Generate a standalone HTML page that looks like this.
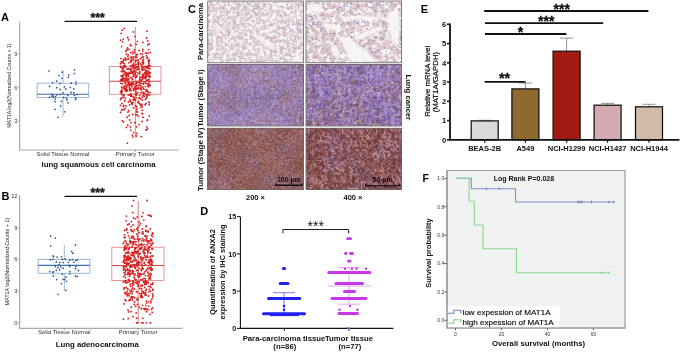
<!DOCTYPE html><html><head><meta charset="utf-8"><title>Figure</title><style>html,body{margin:0;padding:0;background:#fff;width:685px;height:352px;overflow:hidden}svg{display:block}text{font-family:"Liberation Sans",Arial,sans-serif}</style></head><body><svg width="685" height="352" viewBox="0 0 685 352" font-family="Liberation Sans, Arial, sans-serif"><defs><filter id="p1" x="0" y="0" width="100%" height="100%" color-interpolation-filters="sRGB"><feTurbulence type="fractalNoise" baseFrequency="0.3" numOctaves="3" seed="11"/><feComponentTransfer><feFuncR type="linear" slope="3.333333333333333" intercept="-1.1666666666666665"/><feFuncG type="linear" slope="4.999999999999998" intercept="-2.9999999999999987"/><feFuncB type="linear" slope="0" intercept="0"/><feFuncA type="linear" slope="0" intercept="1"/></feComponentTransfer><feColorMatrix type="matrix" values="-0.125 -0.031 0.000 0.000 0.992 -0.212 -0.055 0.000 0.000 1.000 -0.149 -0.047 0.000 0.000 0.973 0 0 0 0 1" result="fc"/><feTurbulence type="fractalNoise" baseFrequency="0.05" numOctaves="2" seed="21"/><feComponentTransfer><feFuncR type="linear" slope="2.5" intercept="-0.75"/><feFuncG type="linear" slope="0" intercept="0"/><feFuncB type="linear" slope="0" intercept="0"/><feFuncA type="linear" slope="0" intercept="1"/></feComponentTransfer><feColorMatrix type="matrix" values="-0.039 0.000 0.000 0.000 0.500 -0.039 0.000 0.000 0.000 0.500 -0.039 0.000 0.000 0.000 0.500 0 0 0 0 1" result="cc"/><feComposite in="fc" in2="cc" operator="arithmetic" k1="0" k2="1" k3="1" k4="-0.5" result="m1"/><feGaussianBlur stdDeviation="0.45"/><feComponentTransfer><feFuncA type="linear" slope="0" intercept="1"/></feComponentTransfer></filter><filter id="p2" x="0" y="0" width="100%" height="100%" color-interpolation-filters="sRGB"><feTurbulence type="fractalNoise" baseFrequency="0.22" numOctaves="3" seed="12"/><feComponentTransfer><feFuncR type="linear" slope="4.999999999999998" intercept="-1.7999999999999994"/><feFuncG type="linear" slope="5.5555555555555545" intercept="-3.4444444444444438"/><feFuncB type="linear" slope="0" intercept="0"/><feFuncA type="linear" slope="0" intercept="1"/></feComponentTransfer><feColorMatrix type="matrix" values="-0.110 -0.031 0.000 0.000 0.984 -0.196 -0.055 0.000 0.000 0.984 -0.157 -0.047 0.000 0.000 0.969 0 0 0 0 1" result="fc"/><feTurbulence type="fractalNoise" baseFrequency="0.045" numOctaves="2" seed="22"/><feComponentTransfer><feFuncR type="linear" slope="2.5" intercept="-0.75"/><feFuncG type="linear" slope="0" intercept="0"/><feFuncB type="linear" slope="0" intercept="0"/><feFuncA type="linear" slope="0" intercept="1"/></feComponentTransfer><feColorMatrix type="matrix" values="-0.039 0.000 0.000 0.000 0.500 -0.039 0.000 0.000 0.000 0.500 -0.039 0.000 0.000 0.000 0.500 0 0 0 0 1" result="cc"/><feComposite in="fc" in2="cc" operator="arithmetic" k1="0" k2="1" k3="1" k4="-0.5" result="m1"/><feGaussianBlur stdDeviation="0.45"/><feComponentTransfer><feFuncA type="linear" slope="0" intercept="1"/></feComponentTransfer></filter><filter id="s1" x="0" y="0" width="100%" height="100%" color-interpolation-filters="sRGB"><feTurbulence type="fractalNoise" baseFrequency="0.35" numOctaves="3" seed="13"/><feComponentTransfer><feFuncR type="linear" slope="2.5" intercept="-0.75"/><feFuncG type="linear" slope="3.333333333333333" intercept="-1.6666666666666665"/><feFuncB type="linear" slope="0" intercept="0"/><feFuncA type="linear" slope="0" intercept="1"/></feComponentTransfer><feColorMatrix type="matrix" values="-0.098 -0.059 0.000 0.000 0.710 -0.110 -0.098 0.000 0.000 0.627 -0.059 -0.216 0.000 0.000 0.820 0 0 0 0 1" result="fc"/><feTurbulence type="fractalNoise" baseFrequency="0.045" numOctaves="2" seed="23"/><feComponentTransfer><feFuncR type="linear" slope="2.5" intercept="-0.75"/><feFuncG type="linear" slope="4.0" intercept="-1.6"/><feFuncB type="linear" slope="0" intercept="0"/><feFuncA type="linear" slope="0" intercept="1"/></feComponentTransfer><feColorMatrix type="matrix" values="-0.059 0.000 0.000 0.000 0.500 -0.059 -0.020 0.000 0.000 0.500 -0.059 -0.098 0.000 0.000 0.500 0 0 0 0 1" result="cc"/><feComposite in="fc" in2="cc" operator="arithmetic" k1="0" k2="1" k3="1" k4="-0.5" result="m1"/><feGaussianBlur stdDeviation="0.45"/><feComponentTransfer><feFuncA type="linear" slope="0" intercept="1"/></feComponentTransfer></filter><filter id="s2" x="0" y="0" width="100%" height="100%" color-interpolation-filters="sRGB"><feTurbulence type="fractalNoise" baseFrequency="0.25" numOctaves="3" seed="14"/><feComponentTransfer><feFuncR type="linear" slope="2.5" intercept="-0.75"/><feFuncG type="linear" slope="3.333333333333333" intercept="-1.6666666666666665"/><feFuncB type="linear" slope="0" intercept="0"/><feFuncA type="linear" slope="0" intercept="1"/></feComponentTransfer><feColorMatrix type="matrix" values="-0.118 -0.059 0.000 0.000 0.702 -0.125 -0.110 0.000 0.000 0.604 -0.071 -0.235 0.000 0.000 0.820 0 0 0 0 1" result="fc"/><feTurbulence type="fractalNoise" baseFrequency="0.06" numOctaves="2" seed="24"/><feComponentTransfer><feFuncR type="linear" slope="2.5" intercept="-0.75"/><feFuncG type="linear" slope="4.0" intercept="-1.6"/><feFuncB type="linear" slope="0" intercept="0"/><feFuncA type="linear" slope="0" intercept="1"/></feComponentTransfer><feColorMatrix type="matrix" values="-0.059 0.000 0.000 0.000 0.500 -0.059 -0.020 0.000 0.000 0.500 -0.059 -0.098 0.000 0.000 0.500 0 0 0 0 1" result="cc"/><feComposite in="fc" in2="cc" operator="arithmetic" k1="0" k2="1" k3="1" k4="-0.5" result="m1"/><feGaussianBlur stdDeviation="0.45"/><feComponentTransfer><feFuncA type="linear" slope="0" intercept="1"/></feComponentTransfer></filter><filter id="t1" x="0" y="0" width="100%" height="100%" color-interpolation-filters="sRGB"><feTurbulence type="fractalNoise" baseFrequency="0.35" numOctaves="3" seed="15"/><feComponentTransfer><feFuncR type="linear" slope="2.0" intercept="-0.5"/><feFuncG type="linear" slope="4.0" intercept="-2.2"/><feFuncB type="linear" slope="0" intercept="0"/><feFuncA type="linear" slope="0" intercept="1"/></feComponentTransfer><feColorMatrix type="matrix" values="-0.098 0.000 0.000 0.000 0.651 -0.098 0.071 0.000 0.000 0.447 -0.086 0.176 0.000 0.000 0.412 0 0 0 0 1" result="fc"/><feTurbulence type="fractalNoise" baseFrequency="0.04" numOctaves="2" seed="25"/><feComponentTransfer><feFuncR type="linear" slope="2.5" intercept="-0.75"/><feFuncG type="linear" slope="5.0" intercept="-2.25"/><feFuncB type="linear" slope="0" intercept="0"/><feFuncA type="linear" slope="0" intercept="1"/></feComponentTransfer><feColorMatrix type="matrix" values="-0.047 0.000 0.000 0.000 0.500 -0.047 0.031 0.000 0.000 0.500 -0.047 0.086 0.000 0.000 0.500 0 0 0 0 1" result="cc"/><feComposite in="fc" in2="cc" operator="arithmetic" k1="0" k2="1" k3="1" k4="-0.5" result="m1"/><feGaussianBlur stdDeviation="0.45"/><feComponentTransfer><feFuncA type="linear" slope="0" intercept="1"/></feComponentTransfer></filter><filter id="t2" x="0" y="0" width="100%" height="100%" color-interpolation-filters="sRGB"><feTurbulence type="fractalNoise" baseFrequency="0.25" numOctaves="3" seed="16"/><feComponentTransfer><feFuncR type="linear" slope="2.5" intercept="-0.75"/><feFuncG type="linear" slope="4.545454545454544" intercept="-2.6363636363636354"/><feFuncB type="linear" slope="0" intercept="0"/><feFuncA type="linear" slope="0" intercept="1"/></feComponentTransfer><feColorMatrix type="matrix" values="-0.137 0.000 0.000 0.000 0.675 -0.125 0.071 0.000 0.000 0.439 -0.110 0.176 0.000 0.000 0.420 0 0 0 0 1" result="fc"/><feTurbulence type="fractalNoise" baseFrequency="0.04" numOctaves="2" seed="26"/><feComponentTransfer><feFuncR type="linear" slope="2.5" intercept="-0.75"/><feFuncG type="linear" slope="5.0" intercept="-2.25"/><feFuncB type="linear" slope="0" intercept="0"/><feFuncA type="linear" slope="0" intercept="1"/></feComponentTransfer><feColorMatrix type="matrix" values="-0.047 0.000 0.000 0.000 0.500 -0.047 0.039 0.000 0.000 0.500 -0.047 0.110 0.000 0.000 0.500 0 0 0 0 1" result="cc"/><feComposite in="fc" in2="cc" operator="arithmetic" k1="0" k2="1" k3="1" k4="-0.5" result="m1"/><feGaussianBlur stdDeviation="0.45"/><feComponentTransfer><feFuncA type="linear" slope="0" intercept="1"/></feComponentTransfer></filter><filter id="bl1" x="-10%" y="-10%" width="120%" height="120%"><feGaussianBlur stdDeviation="0.9"/></filter><clipPath id="cp2"><rect x="306" y="1" width="95.4" height="61.8"/></clipPath><clipPath id="cp1"><rect x="207.8" y="1" width="95.6" height="61.8"/></clipPath><filter id="bl2" x="0" y="0" width="100%" height="100%"><feGaussianBlur stdDeviation="0.3"/></filter><clipPath id="ci0"><rect x="207.8" y="1.0" width="95.6" height="61.8"/></clipPath><clipPath id="ci1"><rect x="306.0" y="1.0" width="95.4" height="61.8"/></clipPath><clipPath id="ci2"><rect x="207.8" y="64.6" width="95.6" height="61.4"/></clipPath><clipPath id="ci3"><rect x="306.0" y="64.6" width="95.4" height="61.4"/></clipPath><clipPath id="ci4"><rect x="207.8" y="128.2" width="95.6" height="61.2"/></clipPath><clipPath id="ci5"><rect x="306.0" y="128.2" width="95.4" height="61.2"/></clipPath></defs><rect width="685" height="352" fill="#fff"/><text x="0.9" y="20.6" font-size="11" font-weight="bold" text-anchor="start" fill="#000">A</text><path d="M19.6 22V150H178.8" fill="none" stroke="#a8a8a8" stroke-width="1.2"/><path d="M18.2 120.99H19.6" stroke="#888" stroke-width="0.8"/><text x="17.6" y="123.09" font-size="5.8" text-anchor="end" fill="#3a3a3a">3</text><path d="M18.2 87.48H19.6" stroke="#888" stroke-width="0.8"/><text x="17.6" y="89.58" font-size="5.8" text-anchor="end" fill="#3a3a3a">6</text><path d="M18.2 53.97H19.6" stroke="#888" stroke-width="0.8"/><text x="17.6" y="56.07" font-size="5.8" text-anchor="end" fill="#3a3a3a">9</text><path d="M63 150v1.8" stroke="#666" stroke-width="0.7"/><path d="M135.3 150v1.8" stroke="#666" stroke-width="0.7"/><text x="63" y="155.6" font-size="5.95" text-anchor="middle" fill="#333">Solid Tissue Normal</text><text x="135.3" y="155.6" font-size="5.95" text-anchor="middle" fill="#333">Primary Tumor</text><text x="98.5" y="166.8" font-size="7.8" font-weight="bold" text-anchor="middle" fill="#111">lung squamous cell carcinoma</text><text x="11.4" y="85.6" font-size="5.2" text-anchor="middle" fill="#222" transform="rotate(-90 11.4 85.6)">MAT1A log2(Normalized Counts + 1)</text><path d="M64.5 21.4H137.1" stroke="#111" stroke-width="1.3"/><text x="97.7" y="21.5" font-size="12.3" font-weight="bold" text-anchor="middle" fill="#111" stroke="#111" stroke-width="0.3">***</text><path d="M63 70.1V83.2M63 97.4V117" stroke="#8fb0d8" stroke-width="0.9"/><rect x="37.2" y="83.2" width="51.5" height="14.200000000000003" fill="none" stroke="#8fb0d8" stroke-width="0.9"/><path d="M37.2 94.3H88.7" stroke="#3d6db0" stroke-width="1.1"/><circle cx="49" cy="71" r="0.85" fill="#2b4f90"/><circle cx="62.3" cy="72.2" r="0.85" fill="#2b4f90"/><circle cx="74.5" cy="69.8" r="0.85" fill="#2b4f90"/><circle cx="74.5" cy="73.5" r="0.85" fill="#2b4f90"/><circle cx="58.9" cy="75.6" r="0.85" fill="#2b4f90"/><circle cx="68.7" cy="75.2" r="0.85" fill="#2b4f90"/><circle cx="68.2" cy="77.3" r="0.85" fill="#2b4f90"/><circle cx="61.9" cy="78.3" r="0.85" fill="#2b4f90"/><circle cx="56.8" cy="81.2" r="0.85" fill="#2b4f90"/><circle cx="52.5" cy="82.5" r="0.85" fill="#2b4f90"/><circle cx="60.2" cy="83.4" r="0.85" fill="#2b4f90"/><circle cx="71.1" cy="83.2" r="0.85" fill="#2b4f90"/><circle cx="75.9" cy="82" r="0.85" fill="#2b4f90"/><circle cx="75.9" cy="84" r="0.85" fill="#2b4f90"/><circle cx="49.5" cy="86.3" r="0.85" fill="#2b4f90"/><circle cx="56.8" cy="87.7" r="0.85" fill="#2b4f90"/><circle cx="60.2" cy="89.4" r="0.85" fill="#2b4f90"/><circle cx="64.3" cy="86.8" r="0.85" fill="#2b4f90"/><circle cx="65.7" cy="88.9" r="0.85" fill="#2b4f90"/><circle cx="70.3" cy="87.5" r="0.85" fill="#2b4f90"/><circle cx="73.8" cy="88.9" r="0.85" fill="#2b4f90"/><circle cx="63.1" cy="92.8" r="0.85" fill="#2b4f90"/><circle cx="71.1" cy="92.3" r="0.85" fill="#2b4f90"/><circle cx="73.8" cy="92.6" r="0.85" fill="#2b4f90"/><circle cx="51.7" cy="94.3" r="0.85" fill="#2b4f90"/><circle cx="52.9" cy="95.7" r="0.85" fill="#2b4f90"/><circle cx="56.8" cy="94.8" r="0.85" fill="#2b4f90"/><circle cx="60.5" cy="94.5" r="0.85" fill="#2b4f90"/><circle cx="67.9" cy="95.3" r="0.85" fill="#2b4f90"/><circle cx="74.5" cy="95.3" r="0.85" fill="#2b4f90"/><circle cx="77.2" cy="94.5" r="0.85" fill="#2b4f90"/><circle cx="49.5" cy="97.4" r="0.85" fill="#2b4f90"/><circle cx="55.4" cy="96.5" r="0.85" fill="#2b4f90"/><circle cx="63.6" cy="97.4" r="0.85" fill="#2b4f90"/><circle cx="66.5" cy="98.2" r="0.85" fill="#2b4f90"/><circle cx="75.9" cy="98.2" r="0.85" fill="#2b4f90"/><circle cx="55.1" cy="99.1" r="0.85" fill="#2b4f90"/><circle cx="67" cy="99.9" r="0.85" fill="#2b4f90"/><circle cx="75.5" cy="99.4" r="0.85" fill="#2b4f90"/><circle cx="55.1" cy="101.6" r="0.85" fill="#2b4f90"/><circle cx="61.4" cy="101.3" r="0.85" fill="#2b4f90"/><circle cx="68.2" cy="102.8" r="0.85" fill="#2b4f90"/><circle cx="60.6" cy="105.9" r="0.85" fill="#2b4f90"/><circle cx="55.1" cy="109.3" r="0.85" fill="#2b4f90"/><circle cx="64.8" cy="111.8" r="0.85" fill="#2b4f90"/><circle cx="58" cy="117.3" r="0.85" fill="#2b4f90"/><circle cx="52" cy="96.5" r="0.85" fill="#2b4f90"/><circle cx="53.4" cy="97" r="0.85" fill="#2b4f90"/><path d="M135.3 27V137.5" stroke="#e07070" stroke-width="0.9"/><rect x="109.3" y="66.5" width="51.60000000000001" height="27.75" fill="none" stroke="#e58a8a" stroke-width="0.9"/><path d="M138.4 116.4h0M122.3 83.6h0M127.3 74.8h0M134.4 89.6h0M124.8 101.0h0M146.3 76.5h0M122.2 80.9h0M138.0 102.1h0M134.5 50.0h0M146.7 73.8h0M144.3 66.4h0M148.4 86.9h0M126.8 73.0h0M133.4 75.0h0M131.9 85.3h0M137.9 62.6h0M148.2 60.8h0M150.0 92.6h0M149.2 64.1h0M137.4 54.1h0M137.5 72.8h0M122.2 30.2h0M144.3 73.2h0M124.8 80.1h0M121.6 80.0h0M121.6 110.1h0M149.7 94.8h0M150.3 52.5h0M121.2 61.6h0M132.5 67.8h0M146.3 77.2h0M149.1 76.0h0M135.9 91.7h0M138.2 68.0h0M135.5 105.8h0M141.9 104.2h0M135.9 114.7h0M120.6 40.2h0M138.8 82.3h0M122.1 81.1h0M130.9 101.9h0M142.4 74.9h0M149.2 43.9h0M134.0 70.0h0M129.7 85.8h0M138.2 66.7h0M121.1 98.3h0M142.4 61.6h0M127.5 75.0h0M133.4 31.9h0M130.3 69.0h0M133.5 71.7h0M139.8 73.0h0M133.8 67.7h0M126.0 59.6h0M145.5 66.9h0M139.6 97.6h0M130.7 52.7h0M128.4 102.0h0M132.8 53.8h0M125.0 108.3h0M148.6 49.6h0M148.8 63.6h0M127.0 81.0h0M135.9 68.1h0M130.5 126.9h0M128.9 49.5h0M121.7 71.3h0M147.2 91.5h0M137.6 111.8h0M129.3 88.0h0M136.0 88.9h0M130.5 60.4h0M146.1 103.6h0M126.2 76.8h0M144.8 93.4h0M144.5 69.2h0M120.5 112.5h0M128.4 76.5h0M136.1 95.1h0M120.4 105.4h0M124.1 78.3h0M122.9 62.6h0M130.8 84.9h0M137.9 67.7h0M124.0 74.8h0M141.8 67.1h0M131.5 71.4h0M143.8 75.1h0M133.2 73.0h0M135.2 99.6h0M134.1 100.0h0M136.4 64.4h0M133.1 65.4h0M148.4 72.8h0M128.2 58.3h0M124.0 95.6h0M144.1 96.2h0M142.3 106.5h0M120.4 63.7h0M143.5 62.3h0M146.7 75.5h0M121.0 79.7h0M140.5 58.6h0M148.9 59.6h0M143.3 78.4h0M141.8 83.6h0M122.1 88.0h0M137.2 114.9h0M127.8 79.2h0M142.9 70.2h0M130.8 89.9h0M122.8 68.4h0M142.7 64.3h0M141.0 92.9h0M134.8 88.0h0M147.2 95.8h0M147.8 44.7h0M133.6 65.5h0M126.3 75.0h0M129.7 68.7h0M129.2 115.5h0M132.7 114.5h0M126.8 89.9h0M134.7 100.0h0M130.0 73.0h0M124.6 67.1h0M134.3 99.9h0M144.9 77.1h0M146.0 103.6h0M142.3 76.8h0M127.3 90.3h0M140.6 77.4h0M126.0 72.8h0M125.9 106.0h0M128.0 59.3h0M129.7 104.8h0M123.1 80.5h0M129.1 86.0h0M120.5 99.5h0M133.4 90.6h0M149.0 74.7h0M136.6 60.3h0M123.7 94.7h0M147.6 57.6h0M143.5 59.2h0M129.2 84.9h0M128.3 95.1h0M149.1 102.2h0M135.1 86.9h0M141.8 81.3h0M139.7 88.4h0M125.7 83.5h0M148.3 84.0h0M130.2 100.8h0M139.7 95.4h0M129.7 90.7h0M142.9 42.4h0M142.5 69.7h0M146.5 81.1h0M135.4 56.9h0M130.3 84.0h0M136.5 93.7h0M123.7 97.3h0M123.3 39.1h0M125.8 78.3h0M132.8 137.1h0M138.1 69.6h0M132.3 135.1h0M126.4 127.4h0M143.7 94.5h0M148.8 65.9h0M136.9 109.7h0M140.9 107.3h0M142.1 100.0h0M143.4 83.2h0M134.1 98.0h0M136.2 85.5h0M133.6 132.6h0M149.1 79.7h0M139.0 62.1h0M131.1 45.7h0M148.2 53.1h0M146.4 70.8h0M138.3 59.9h0M141.8 57.4h0M148.3 94.8h0M133.4 56.9h0M121.6 86.9h0M126.3 86.1h0M136.4 136.0h0M139.8 79.2h0M132.3 104.4h0M147.3 75.8h0M136.2 89.4h0M127.0 68.9h0M124.6 73.5h0M126.2 54.2h0M125.3 72.3h0M123.6 59.5h0M121.0 98.4h0M132.5 79.3h0M132.2 65.1h0M149.3 77.4h0M125.2 58.0h0M130.7 70.1h0M128.6 39.7h0M134.3 71.9h0M128.3 83.2h0M139.2 68.8h0M149.4 60.7h0M120.4 67.0h0M121.4 71.4h0M139.9 77.2h0M134.6 67.2h0M147.8 40.9h0M138.5 67.1h0M122.9 76.9h0M132.0 78.4h0M140.7 85.7h0M142.3 68.4h0M136.9 57.6h0M127.2 89.8h0M134.7 67.8h0M138.5 63.3h0M131.9 58.6h0M121.0 66.2h0M143.1 60.1h0M145.6 70.6h0M146.7 73.3h0M142.3 110.2h0M131.4 69.7h0M137.4 41.3h0M127.5 47.9h0M124.9 65.5h0M127.2 81.6h0M126.9 80.8h0M138.4 102.7h0M136.4 66.9h0M145.1 81.9h0M121.0 76.1h0M122.9 69.7h0M127.0 49.4h0M143.1 95.8h0M130.7 94.0h0M145.4 86.6h0M144.7 77.2h0M142.1 121.4h0M130.7 96.0h0M142.4 62.4h0M139.8 71.4h0M150.2 76.5h0M133.2 66.0h0M148.2 83.7h0M146.5 70.8h0M136.4 106.3h0M148.7 102.3h0M143.5 63.2h0M150.2 85.1h0M125.8 88.8h0M139.5 84.7h0M142.7 51.1h0M142.6 113.7h0M128.9 73.9h0M122.6 97.3h0M143.2 56.8h0M146.6 38.0h0M125.1 85.9h0M136.6 97.6h0M145.9 75.4h0M129.2 72.4h0M124.2 85.9h0M136.4 81.7h0M143.4 67.4h0M149.7 76.5h0M125.9 75.7h0M133.3 88.6h0M123.1 61.7h0M127.7 73.7h0M121.6 89.9h0M139.1 73.9h0M127.7 56.3h0M143.0 117.2h0M136.9 108.1h0M125.4 90.8h0M147.5 129.0h0M140.3 104.8h0M132.7 71.6h0M125.4 98.5h0M136.7 126.8h0M130.9 122.6h0M149.1 74.3h0M129.7 119.9h0M145.1 104.7h0M138.7 64.2h0M134.9 122.7h0M141.6 105.3h0M131.4 61.7h0M147.2 66.2h0M147.9 85.8h0M131.8 103.6h0M148.8 84.5h0M129.8 68.7h0M127.8 81.3h0M122.7 71.8h0M136.1 83.5h0M145.4 73.8h0M128.8 79.0h0M122.4 81.1h0M136.7 112.0h0M127.4 84.8h0M125.6 59.5h0M140.5 53.9h0M143.1 76.5h0M126.0 79.3h0M149.1 76.3h0M131.8 83.0h0M124.2 28.4h0M147.7 67.1h0M126.1 66.6h0M127.7 37.5h0M148.8 80.5h0M120.9 83.4h0M142.7 92.2h0M136.4 95.0h0M136.3 86.7h0M148.3 73.5h0M125.7 60.4h0M128.3 74.8h0M121.9 103.5h0M123.7 105.4h0M146.4 53.2h0M136.1 56.8h0M123.1 80.9h0M138.3 87.6h0M135.5 76.6h0M138.3 85.6h0M148.4 66.7h0M149.6 73.3h0M124.0 109.6h0M139.7 81.2h0M149.3 115.9h0M146.5 98.0h0M136.2 77.1h0M133.1 83.9h0M143.6 83.5h0M149.7 68.7h0M126.7 91.4h0M146.3 67.7h0M131.1 90.3h0M131.5 94.9h0M146.6 80.2h0M131.4 73.2h0M124.5 71.2h0M121.2 98.4h0M147.9 68.6h0M145.4 81.9h0M133.5 107.9h0M131.6 57.1h0M147.0 58.3h0M138.3 66.0h0M121.1 33.3h0M125.8 51.2h0M132.0 84.7h0M140.1 99.0h0M123.2 70.9h0M133.6 81.9h0M150.1 85.5h0M133.0 51.8h0M145.1 78.6h0M146.8 97.1h0M132.1 67.3h0M148.4 92.1h0M137.5 82.4h0M146.0 83.6h0M128.8 62.8h0M126.4 89.4h0M147.3 120.0h0M130.9 130.1h0M147.6 83.8h0M122.1 80.4h0M129.7 89.8h0M145.0 72.4h0M123.9 87.3h0M125.9 88.0h0M135.3 74.5h0M122.0 62.7h0M132.0 102.6h0M141.1 87.6h0M123.6 67.9h0M127.7 125.2h0M126.8 72.7h0M142.8 86.9h0M136.5 85.6h0M122.0 91.0h0M146.1 91.4h0M147.3 90.1h0M127.0 85.3h0M150.2 65.8h0M125.7 80.9h0M137.8 92.6h0M136.1 44.4h0M146.2 98.3h0M135.1 77.1h0M123.1 75.1h0M136.9 88.7h0M136.5 55.2h0M145.4 99.3h0M140.7 80.2h0M130.8 77.5h0M141.2 90.1h0M131.9 84.3h0M142.0 113.4h0M132.1 96.6h0M123.5 121.9h0M134.8 65.1h0M123.3 106.4h0M148.0 80.0h0M122.3 94.8h0M129.7 90.5h0M134.6 52.5h0M128.2 55.0h0M135.6 72.0h0M127.0 50.0h0M147.4 73.4h0M141.4 136.7h0M149.5 77.1h0M143.2 63.2h0M135.6 99.8h0M146.4 90.0h0M133.1 102.6h0M128.0 80.3h0M121.7 92.5h0M139.5 103.4h0M148.9 85.6h0M142.1 97.5h0M142.7 61.1h0M126.4 74.5h0M134.8 36.6h0M124.8 82.7h0M125.1 89.7h0M139.0 124.6h0M122.8 78.5h0M132.0 78.3h0M128.2 58.9h0M120.4 80.4h0M121.3 93.6h0M130.1 88.4h0M132.0 57.9h0M133.7 63.5h0M133.9 84.6h0M130.7 70.1h0M129.8 99.6h0M136.7 76.2h0M121.1 80.5h0M126.2 76.4h0M138.3 82.1h0M142.4 54.2h0M122.2 91.3h0M135.3 73.9h0M139.0 50.5h0M124.1 88.5h0M150.3 72.6h0M135.3 61.5h0M132.7 79.2h0M146.4 56.0h0M121.7 79.0h0M129.3 85.4h0M124.3 63.6h0M121.6 46.6h0M126.0 59.1h0M143.4 88.7h0M139.2 98.2h0M149.2 104.7h0M122.3 120.8h0M141.6 65.5h0M132.0 86.7h0M129.5 82.6h0M128.0 81.8h0M139.8 80.3h0M149.0 65.5h0M122.1 75.7h0M137.8 60.4h0M123.2 79.2h0M135.3 67.7h0M130.5 57.4h0M121.5 92.6h0M142.1 79.6h0M126.9 117.2h0M139.6 73.4h0M123.4 60.2h0M135.4 94.2h0M126.3 77.7h0M147.8 94.2h0M147.0 126.9h0M124.4 89.4h0M147.3 120.6h0M146.0 130.0h0M126.8 87.4h0M133.0 76.3h0M127.9 112.1h0M148.8 62.3h0M128.8 110.6h0M146.9 31.2h0M127.2 74.4h0M130.3 44.7h0M137.1 75.6h0M135.5 61.2h0M142.9 49.3h0M122.4 109.6h0M149.4 82.3h0M147.7 71.3h0M122.0 67.8h0M128.3 69.0h0M148.0 67.8h0M140.2 83.0h0M130.7 62.2h0M138.1 88.7h0M121.0 58.4h0M130.6 65.8h0M129.8 94.7h0M132.5 73.1h0M143.7 84.1h0M143.3 62.8h0M145.7 73.0h0M131.8 73.3h0M131.1 71.3h0M120.6 91.7h0M133.8 97.2h0M141.8 77.4h0M146.3 72.1h0M144.2 89.3h0M145.5 53.1h0M146.6 70.8h0M123.5 65.8h0M133.8 74.8h0M140.6 63.8h0M136.8 133.4h0M122.9 76.9h0M128.7 83.8h0M141.8 69.5h0M135.6 83.6h0M142.6 74.4h0M143.3 56.7h0M136.4 69.9h0M126.8 78.8h0M133.7 59.4h0M140.4 58.6h0M146.1 94.9h0M127.3 143.1h0M132.0 60.4h0M141.3 89.2h0M143.6 92.9h0M122.5 41.8h0M132.4 82.2h0M133.2 99.7h0M138.3 64.0h0M148.7 71.4h0M138.4 101.1h0M135.2 73.9h0" stroke="#d62222" stroke-width="1.85" stroke-linecap="round"/><path d="M109.3 81.25H160.9" stroke="#d84040" stroke-width="1.1"/><text x="1.4" y="199.8" font-size="11" font-weight="bold" text-anchor="start" fill="#000">B</text><path d="M19.6 196V328.3H182.5" fill="none" stroke="#a8a8a8" stroke-width="1.2"/><path d="M18.2 322.75H19.6" stroke="#888" stroke-width="0.8"/><text x="17.6" y="324.85" font-size="5.8" text-anchor="end" fill="#3a3a3a">0</text><path d="M18.2 291.04H19.6" stroke="#888" stroke-width="0.8"/><text x="17.6" y="293.14000000000004" font-size="5.8" text-anchor="end" fill="#3a3a3a">3</text><path d="M18.2 259.33H19.6" stroke="#888" stroke-width="0.8"/><text x="17.6" y="261.43" font-size="5.8" text-anchor="end" fill="#3a3a3a">6</text><path d="M18.2 227.62H19.6" stroke="#888" stroke-width="0.8"/><text x="17.6" y="229.72" font-size="5.8" text-anchor="end" fill="#3a3a3a">9</text><path d="M18.2 195.91H19.6" stroke="#888" stroke-width="0.8"/><text x="17.6" y="198.01" font-size="5.8" text-anchor="end" fill="#3a3a3a">12</text><path d="M64.3 328.3v1.8" stroke="#666" stroke-width="0.7"/><path d="M138.2 328.3v1.8" stroke="#666" stroke-width="0.7"/><text x="64.3" y="334.4" font-size="5.95" text-anchor="middle" fill="#333">Solid Tissue Normal</text><text x="138.2" y="334.4" font-size="5.95" text-anchor="middle" fill="#333">Primary Tumor</text><text x="97.3" y="347" font-size="7.8" font-weight="bold" text-anchor="middle" fill="#111">Lung adenocarcinoma</text><text x="8.8" y="261.6" font-size="5.42" text-anchor="middle" fill="#222" transform="rotate(-90 8.8 261.6)">MAT1A log2(Normalized Counts + 1)</text><path d="M64.5 196.4H137.1" stroke="#111" stroke-width="1.3"/><text x="97.7" y="196.5" font-size="12.3" font-weight="bold" text-anchor="middle" fill="#111" stroke="#111" stroke-width="0.3">***</text><path d="M64.3 244.9V259.4M64.3 273.3V290.4" stroke="#8fb0d8" stroke-width="0.9"/><rect x="38.1" y="259.4" width="51.800000000000004" height="13.900000000000034" fill="none" stroke="#8fb0d8" stroke-width="0.9"/><path d="M38.1 265.4H89.9" stroke="#3d6db0" stroke-width="1.1"/><circle cx="50.7" cy="235.9" r="0.85" fill="#2b4f90"/><circle cx="55.4" cy="238.1" r="0.85" fill="#2b4f90"/><circle cx="50.7" cy="246.1" r="0.85" fill="#2b4f90"/><circle cx="75.5" cy="244.9" r="0.85" fill="#2b4f90"/><circle cx="71.6" cy="251.5" r="0.85" fill="#2b4f90"/><circle cx="72.8" cy="253.2" r="0.85" fill="#2b4f90"/><circle cx="52.9" cy="255.8" r="0.85" fill="#2b4f90"/><circle cx="53.7" cy="256.6" r="0.85" fill="#2b4f90"/><circle cx="57.1" cy="257.1" r="0.85" fill="#2b4f90"/><circle cx="61.4" cy="256.5" r="0.85" fill="#2b4f90"/><circle cx="50.3" cy="259.7" r="0.85" fill="#2b4f90"/><circle cx="52.9" cy="259.4" r="0.85" fill="#2b4f90"/><circle cx="62.3" cy="259.2" r="0.85" fill="#2b4f90"/><circle cx="65.3" cy="259.2" r="0.85" fill="#2b4f90"/><circle cx="69.9" cy="260.2" r="0.85" fill="#2b4f90"/><circle cx="72.5" cy="259.7" r="0.85" fill="#2b4f90"/><circle cx="75.9" cy="260.6" r="0.85" fill="#2b4f90"/><circle cx="77.2" cy="260.2" r="0.85" fill="#2b4f90"/><circle cx="56.3" cy="261.9" r="0.85" fill="#2b4f90"/><circle cx="59.7" cy="262.6" r="0.85" fill="#2b4f90"/><circle cx="63.1" cy="262.6" r="0.85" fill="#2b4f90"/><circle cx="68.2" cy="262.3" r="0.85" fill="#2b4f90"/><circle cx="73.8" cy="262.3" r="0.85" fill="#2b4f90"/><circle cx="58.9" cy="264.8" r="0.85" fill="#2b4f90"/><circle cx="69.1" cy="265.3" r="0.85" fill="#2b4f90"/><circle cx="55.4" cy="266.5" r="0.85" fill="#2b4f90"/><circle cx="60.6" cy="267" r="0.85" fill="#2b4f90"/><circle cx="69.9" cy="266.5" r="0.85" fill="#2b4f90"/><circle cx="75.9" cy="266.5" r="0.85" fill="#2b4f90"/><circle cx="58" cy="267.7" r="0.85" fill="#2b4f90"/><circle cx="63.1" cy="268.2" r="0.85" fill="#2b4f90"/><circle cx="59.7" cy="269.9" r="0.85" fill="#2b4f90"/><circle cx="56.3" cy="270.4" r="0.85" fill="#2b4f90"/><circle cx="75.5" cy="268.7" r="0.85" fill="#2b4f90"/><circle cx="78.4" cy="270.4" r="0.85" fill="#2b4f90"/><circle cx="50" cy="271.6" r="0.85" fill="#2b4f90"/><circle cx="52.9" cy="272.5" r="0.85" fill="#2b4f90"/><circle cx="53.4" cy="271.6" r="0.85" fill="#2b4f90"/><circle cx="69.9" cy="271.6" r="0.85" fill="#2b4f90"/><circle cx="62.3" cy="274.2" r="0.85" fill="#2b4f90"/><circle cx="69.9" cy="273.8" r="0.85" fill="#2b4f90"/><circle cx="53.4" cy="275.9" r="0.85" fill="#2b4f90"/><circle cx="75.5" cy="275.9" r="0.85" fill="#2b4f90"/><circle cx="77.2" cy="276.7" r="0.85" fill="#2b4f90"/><circle cx="66" cy="277.2" r="0.85" fill="#2b4f90"/><circle cx="63.1" cy="279.3" r="0.85" fill="#2b4f90"/><circle cx="64.8" cy="279.6" r="0.85" fill="#2b4f90"/><circle cx="56.8" cy="279.6" r="0.85" fill="#2b4f90"/><circle cx="66.5" cy="281.3" r="0.85" fill="#2b4f90"/><circle cx="61.4" cy="283.6" r="0.85" fill="#2b4f90"/><circle cx="65.7" cy="290.4" r="0.85" fill="#2b4f90"/><circle cx="58" cy="294.3" r="0.85" fill="#2b4f90"/><path d="M138.2 201V322.8" stroke="#e07070" stroke-width="0.9"/><rect x="111.8" y="247.25" width="52.2" height="33.25" fill="none" stroke="#e58a8a" stroke-width="0.9"/><path d="M151.5 265.5h0M150.9 301.2h0M150.2 252.7h0M139.5 293.3h0M123.6 260.5h0M146.2 282.9h0M147.1 200.5h0M123.3 282.1h0M129.5 271.0h0M131.9 205.9h0M139.4 268.3h0M143.9 249.5h0M150.0 215.3h0M127.6 282.2h0M132.2 255.3h0M133.3 231.7h0M147.8 268.9h0M144.3 273.3h0M152.5 236.6h0M123.7 270.0h0M134.2 304.4h0M128.6 257.0h0M129.1 263.2h0M133.5 218.0h0M138.9 285.1h0M147.1 236.2h0M124.3 241.5h0M141.5 247.3h0M133.4 253.1h0M132.7 281.1h0M125.5 277.6h0M128.0 309.9h0M130.3 284.7h0M148.0 268.1h0M150.7 269.9h0M138.0 264.8h0M151.7 240.2h0M146.8 238.5h0M148.5 286.4h0M136.8 262.7h0M136.8 229.0h0M145.1 309.8h0M127.6 269.0h0M152.9 242.8h0M133.4 280.9h0M131.4 296.6h0M146.8 250.1h0M144.0 278.4h0M144.3 262.3h0M137.8 300.0h0M151.6 270.0h0M140.6 280.0h0M143.3 292.9h0M147.7 268.2h0M142.5 257.8h0M148.0 282.2h0M143.9 240.0h0M151.9 299.2h0M148.3 276.1h0M137.5 265.9h0M128.4 270.0h0M140.6 297.2h0M146.4 289.5h0M144.8 249.4h0M142.7 251.6h0M143.8 241.0h0M130.0 240.5h0M127.2 260.6h0M124.3 261.2h0M134.6 251.0h0M150.3 276.7h0M135.4 282.4h0M148.1 283.1h0M124.3 258.0h0M133.4 241.6h0M151.9 248.7h0M142.5 297.4h0M127.5 244.7h0M152.2 312.4h0M133.7 284.3h0M140.2 253.5h0M127.4 263.5h0M136.2 247.6h0M131.9 289.3h0M150.6 302.8h0M131.0 226.6h0M132.8 285.5h0M138.0 263.0h0M141.9 285.9h0M132.0 262.0h0M139.2 262.0h0M151.3 274.5h0M127.8 263.1h0M132.0 246.9h0M141.3 293.6h0M126.7 258.7h0M133.3 271.7h0M139.1 232.7h0M140.9 286.0h0M130.8 229.7h0M139.6 225.3h0M146.6 303.1h0M142.2 293.1h0M150.6 278.7h0M129.1 295.7h0M148.1 231.0h0M136.2 244.7h0M146.6 311.7h0M139.7 248.5h0M133.1 244.7h0M130.1 299.7h0M124.0 255.5h0M152.6 293.7h0M148.5 265.6h0M142.6 279.5h0M132.0 266.2h0M127.7 274.6h0M141.9 274.3h0M126.4 260.2h0M140.5 257.0h0M149.6 260.4h0M141.2 295.0h0M151.4 255.9h0M127.7 232.9h0M138.4 252.3h0M131.1 291.3h0M130.8 273.5h0M130.2 274.8h0M145.3 264.8h0M125.8 280.5h0M125.9 293.6h0M149.5 289.3h0M132.9 272.2h0M124.8 230.2h0M151.8 260.5h0M152.4 261.8h0M147.8 253.2h0M130.3 290.9h0M141.6 290.8h0M148.1 282.8h0M147.3 256.0h0M141.0 248.4h0M145.4 284.1h0M129.3 259.1h0M149.9 265.2h0M137.3 263.5h0M141.8 264.2h0M127.8 273.0h0M134.4 266.8h0M130.8 254.7h0M128.0 282.3h0M124.2 266.5h0M134.3 239.4h0M137.4 275.6h0M126.7 292.8h0M145.1 271.6h0M129.2 224.0h0M135.2 268.3h0M134.1 255.1h0M145.2 295.3h0M128.1 260.1h0M142.6 305.3h0M152.5 307.9h0M135.5 218.8h0M139.7 249.3h0M126.0 283.0h0M150.2 273.4h0M130.5 257.1h0M135.1 274.0h0M132.4 271.0h0M124.3 237.5h0M135.3 252.7h0M125.7 240.8h0M150.8 239.1h0M148.9 247.0h0M137.8 230.6h0M134.5 260.7h0M132.4 270.7h0M148.0 309.7h0M125.8 249.4h0M147.8 251.4h0M130.5 260.9h0M136.1 260.3h0M144.2 263.3h0M129.2 258.6h0M135.8 280.0h0M145.8 259.6h0M146.0 239.1h0M136.5 282.3h0M145.0 293.0h0M131.2 307.2h0M125.2 271.8h0M131.1 258.6h0M146.1 265.3h0M124.0 256.1h0M149.0 249.5h0M141.6 249.1h0M133.1 297.0h0M140.7 256.9h0M139.1 264.9h0M144.5 283.9h0M126.7 228.7h0M150.6 291.2h0M146.2 284.4h0M139.2 254.4h0M147.6 271.7h0M124.8 269.2h0M137.7 236.4h0M135.0 257.9h0M140.1 273.5h0M145.7 249.6h0M152.7 284.2h0M148.7 250.7h0M148.2 273.1h0M124.3 256.7h0M150.2 228.9h0M147.1 240.6h0M141.9 295.8h0M134.5 302.0h0M128.7 311.9h0M132.7 265.6h0M137.5 281.7h0M135.2 244.3h0M144.0 244.4h0M139.3 307.5h0M143.6 282.0h0M131.7 242.0h0M140.6 244.5h0M144.6 253.2h0M144.7 247.0h0M145.8 280.8h0M143.8 220.1h0M145.4 275.6h0M150.1 257.0h0M152.4 232.9h0M134.9 264.8h0M142.8 268.4h0M134.8 238.9h0M143.9 293.3h0M149.8 268.0h0M132.4 299.9h0M128.2 318.6h0M146.2 294.9h0M148.1 232.1h0M145.0 253.1h0M150.3 286.7h0M131.6 252.3h0M124.1 250.2h0M140.1 274.2h0M141.0 258.0h0M143.9 251.0h0M148.2 241.0h0M132.8 254.4h0M130.1 293.1h0M148.4 301.8h0M127.9 252.4h0M127.8 257.6h0M145.3 235.4h0M147.3 241.7h0M142.0 216.5h0M126.3 287.9h0M134.4 250.1h0M143.6 257.9h0M139.5 245.0h0M126.7 252.8h0M138.1 286.2h0M151.6 240.8h0M132.1 266.8h0M150.8 284.6h0M131.9 236.1h0M140.5 275.8h0M124.7 247.7h0M130.3 284.4h0M126.1 248.5h0M152.7 256.1h0M126.0 300.8h0M147.5 231.3h0M123.7 266.9h0M136.9 299.8h0M129.8 270.5h0M136.5 264.3h0M151.8 248.9h0M138.4 254.8h0M136.2 312.9h0M150.3 240.6h0M123.9 267.3h0M135.6 267.9h0M134.6 242.1h0M145.9 305.3h0M135.9 241.6h0M153.0 234.0h0M137.3 292.1h0M143.2 258.0h0M125.4 252.9h0M150.1 243.1h0M148.0 262.2h0M141.2 259.7h0M151.3 263.9h0M145.8 292.4h0M146.5 256.4h0M125.9 270.2h0M134.3 289.0h0M140.7 279.6h0M131.1 262.0h0M145.1 236.2h0M123.4 319.2h0M135.8 259.7h0M124.9 292.4h0M124.3 287.6h0M132.1 266.0h0M142.8 259.9h0M144.6 281.4h0M151.7 244.7h0M151.2 267.6h0M136.7 251.8h0M150.9 284.2h0M139.8 275.6h0M138.0 250.8h0M129.4 248.6h0M133.5 255.1h0M152.2 264.9h0M145.4 278.8h0M148.1 215.1h0M130.6 286.3h0M149.5 241.1h0M127.3 253.0h0M145.4 281.8h0M147.9 257.3h0M149.3 263.2h0M144.8 283.3h0M141.6 269.2h0M125.1 255.3h0M126.0 266.8h0M150.0 314.4h0M125.3 256.0h0M145.8 257.6h0M132.2 283.3h0M150.3 267.9h0M127.9 289.0h0M129.4 276.3h0M141.8 244.0h0M128.4 252.9h0M136.6 318.2h0M150.6 261.8h0M139.3 274.0h0M139.9 239.0h0M148.3 296.0h0M126.4 243.0h0M131.1 311.6h0M142.4 228.9h0M133.3 236.6h0M142.2 233.6h0M152.4 269.4h0M142.3 266.9h0M133.1 265.0h0M125.1 237.5h0M125.1 299.7h0M128.6 235.8h0M138.4 252.2h0M140.1 262.8h0M126.4 262.6h0M137.2 216.9h0M146.3 301.1h0M152.8 282.8h0M136.3 265.6h0M129.5 281.4h0M142.2 245.5h0M133.0 273.7h0M124.8 275.0h0M137.2 265.7h0M138.2 239.6h0M145.5 290.4h0M127.2 257.0h0M126.3 287.3h0M127.2 295.7h0M141.8 240.8h0M128.1 251.3h0M130.8 241.6h0M124.8 246.5h0M133.3 237.7h0M142.4 238.6h0M131.7 230.3h0M135.6 248.7h0M127.0 247.2h0M123.2 262.1h0M132.6 297.7h0M148.3 275.2h0M133.4 282.3h0M141.6 296.9h0M128.0 264.6h0M146.3 226.2h0M124.5 263.3h0M129.3 274.1h0M148.8 262.1h0M134.7 248.0h0M130.1 290.5h0M140.6 223.6h0M138.3 261.6h0M134.4 275.5h0M145.9 231.2h0M131.0 266.5h0M127.6 270.5h0M126.4 216.1h0M136.4 260.3h0M123.9 289.0h0M146.2 259.8h0M144.7 248.7h0M141.7 288.7h0M134.3 277.7h0M129.8 257.6h0M145.1 294.0h0M128.2 255.8h0M129.7 238.1h0M136.7 283.4h0M146.2 240.6h0M149.0 259.7h0M150.7 260.1h0M135.7 306.2h0M144.6 287.4h0M128.9 300.3h0M146.3 270.0h0M139.2 221.9h0M141.4 269.8h0M127.5 256.5h0M136.0 251.9h0M123.4 269.1h0M133.0 224.9h0M125.6 274.1h0M141.3 258.9h0M137.5 263.2h0M141.4 308.7h0M128.3 249.3h0M130.1 300.2h0M147.7 248.3h0M143.2 291.6h0M126.0 267.0h0M148.9 279.1h0M132.5 253.3h0M125.7 245.3h0M150.7 245.6h0M137.3 239.0h0M127.7 257.1h0M143.4 281.5h0M131.9 266.1h0M132.0 293.7h0M133.6 200.5h0M129.5 247.1h0M137.0 253.4h0M143.8 251.6h0M149.4 277.9h0M131.1 266.3h0M138.3 246.4h0M136.7 265.3h0M136.0 279.7h0M136.4 291.3h0M141.3 270.5h0M128.5 244.6h0M126.5 264.2h0M150.4 269.7h0M131.7 231.1h0M124.2 249.0h0M144.0 253.5h0M148.8 247.4h0M128.5 293.6h0M132.8 291.5h0M134.3 229.9h0M151.5 235.2h0M153.1 295.7h0M145.6 230.1h0M128.4 280.0h0M151.2 259.1h0M136.3 264.5h0M136.8 234.2h0M143.0 212.8h0M138.2 256.9h0M146.6 309.0h0M133.4 271.4h0M124.6 237.7h0M131.4 221.5h0M152.9 249.1h0M129.8 259.3h0M129.0 253.0h0M132.6 261.4h0M153.1 255.9h0M150.8 259.5h0M128.3 260.3h0M125.2 293.7h0M123.5 276.8h0M148.7 306.1h0M150.6 268.0h0M134.7 297.6h0M131.0 264.7h0M126.8 257.9h0M151.9 269.4h0M148.3 243.3h0M135.0 279.1h0M142.2 285.2h0M127.7 259.1h0M140.7 295.6h0M130.1 243.0h0M143.1 269.0h0M129.4 270.3h0M126.8 230.0h0M137.8 273.2h0M142.1 296.5h0M137.2 251.6h0M126.1 257.1h0M138.9 277.2h0M132.3 243.8h0M132.6 287.9h0M137.3 298.4h0M136.6 270.5h0M129.0 272.5h0M138.2 264.0h0M124.1 272.7h0M150.5 253.0h0M133.8 242.7h0M130.1 266.6h0M150.0 274.5h0M137.8 264.7h0M143.2 233.7h0M146.3 289.5h0M141.6 259.8h0M133.1 316.6h0M134.2 264.6h0M151.0 287.3h0M144.5 284.3h0M141.8 260.0h0M145.8 226.5h0M144.9 308.5h0M137.2 262.3h0M152.9 289.2h0M144.6 255.5h0M142.8 232.0h0M146.9 245.0h0M141.7 248.8h0M152.0 244.1h0M136.0 259.9h0M151.6 270.4h0M139.2 281.7h0M142.3 232.2h0M138.0 276.1h0M142.9 318.3h0M132.8 212.6h0M124.5 247.3h0M132.2 246.9h0M130.4 270.9h0M137.5 304.5h0M131.0 298.0h0M127.7 252.9h0M146.3 269.9h0M132.0 273.3h0M137.6 250.8h0M127.5 294.7h0M126.4 266.0h0M149.4 260.9h0M151.6 309.4h0M123.3 243.5h0M152.9 290.3h0M123.4 266.6h0M127.7 224.7h0M139.8 288.5h0M138.8 240.9h0M132.5 252.5h0M146.5 281.5h0M135.9 265.7h0M141.8 261.8h0M134.2 275.6h0M124.1 303.9h0M143.4 273.7h0M130.2 267.4h0M148.8 291.6h0M125.3 262.9h0M131.9 237.7h0M124.6 281.2h0M124.7 234.8h0M148.3 275.7h0M125.1 259.6h0M128.6 248.6h0M138.0 227.5h0M127.2 291.3h0M149.8 247.4h0M152.6 297.1h0M151.2 216.2h0M125.4 282.0h0M143.6 308.6h0M130.0 280.8h0M134.4 252.8h0M145.8 236.6h0M126.1 220.8h0M145.4 257.3h0M144.9 281.6h0M129.0 279.4h0M151.8 263.3h0M133.7 259.8h0M138.0 270.2h0M149.7 215.5h0M129.8 241.1h0M134.0 256.8h0M138.3 283.9h0M137.9 322.8h0M143.3 322.8h0M137.5 322.8h0M150.7 322.8h0M136.5 322.8h0M146.4 322.8h0M150.3 322.8h0M141.6 322.8h0" stroke="#d62222" stroke-width="1.85" stroke-linecap="round"/><path d="M111.8 265.5H164" stroke="#d84040" stroke-width="1.1"/><rect x="207.8" y="1.0" width="95.6" height="61.8" filter="url(#p1)"/><g clip-path="url(#ci0)"><g filter="url(#bl2)"><path d="M287.6 37.9h0M235.4 3.7h0M300.9 37.9h0M283.3 57.3h0M273.6 12.7h0M301.6 18.6h0M268.0 36.9h0M265.2 34.1h0M303.0 32.0h0M281.5 31.5h0M303.2 61.5h0M245.4 20.9h0M290.2 50.4h0M273.9 26.2h0M245.1 9.1h0M267.6 6.1h0M234.0 41.5h0M209.2 52.6h0M214.7 33.4h0M260.1 15.0h0M299.2 22.1h0M256.1 54.6h0M270.6 24.8h0M217.0 60.1h0M264.2 37.0h0M264.9 10.2h0M261.3 35.8h0M263.3 12.4h0M275.6 5.3h0M238.9 7.6h0M279.3 32.0h0M252.4 5.6h0M250.1 14.8h0M236.8 25.4h0M275.4 49.6h0M241.9 42.4h0M256.6 42.5h0M239.4 56.5h0M271.2 12.9h0M262.8 47.3h0M282.4 28.1h0M234.4 39.1h0M277.6 32.3h0M225.4 39.0h0M280.5 57.5h0M302.9 23.8h0M284.8 43.6h0M300.8 32.4h0M290.1 32.2h0M235.4 60.4h0M235.0 20.2h0M213.5 1.0h0M240.5 17.7h0M277.3 1.9h0M293.0 51.5h0M294.8 48.4h0M270.7 48.2h0M291.9 53.8h0M233.7 59.9h0M302.7 43.9h0M266.4 38.9h0M273.4 57.0h0M237.4 25.8h0M238.0 45.6h0M211.1 25.9h0M246.5 25.3h0M262.2 16.2h0M293.1 24.4h0M299.4 58.5h0M241.0 23.8h0M267.0 25.5h0M218.1 18.4h0M225.6 27.0h0M292.9 29.9h0M212.2 48.4h0M290.1 55.6h0M247.8 19.3h0M300.7 24.5h0M261.2 61.6h0M289.2 56.1h0M295.7 44.9h0M239.0 12.7h0M279.1 36.4h0M215.8 54.5h0M216.6 53.2h0M284.2 61.5h0M234.2 2.6h0M257.2 58.7h0M298.3 22.9h0M245.2 60.4h0M286.1 59.0h0M285.1 32.5h0M221.0 33.3h0M216.4 49.4h0M275.5 36.9h0M241.9 45.9h0M249.5 28.5h0M266.4 38.7h0M228.6 46.5h0M225.3 50.2h0M235.2 31.7h0M274.0 28.7h0M254.6 6.4h0M281.8 28.5h0M260.6 13.5h0M271.1 4.8h0M224.9 43.5h0M274.8 32.5h0M229.3 60.5h0M215.7 16.1h0M283.3 48.9h0M264.2 33.3h0M241.0 10.9h0M269.5 25.7h0M281.8 10.9h0M246.7 39.6h0M249.7 2.8h0M259.4 6.5h0M209.4 14.5h0M225.3 46.2h0M274.7 49.9h0M283.8 59.8h0M250.8 54.7h0M269.3 41.0h0M224.0 55.1h0M277.6 38.8h0M235.4 16.9h0M273.6 51.2h0M284.0 2.1h0M293.3 33.0h0M228.6 45.9h0M281.5 58.3h0M251.6 38.8h0M300.6 27.4h0M219.6 46.3h0M286.3 35.7h0M252.2 15.3h0M298.9 56.1h0M212.2 9.7h0M250.8 37.1h0M266.4 21.0h0M225.1 5.2h0M291.0 39.1h0M242.1 50.1h0M284.1 31.1h0M282.4 52.5h0M247.4 2.3h0M275.5 17.7h0M227.7 13.1h0M263.1 1.7h0M284.2 28.4h0M236.7 45.9h0M301.8 22.9h0M268.7 21.0h0M256.7 28.5h0M280.1 16.4h0M259.1 1.6h0M284.7 23.2h0M249.6 17.7h0M224.2 15.0h0M250.1 55.7h0M271.0 24.7h0M222.0 44.1h0M281.7 52.0h0M220.1 7.8h0M264.7 55.6h0M276.0 61.3h0M299.7 49.3h0M220.6 25.5h0M273.9 47.6h0M274.7 55.0h0M290.7 47.0h0M245.8 11.5h0M248.6 13.2h0M254.7 16.9h0M222.1 57.7h0M257.7 49.4h0M289.0 37.4h0M257.9 48.5h0M222.7 22.4h0M288.1 50.8h0M216.1 57.4h0M233.0 36.1h0M228.5 5.7h0M291.1 45.3h0M213.7 48.3h0M277.1 57.3h0M299.2 58.1h0M240.6 35.4h0M290.5 16.8h0M281.5 30.2h0M237.7 3.8h0M263.8 62.0h0M219.0 41.3h0M277.6 40.1h0M287.1 34.5h0M243.2 15.5h0M273.7 23.9h0M287.5 36.9h0M229.6 31.8h0M213.2 5.8h0M253.4 37.4h0M301.3 2.3h0M237.8 15.5h0M243.1 9.7h0M219.2 15.3h0M222.8 38.3h0M250.8 57.6h0M292.2 47.5h0M279.1 29.1h0M261.3 38.2h0M297.0 17.0h0M265.1 60.2h0M272.8 38.5h0M234.7 27.2h0M256.4 8.2h0M238.1 30.7h0M270.4 60.0h0M209.7 28.8h0M214.5 41.4h0M223.2 19.2h0M260.0 48.8h0M246.6 15.9h0M235.5 28.0h0M277.2 55.5h0M301.7 57.6h0M299.5 30.2h0M245.0 30.6h0M245.0 35.5h0M264.4 5.6h0M303.1 47.5h0M231.2 44.9h0M301.2 30.6h0M227.4 35.6h0M244.6 42.7h0M220.8 48.9h0M226.8 45.5h0M212.8 53.1h0M220.4 44.5h0M252.4 18.0h0M263.4 58.8h0M256.3 56.6h0M289.2 22.6h0M283.1 46.2h0M252.9 50.2h0M278.7 6.0h0M289.1 27.3h0M292.8 56.2h0M247.9 13.0h0M232.9 50.2h0M243.0 55.5h0M241.6 10.9h0M286.5 30.1h0M276.8 47.7h0M221.7 45.5h0M212.3 38.1h0M294.3 14.0h0M270.4 56.5h0M288.8 8.7h0M261.4 9.0h0M240.0 33.7h0M287.8 58.8h0M251.1 20.9h0M230.8 10.4h0M269.1 10.6h0M262.0 23.3h0M213.4 16.9h0M243.5 9.1h0M234.1 33.9h0M262.8 6.1h0M221.0 30.6h0M218.9 29.1h0M284.0 35.8h0M236.2 36.7h0M213.8 29.1h0M278.0 14.6h0M293.3 41.4h0M211.1 50.5h0M237.6 43.4h0M296.0 38.9h0M229.3 33.1h0M301.3 29.5h0M213.6 54.0h0M296.0 10.6h0M219.1 36.4h0M270.4 50.6h0M264.2 4.2h0M255.6 49.8h0M289.8 51.7h0M239.9 39.2h0M287.0 55.8h0M240.0 3.9h0M267.6 21.6h0M227.6 18.4h0M251.3 5.9h0M226.8 8.3h0M266.6 1.7h0M232.3 9.4h0M215.3 51.8h0M217.3 54.5h0M233.7 28.4h0M242.9 54.8h0M290.1 28.0h0M225.3 38.8h0M275.6 24.3h0M230.5 59.5h0M259.8 18.9h0M238.0 46.0h0M269.3 47.7h0M233.8 23.1h0M232.6 27.7h0M271.6 40.6h0M235.5 37.1h0M286.4 50.5h0M228.7 2.7h0M221.3 37.7h0M212.1 5.0h0M287.9 24.6h0M250.8 3.4h0M225.1 4.1h0M286.5 15.1h0M287.8 33.4h0M285.7 16.4h0M243.1 37.8h0M233.9 17.6h0M295.2 2.9h0M254.3 46.7h0M239.1 58.0h0M249.5 53.8h0M296.2 44.4h0M299.7 32.2h0M285.5 22.4h0M230.3 14.0h0M240.6 26.0h0M297.8 32.0h0M289.6 48.6h0M229.3 31.7h0M273.0 13.2h0M254.7 11.6h0M285.9 29.7h0M232.2 3.3h0M264.0 57.4h0M285.4 53.7h0M254.8 17.2h0M285.3 57.0h0M222.7 48.0h0M291.2 34.2h0M262.0 25.3h0M300.1 39.6h0M266.1 35.2h0M253.1 1.9h0M225.2 21.5h0M247.7 39.7h0M264.9 54.2h0M222.3 31.9h0M262.5 44.9h0M229.9 32.7h0M222.7 38.1h0M267.7 58.6h0M270.0 8.7h0M256.7 43.9h0M274.3 59.8h0M250.9 32.6h0M278.5 14.1h0M258.7 34.5h0M299.9 23.4h0M216.4 13.3h0M277.9 12.1h0M233.6 62.7h0M255.7 16.1h0M240.2 4.1h0M288.7 14.4h0M221.9 43.1h0M262.9 13.1h0M248.3 54.2h0M259.3 22.2h0M257.9 20.9h0M212.7 8.5h0M279.8 25.6h0M269.8 54.9h0M260.4 6.0h0M283.4 37.9h0M275.8 2.3h0M301.5 49.3h0M228.5 35.3h0M235.1 22.6h0M292.2 23.7h0M293.8 32.9h0M260.5 11.4h0M302.3 52.1h0M288.4 40.8h0M241.0 13.1h0M234.1 58.9h0M284.5 29.0h0M280.3 14.9h0M285.1 36.9h0M292.0 36.5h0M286.3 29.5h0M299.7 40.0h0M256.1 4.9h0M298.4 6.5h0M247.4 40.2h0M241.8 11.1h0M272.6 38.1h0M277.1 51.4h0M234.0 39.7h0M297.0 28.8h0M283.1 28.4h0M265.4 25.0h0M271.4 45.7h0M248.9 57.8h0M255.2 12.9h0M256.4 21.2h0M298.5 45.7h0M233.5 15.5h0M238.0 36.5h0M274.6 52.3h0M302.7 8.0h0M213.9 46.9h0M216.0 14.5h0M294.8 35.9h0M210.7 2.7h0M284.8 32.8h0M285.2 12.3h0M295.8 12.1h0M297.6 46.0h0M279.1 46.2h0M262.8 21.3h0M245.4 52.3h0M257.3 31.1h0M233.3 18.7h0M299.1 47.0h0M242.2 53.8h0M302.0 62.2h0M288.4 49.3h0M252.3 46.4h0M286.9 18.6h0M237.3 48.4h0M293.3 44.7h0M242.7 55.2h0M244.1 6.8h0M302.7 45.2h0M229.6 29.4h0M242.8 32.2h0M298.5 2.5h0M221.3 57.4h0M301.7 53.9h0M236.3 13.0h0M222.7 50.0h0M275.7 31.9h0" stroke="#a08cc4" stroke-width="1.2" stroke-linecap="round" stroke-opacity="0.5"/><path d="M220.8 24.9h0M259.1 23.3h0M222.1 45.2h0M231.5 56.1h0M303.2 61.7h0M221.0 8.6h0M228.6 22.4h0M211.0 21.5h0M225.3 42.0h0M269.7 1.8h0M208.5 7.7h0M289.9 38.0h0M216.4 45.7h0M283.9 44.3h0M222.2 17.0h0M260.7 50.4h0M260.8 13.6h0M235.4 52.8h0M231.7 39.0h0M282.0 11.6h0M255.6 30.3h0M266.1 5.1h0M252.4 25.8h0M223.4 42.3h0M235.3 4.4h0M287.1 21.3h0M248.5 27.1h0M275.3 62.1h0M241.1 51.4h0M242.8 18.5h0M260.1 48.7h0M238.2 3.6h0M239.8 57.9h0M298.4 25.5h0M225.7 48.4h0M236.6 15.8h0M281.4 41.0h0M252.6 48.5h0M247.9 53.2h0M259.1 41.1h0M238.4 35.5h0M240.6 59.6h0M260.2 38.9h0M210.8 49.2h0M300.9 47.7h0M257.1 41.1h0M220.6 15.5h0M260.6 1.8h0M237.5 52.3h0M210.6 10.9h0M258.8 62.2h0M248.3 18.2h0M262.0 51.6h0M261.4 53.1h0M271.7 40.0h0M256.7 18.4h0M254.6 37.9h0M230.4 26.1h0M241.2 21.6h0M247.3 4.8h0M268.4 32.7h0M256.7 57.9h0M277.4 37.5h0M254.8 54.3h0M283.0 6.6h0M243.4 39.9h0M278.0 28.6h0M222.2 50.2h0M231.8 43.4h0M211.9 56.9h0M235.5 47.1h0M274.6 21.9h0M299.4 29.1h0M260.2 2.0h0M209.6 44.7h0M233.7 56.5h0M299.9 12.2h0M290.5 39.9h0M282.8 23.7h0M211.7 59.1h0M284.2 42.7h0M224.1 12.3h0M287.0 43.8h0M218.1 30.8h0M246.3 34.2h0M224.9 17.6h0M245.3 11.4h0M245.3 20.9h0M302.5 9.9h0M295.5 36.2h0M265.4 38.3h0M223.1 54.5h0M241.1 29.8h0M222.2 3.5h0M216.6 9.6h0M293.3 62.6h0M274.2 61.2h0M292.3 59.1h0M257.4 57.1h0M211.9 11.5h0M282.2 8.8h0M290.8 32.3h0M234.6 41.3h0M296.5 22.0h0M220.4 5.8h0M228.1 4.9h0M275.1 36.7h0M268.6 45.2h0M289.6 18.8h0M291.8 12.5h0M246.7 47.6h0M222.1 2.4h0M221.9 53.6h0M254.2 9.2h0M301.1 28.6h0M272.2 60.1h0M251.4 39.1h0M229.1 42.3h0M294.5 41.8h0M260.0 55.0h0M260.3 20.2h0M297.4 35.6h0M285.3 17.9h0M254.5 5.6h0M302.8 44.2h0M282.6 58.5h0M258.6 53.5h0M238.5 56.5h0M235.1 56.4h0M221.3 25.2h0M294.9 49.6h0M286.8 4.5h0M298.4 33.9h0M296.9 11.0h0M212.5 22.6h0M270.1 41.4h0M275.6 45.6h0M268.8 30.9h0M274.9 53.4h0M239.7 36.1h0M249.0 18.2h0M239.3 33.3h0M285.4 51.9h0M285.7 4.4h0M278.7 38.1h0M282.5 1.1h0M271.5 38.1h0M221.5 47.4h0M259.6 13.9h0M290.4 43.0h0M246.5 20.0h0M269.9 1.0h0M219.0 36.1h0M299.2 46.0h0M230.2 10.2h0M279.3 21.8h0M215.7 30.7h0M274.6 38.0h0M285.0 59.4h0M254.0 28.5h0M263.5 4.3h0M240.0 40.3h0M265.7 40.9h0M254.8 24.6h0M209.3 10.5h0M241.5 10.4h0M274.7 23.4h0M215.7 24.7h0M256.0 6.5h0M208.3 61.9h0M239.8 5.5h0M245.4 20.7h0M277.1 7.5h0M243.8 4.0h0M208.9 22.5h0M219.1 57.4h0M208.4 15.1h0M298.1 44.0h0M236.9 24.4h0M229.9 25.5h0M293.3 20.8h0M276.5 21.4h0M282.3 56.1h0M235.2 47.7h0M239.4 32.3h0M224.9 13.0h0M281.6 18.0h0M241.7 13.5h0M221.0 44.7h0M302.2 30.7h0M239.3 44.1h0M294.8 7.0h0M256.7 22.9h0M231.2 2.3h0M222.3 30.8h0M302.1 21.5h0M235.8 34.8h0M283.9 48.7h0M271.0 7.4h0M257.7 54.7h0" stroke="#c0a4c8" stroke-width="1.5" stroke-linecap="round" stroke-opacity="0.45"/><path d="M209.2 55.6h0M215.0 14.7h0M282.4 33.1h0M265.7 40.6h0M209.3 43.0h0M258.0 9.6h0M209.7 49.7h0M229.2 22.6h0M208.5 22.5h0M291.7 34.2h0M276.8 20.5h0M212.7 7.2h0M280.9 49.8h0M228.8 33.4h0M260.3 20.4h0M242.0 45.6h0M281.6 5.8h0M241.7 1.1h0M232.0 26.8h0M228.1 12.4h0M208.1 7.1h0M210.0 8.4h0M246.9 10.4h0M223.2 8.1h0M241.9 17.8h0M268.9 58.2h0M299.5 30.0h0M241.0 5.4h0M257.4 14.2h0M260.0 43.9h0" stroke="#b48a60" stroke-width="1.5" stroke-linecap="round" stroke-opacity="0.5"/></g></g><g clip-path="url(#cp1)" filter="url(#bl1)" fill="#faf7f7" opacity="0.85"><polygon points="255,34.5 259,35 266,40 270,41 275,48 273,50 265,45 257,38"/><polygon points="263,33 268,29 273,26.5 275,28 270,31 266,35"/><polygon points="262,40 268,40 270,45 264,44"/><polygon points="292,60 297,56 302,55 302,62 292,62"/><polygon points="214,30 222,28 224,30 216,32"/></g><rect x="207.8" y="1.0" width="95.6" height="61.8" fill="none" stroke="#666" stroke-width="0.8"/><rect x="306.0" y="1.0" width="95.4" height="61.8" filter="url(#p2)"/><g clip-path="url(#ci1)"><g filter="url(#bl2)"><path d="M396.0 23.2h0M380.9 37.5h0M334.1 58.0h0M388.9 23.5h0M398.8 14.9h0M382.8 43.1h0M350.9 2.9h0M391.4 36.5h0M343.2 22.9h0M368.2 22.4h0M354.4 23.9h0M311.3 16.5h0M386.2 51.6h0M369.7 30.1h0M398.5 52.9h0M329.4 36.1h0M397.2 49.6h0M341.2 30.0h0M355.4 56.7h0M374.1 25.6h0M350.1 6.7h0M352.9 15.2h0M314.9 6.6h0M326.6 44.2h0M323.1 36.1h0M363.5 60.7h0M349.7 48.9h0M309.3 40.8h0M399.5 3.9h0M392.6 10.6h0M370.4 2.6h0M311.9 9.3h0M392.0 49.4h0M369.1 41.1h0M334.0 33.6h0M352.0 59.8h0M349.3 47.2h0M340.2 58.2h0M387.3 62.3h0M327.7 54.8h0M351.5 32.5h0M357.7 6.7h0M390.1 38.4h0M316.0 46.7h0M316.8 24.6h0M369.9 29.8h0M312.2 39.5h0M341.0 24.6h0M321.5 12.4h0M400.7 38.4h0M362.0 49.3h0M342.6 10.5h0M363.9 26.0h0M344.5 6.4h0M346.2 4.2h0M392.0 24.2h0M374.2 37.4h0M348.0 21.9h0M309.0 41.5h0M315.5 15.5h0M397.5 24.2h0M340.6 43.6h0M331.7 23.8h0M335.3 44.0h0M313.4 24.5h0M401.1 40.6h0M351.3 18.9h0M308.2 57.2h0M393.8 61.5h0M351.7 37.7h0M333.6 52.2h0M361.6 19.3h0M334.1 23.0h0M370.0 48.6h0M315.9 58.4h0M377.8 50.7h0M324.8 9.8h0M376.0 59.0h0M339.1 7.2h0M337.2 52.8h0M384.6 15.5h0M320.8 31.6h0M336.6 53.6h0M350.4 15.0h0M347.1 14.8h0M373.2 61.1h0M364.0 15.7h0M383.5 23.5h0M314.4 10.5h0M341.4 52.6h0M327.6 49.4h0M313.9 52.9h0M374.2 6.5h0M310.0 16.5h0M323.1 41.0h0M350.9 36.4h0M333.2 61.5h0M315.7 42.0h0M356.7 62.2h0M397.1 30.6h0M348.7 23.0h0M322.4 43.1h0M390.6 30.4h0M393.5 16.2h0M331.5 60.0h0M393.7 32.7h0M358.5 22.8h0M308.7 24.2h0M400.0 32.4h0M383.0 10.9h0M376.0 37.5h0M400.1 20.3h0M350.5 17.8h0M376.3 5.2h0M375.8 52.6h0M329.7 23.2h0M339.0 55.2h0M320.9 57.5h0M314.8 3.3h0M383.4 5.0h0M360.2 33.0h0M390.5 42.7h0M399.7 43.1h0M337.9 58.9h0M313.5 43.2h0M316.3 12.1h0M342.9 31.9h0M311.1 26.1h0M357.2 18.2h0M344.7 49.2h0M324.2 20.1h0M332.3 16.4h0M309.6 60.1h0M354.5 21.2h0M390.0 2.4h0M316.1 2.2h0M308.9 1.2h0M364.1 45.3h0M339.8 58.4h0M378.1 62.1h0M379.3 33.3h0M311.4 8.4h0M337.2 9.4h0M366.8 5.3h0M357.7 23.4h0M342.6 5.9h0M374.6 48.2h0M336.4 24.3h0M372.1 9.2h0M364.6 22.1h0M372.8 40.3h0M335.7 18.3h0M343.4 19.3h0M378.4 49.9h0M353.3 15.6h0M353.0 47.7h0M358.0 2.0h0M314.4 24.8h0M386.4 27.4h0M365.5 35.9h0M313.7 30.5h0M347.2 29.3h0M392.9 19.5h0M399.2 30.2h0M351.6 45.0h0M351.5 4.7h0M359.6 6.4h0M394.7 20.2h0M395.1 33.0h0M380.5 32.3h0M326.1 62.6h0M366.5 28.8h0M395.7 35.4h0M344.8 13.3h0M337.8 51.2h0M321.4 29.6h0M367.3 28.4h0M344.1 3.3h0M383.8 5.6h0M347.3 6.2h0M336.0 49.3h0M394.2 3.5h0M334.7 43.6h0M341.5 62.0h0M319.6 9.5h0M375.5 43.9h0M395.4 5.6h0M307.6 8.9h0M394.0 27.8h0M346.9 17.7h0M324.6 8.2h0M377.9 3.7h0M376.7 31.9h0M323.2 15.2h0M310.2 53.0h0M363.0 46.4h0M357.4 4.7h0M373.8 55.9h0M331.2 25.1h0M400.6 39.1h0M318.4 11.7h0M330.6 58.3h0M383.1 2.0h0M359.6 13.4h0M329.8 33.6h0M324.4 43.4h0M309.6 3.0h0M333.6 6.7h0M387.5 48.5h0M359.4 46.4h0M306.9 15.8h0M355.5 50.7h0M362.4 21.5h0M329.9 54.1h0M359.1 53.8h0M315.9 50.6h0M312.6 22.7h0M344.3 5.0h0M394.7 26.7h0M312.2 43.7h0M337.9 38.0h0M369.6 61.0h0M360.9 40.7h0M397.6 21.0h0M337.7 45.0h0M367.5 21.3h0M395.1 61.4h0M400.9 44.1h0M385.3 56.7h0M363.2 56.9h0M358.6 21.1h0M355.6 11.0h0M398.7 11.0h0M337.8 8.7h0M385.1 47.0h0M386.7 58.0h0M380.7 38.1h0M372.5 53.5h0M321.2 15.2h0M361.3 30.3h0M395.1 21.4h0M312.6 18.6h0M323.0 27.3h0M316.1 39.4h0M343.0 15.1h0M390.7 62.1h0M371.4 7.6h0M356.2 44.2h0M350.6 11.4h0M339.1 56.3h0M309.9 4.2h0M372.6 52.2h0M364.9 56.7h0M355.0 41.2h0M347.2 49.9h0M309.4 25.2h0M340.5 7.7h0M351.6 47.0h0M320.2 62.5h0M325.1 56.7h0M307.8 32.5h0M311.9 19.2h0M382.9 38.7h0M391.0 31.2h0M316.4 5.7h0M356.5 57.8h0M400.0 47.4h0M312.7 11.8h0M366.4 37.4h0M392.9 30.8h0M332.4 8.4h0M377.7 57.0h0M375.5 11.0h0M364.9 56.6h0M351.6 3.4h0M331.9 41.7h0M318.0 22.6h0M399.5 9.1h0M347.6 41.1h0M326.2 51.0h0M322.4 38.0h0M309.6 62.8h0M356.3 15.8h0M318.9 3.5h0M331.5 53.1h0M329.7 59.1h0M400.7 36.5h0M317.1 22.0h0M373.2 24.1h0M368.0 43.7h0M322.2 19.2h0M368.6 32.6h0M354.3 8.5h0M392.2 2.8h0M377.7 19.0h0M379.5 20.4h0M382.7 39.3h0M397.8 45.2h0M391.6 22.8h0M373.0 43.5h0" stroke="#8270bc" stroke-width="1.5" stroke-linecap="round" stroke-opacity="0.7"/><path d="M325.7 48.3h0M357.9 57.7h0M354.7 54.7h0M335.6 22.8h0M359.1 5.4h0M347.7 56.1h0M368.8 58.8h0M393.9 7.4h0M330.5 46.6h0M348.5 49.9h0M351.8 13.0h0M333.2 35.5h0M390.8 2.4h0M354.7 35.5h0M393.1 4.3h0M344.2 44.9h0M325.4 42.0h0M330.4 33.7h0M358.5 7.6h0M358.0 31.5h0M326.4 1.9h0M381.0 29.2h0M353.1 23.9h0M340.7 36.1h0M358.8 23.0h0M361.5 23.2h0M348.2 23.3h0M308.4 5.1h0M392.9 30.3h0M319.3 40.2h0M386.2 22.8h0M345.9 57.7h0M394.5 52.1h0M349.7 22.7h0M311.8 45.2h0M324.9 48.0h0M388.1 31.7h0M363.9 39.9h0M331.1 19.8h0M335.7 40.7h0M387.4 47.1h0M364.8 6.5h0M341.7 28.8h0M371.7 51.6h0M351.0 51.0h0M349.7 16.3h0M315.4 19.4h0M350.0 46.8h0M389.1 26.7h0M335.5 33.4h0M341.7 16.1h0M377.4 16.8h0M375.4 41.2h0M336.3 50.5h0M336.4 52.7h0M368.8 6.8h0M349.9 13.0h0M351.8 4.4h0M314.0 34.1h0M374.0 11.2h0M358.9 44.9h0M386.0 28.1h0M400.6 61.5h0M384.1 22.6h0M322.2 13.4h0M393.4 4.3h0M346.1 52.8h0M326.6 8.7h0M329.4 44.7h0M365.6 6.6h0M320.5 37.4h0M357.8 45.6h0M327.9 34.1h0M384.7 60.4h0M378.3 55.1h0M325.4 31.0h0M399.0 39.0h0M320.4 24.8h0M323.9 52.1h0M320.7 28.1h0M352.5 32.1h0M385.8 3.8h0M323.6 13.4h0M348.8 57.6h0M375.6 28.4h0M338.2 50.9h0M367.6 44.5h0M391.2 4.2h0M383.3 62.0h0M353.6 5.6h0" stroke="#a494cc" stroke-width="1.4" stroke-linecap="round" stroke-opacity="0.55"/><path d="M315.2 57.2h0M323.1 48.7h0M378.1 26.0h0M327.7 8.3h0M333.4 40.3h0M385.2 30.8h0M317.3 51.8h0M354.0 28.5h0M376.6 3.3h0M323.3 3.1h0M330.3 29.8h0M323.6 3.2h0M313.6 22.9h0M348.2 11.9h0M352.7 40.3h0M339.0 33.2h0M324.0 23.6h0M342.3 42.7h0M380.2 20.7h0M370.1 16.5h0" stroke="#a88050" stroke-width="1.8" stroke-linecap="round" stroke-opacity="0.55"/></g></g><g clip-path="url(#cp2)" filter="url(#bl1)" fill="#fbf9f9" opacity="0.9"><polygon points="338,36 350,38 362,48 379,62 351,62 344,48"/><polygon points="356,37 366,31 380,26.5 384,28.5 369,36 359,40"/><polygon points="387,13 396,9 400,17 399,40 393,45 389,30"/><polygon points="307,4 316,3 324,10 318,14 308,12"/><polygon points="341,17 360,15 382,17.5 380,20.5 358,19.5 343,21"/><polygon points="322,22 334,24 346,30 336,31 324,27"/><polygon points="330,44 338,47 340,58 334,56"/></g><rect x="306.0" y="1.0" width="95.4" height="61.8" fill="none" stroke="#666" stroke-width="0.8"/><rect x="207.8" y="64.6" width="95.6" height="61.4" filter="url(#s1)"/><g clip-path="url(#ci2)"><g filter="url(#bl2)"><path d="M223.1 100.6h0M286.6 82.9h0M273.3 93.1h0M293.0 99.3h0M302.7 79.5h0M218.2 85.8h0M282.3 97.7h0M296.2 125.7h0M296.0 74.6h0M264.2 109.2h0M295.7 73.6h0M266.4 67.9h0M278.8 99.8h0M219.9 71.6h0M257.9 94.9h0M259.3 124.6h0M301.4 82.8h0M215.0 82.5h0M285.6 80.8h0M221.4 101.7h0M273.8 75.3h0M213.4 74.7h0M230.4 86.8h0M261.6 120.7h0M241.2 103.5h0M271.2 82.0h0M260.8 124.9h0M303.1 90.7h0M286.6 85.1h0M284.6 87.8h0M282.3 69.4h0M226.9 103.2h0M228.6 82.9h0M272.4 82.7h0M238.3 115.0h0M219.1 67.0h0M287.2 119.9h0M272.5 103.1h0M293.0 97.2h0M218.8 87.7h0M249.9 116.8h0M266.2 68.6h0M270.8 116.3h0M215.7 121.0h0M213.9 107.1h0M242.9 95.5h0M224.6 75.2h0M234.9 113.6h0M287.7 113.2h0M240.0 85.5h0M250.5 74.2h0M244.8 98.2h0M235.9 74.8h0M216.2 92.5h0M258.4 83.4h0M208.6 93.6h0M299.0 100.2h0M253.6 92.5h0M239.4 101.0h0M226.1 119.4h0M251.2 105.5h0M213.9 87.1h0M222.2 76.0h0M269.0 105.0h0M268.3 84.7h0M289.5 112.4h0M264.9 87.6h0M278.4 80.9h0M230.2 66.4h0M278.8 74.5h0M239.6 94.1h0M253.4 113.7h0M220.5 102.9h0M257.7 78.4h0M237.5 88.7h0M219.3 67.7h0M222.6 89.3h0M289.6 82.8h0M286.2 118.6h0M229.3 115.1h0M252.5 96.5h0M282.2 94.6h0M269.0 73.6h0M213.8 116.4h0M258.4 67.7h0M280.4 111.2h0M232.1 107.8h0M299.6 100.5h0M291.5 71.3h0M216.4 87.1h0M220.4 125.6h0M223.9 95.0h0M215.0 67.2h0M280.0 105.5h0M245.1 115.5h0M277.4 96.7h0M281.4 102.7h0M215.8 80.0h0M259.0 83.3h0M261.3 105.4h0M237.0 101.0h0M235.1 106.2h0M208.9 124.1h0M258.8 87.7h0M249.7 74.8h0M295.7 94.3h0M255.2 72.1h0M255.6 81.3h0M250.7 107.7h0M276.4 79.9h0M254.8 118.8h0M264.3 80.9h0M223.2 75.1h0M241.2 74.5h0M282.9 123.0h0M302.7 107.7h0M256.1 113.8h0M249.8 66.8h0M300.5 70.7h0M212.7 111.2h0M259.7 103.5h0M268.9 91.8h0M214.6 97.5h0M301.9 97.2h0M291.0 118.8h0M274.2 77.1h0M297.4 114.4h0M283.6 69.1h0M291.3 103.4h0M265.8 70.5h0M282.8 110.8h0M233.2 73.1h0M273.2 76.6h0M247.9 109.8h0M255.1 112.0h0M224.1 117.0h0M261.2 97.6h0M218.4 98.9h0M245.8 120.5h0M221.6 98.1h0M251.9 122.8h0M290.4 94.6h0M290.4 99.2h0M219.1 70.6h0M246.4 121.3h0M280.1 119.9h0M298.8 110.4h0M245.7 80.8h0M282.3 113.7h0M299.1 103.6h0M291.2 81.2h0M234.6 92.6h0M222.3 116.9h0M285.4 120.3h0M224.5 104.9h0M210.4 70.9h0M259.0 108.3h0M270.2 71.5h0M239.1 95.2h0M208.7 100.5h0M255.5 98.7h0M303.0 92.4h0M300.2 100.5h0M251.3 76.8h0M286.1 84.0h0M234.5 87.8h0M256.4 87.0h0M282.7 77.8h0M229.8 102.7h0M209.9 86.5h0M287.2 122.1h0M271.9 76.4h0M242.0 90.7h0M289.3 79.9h0M279.1 91.3h0M276.2 105.7h0M293.1 106.2h0M231.8 91.1h0M247.5 75.4h0M294.4 76.9h0M236.8 124.4h0M270.3 116.1h0M208.8 104.8h0M246.2 123.5h0M291.4 102.9h0M297.7 110.4h0M217.7 101.1h0M298.6 73.2h0M265.9 69.0h0M248.3 110.1h0M249.4 122.8h0M238.7 114.4h0M210.7 87.8h0M293.0 108.5h0M281.0 90.2h0M264.6 106.0h0M250.6 102.1h0M260.2 88.6h0M257.7 98.6h0M266.4 109.4h0M274.3 119.9h0M300.1 65.2h0M275.1 116.9h0M262.5 73.5h0M300.3 111.6h0M237.6 83.2h0M215.3 84.1h0M251.9 81.2h0M215.9 77.4h0M212.5 88.9h0M266.0 116.5h0M288.5 85.6h0M263.8 103.9h0M222.1 103.7h0M251.0 99.1h0M293.0 81.0h0M216.4 94.0h0M213.3 123.5h0M287.7 76.6h0M252.1 121.6h0M209.8 110.7h0M247.7 72.7h0M292.0 105.6h0M246.4 77.3h0M292.7 73.9h0M267.0 103.4h0M239.1 124.0h0M300.7 114.6h0M227.3 125.7h0M294.8 123.4h0M292.1 98.5h0M217.7 89.0h0M249.6 99.0h0M281.5 111.5h0M241.1 112.0h0M226.9 92.1h0M286.5 105.0h0M211.0 121.0h0M284.3 94.6h0M249.7 108.8h0M212.8 88.3h0M244.4 119.6h0M231.2 72.0h0M263.4 86.1h0M219.0 99.8h0M257.9 101.5h0M275.1 106.8h0M288.9 81.2h0M222.6 93.2h0M228.6 79.7h0M270.9 77.3h0M290.1 98.9h0M276.7 95.7h0M300.5 100.8h0M285.8 114.4h0M239.9 75.7h0M257.5 93.2h0M282.8 87.0h0M257.3 71.6h0M242.4 81.8h0M241.6 122.9h0M285.8 93.4h0M245.8 80.5h0M247.8 124.1h0M227.2 115.8h0M265.4 121.3h0M278.4 77.0h0M299.8 122.6h0M219.0 86.3h0M217.1 95.4h0M293.9 111.4h0M271.5 92.5h0M222.8 72.7h0M258.3 85.9h0M284.7 110.4h0M278.8 76.2h0M268.8 105.0h0M271.7 96.7h0M263.1 108.6h0M301.2 66.2h0M231.3 113.4h0M263.1 75.3h0M230.3 107.9h0M247.4 112.2h0M299.0 88.3h0M287.0 92.4h0M281.7 88.7h0M220.3 83.7h0M269.9 123.3h0M238.7 96.2h0M296.0 107.9h0M233.4 102.4h0M245.6 69.6h0M250.2 124.9h0M271.5 103.0h0M264.5 119.0h0M247.7 67.2h0M244.2 65.6h0M258.9 119.9h0M242.9 94.0h0M285.8 112.1h0M232.2 124.8h0M276.0 72.8h0M223.8 77.1h0M299.4 111.2h0M300.5 116.6h0M257.7 117.3h0M234.6 104.5h0M272.3 112.6h0M289.3 120.9h0M218.7 65.6h0M249.2 110.9h0M242.5 124.4h0M299.4 101.3h0M290.9 108.6h0M236.7 113.6h0M277.0 115.8h0M215.9 82.0h0M255.1 111.3h0M298.9 65.9h0M224.7 94.8h0M242.7 82.8h0M251.2 96.8h0M284.6 110.7h0M254.3 84.1h0M254.2 107.2h0M291.0 84.7h0M232.2 70.5h0M215.1 97.2h0M227.7 124.3h0M256.3 110.2h0M288.0 70.9h0M248.3 125.8h0M225.5 69.4h0M230.8 88.8h0M295.3 121.9h0M246.5 100.3h0M245.5 113.8h0M260.0 95.5h0M284.1 99.7h0M268.7 82.0h0M239.3 105.5h0M216.2 116.8h0M266.5 80.5h0M284.2 89.5h0M229.7 110.7h0M287.8 73.4h0M221.1 111.2h0M298.0 113.0h0M273.1 73.3h0M225.7 76.2h0M288.8 125.6h0M222.4 90.6h0M293.1 123.9h0M253.2 65.3h0M274.5 113.0h0M221.8 111.3h0M230.4 68.3h0M275.5 72.3h0M256.0 116.6h0M269.3 81.5h0M283.3 87.1h0M235.7 113.8h0M233.4 82.8h0M245.9 66.6h0M269.2 73.0h0M240.5 111.5h0M219.6 86.8h0M288.5 101.6h0M213.5 79.7h0M275.9 110.8h0M209.1 88.1h0M249.9 94.2h0M272.7 115.6h0M302.1 106.2h0M243.8 115.8h0M297.1 96.4h0M246.3 103.1h0M225.3 100.4h0M260.0 113.7h0M217.3 68.3h0M245.8 93.0h0M260.5 118.5h0M208.4 122.4h0M290.3 124.7h0M235.5 111.1h0M276.3 101.5h0M229.0 100.2h0M272.2 115.4h0M263.2 96.0h0M296.6 93.0h0M273.0 111.5h0M271.7 98.2h0M236.4 74.9h0M286.6 109.7h0M269.2 121.5h0M282.8 120.4h0M283.4 90.2h0M275.6 111.1h0M247.2 82.0h0M253.1 69.9h0M244.2 112.6h0M265.6 113.8h0M245.6 124.1h0M267.2 114.8h0M217.5 82.1h0M212.8 66.0h0M228.1 119.3h0M246.4 68.5h0M215.0 104.6h0M271.6 86.7h0M301.0 64.7h0M227.7 98.9h0M232.6 114.5h0M219.5 87.4h0M272.4 71.9h0M228.6 86.0h0M267.5 94.6h0M299.9 122.1h0M252.4 77.1h0M236.0 106.6h0M218.2 68.4h0M232.4 100.1h0M299.9 84.9h0M216.3 113.1h0M291.4 86.6h0M256.1 106.7h0M272.8 109.3h0M270.9 65.6h0M241.1 69.2h0M213.1 81.4h0M285.1 79.7h0M254.5 106.9h0M251.7 106.8h0M293.8 120.4h0M233.8 92.1h0M237.0 114.6h0M234.6 88.7h0M222.1 76.4h0M262.5 66.6h0M287.2 77.4h0M233.8 65.5h0M302.0 124.3h0M278.2 108.6h0M208.2 91.6h0M227.7 106.1h0M282.2 92.4h0M246.6 98.6h0M221.2 67.3h0M264.6 110.1h0M259.7 102.7h0M230.8 103.7h0M221.6 66.5h0M234.4 72.6h0M262.0 118.7h0M229.5 109.3h0M257.9 92.6h0M264.4 92.0h0M258.6 79.2h0M289.7 96.0h0M271.9 76.5h0M251.7 68.5h0M211.2 93.2h0M292.0 99.3h0M209.1 87.0h0M234.0 104.3h0M234.0 104.6h0M277.5 88.3h0M246.2 117.1h0M230.0 119.9h0M235.6 106.1h0M240.1 123.8h0M223.7 104.4h0M247.3 75.7h0M263.7 119.8h0M227.3 66.9h0M284.6 90.7h0M284.7 90.9h0M209.4 109.4h0M294.6 110.2h0M282.9 117.3h0M291.5 101.2h0M234.5 110.9h0M296.3 89.0h0M300.0 96.7h0M220.8 104.3h0M261.3 105.7h0M280.1 119.6h0M234.1 65.8h0M216.3 69.5h0M264.7 87.3h0M233.5 95.0h0M250.8 81.5h0M209.0 88.7h0M302.3 66.4h0M279.0 92.5h0M239.3 123.8h0M292.6 102.5h0M277.9 91.3h0M293.7 83.7h0M299.0 79.4h0M302.2 124.7h0M288.6 78.0h0M216.4 115.5h0M235.5 90.8h0M265.6 106.5h0M285.1 98.9h0M264.5 98.6h0M246.3 105.5h0M300.0 108.5h0M223.9 98.8h0M220.7 123.4h0M297.2 111.3h0M292.3 81.7h0M212.8 84.8h0M238.0 82.5h0M267.9 79.1h0M275.4 120.5h0M265.8 95.0h0M239.6 98.9h0M240.9 109.5h0M273.9 72.3h0M249.5 70.1h0M228.2 115.8h0M256.4 101.9h0M290.6 109.6h0M235.0 76.4h0M271.0 85.6h0M261.4 113.7h0M302.2 116.8h0M235.2 94.5h0M248.0 123.7h0M270.2 124.7h0M285.9 108.3h0M281.7 126.0h0M211.6 82.4h0M284.2 70.4h0M233.0 75.9h0M275.0 121.8h0M278.1 76.0h0M289.5 100.4h0M267.0 91.1h0M249.8 125.0h0M228.9 108.2h0M233.8 82.8h0M295.3 89.4h0M254.9 114.9h0M242.3 108.5h0M243.3 101.7h0M250.2 98.5h0M262.1 109.6h0M232.1 125.2h0M256.3 112.7h0M230.7 85.3h0M258.2 90.7h0M227.5 68.5h0M239.0 111.6h0M264.4 104.6h0M248.6 120.0h0M258.8 71.4h0M302.9 69.6h0M285.2 91.2h0M245.9 80.2h0M281.8 107.4h0M276.3 73.2h0M288.9 121.5h0M208.1 121.3h0M217.5 90.8h0M263.1 111.2h0M290.6 76.3h0M208.4 73.1h0M212.1 76.0h0M251.3 73.7h0M258.9 106.1h0M262.2 92.4h0M263.0 111.8h0M223.7 68.0h0M215.9 100.1h0M271.1 78.8h0M279.3 122.9h0M244.5 108.0h0M247.8 99.2h0M255.3 74.8h0M289.7 73.2h0M208.0 65.0h0M291.5 101.8h0M243.8 88.4h0M248.8 92.8h0M227.2 93.2h0M249.4 110.0h0M273.6 73.5h0M271.8 71.4h0M268.7 110.7h0M229.4 89.9h0M219.5 104.3h0M287.0 118.2h0M276.2 121.7h0M274.6 98.7h0M229.7 97.2h0M244.0 115.3h0M225.0 106.6h0M231.7 112.8h0M240.5 80.2h0M236.1 112.6h0M246.2 108.8h0M252.5 87.1h0M301.8 116.7h0M215.1 83.6h0M228.2 77.4h0M249.3 94.5h0M254.4 94.3h0M263.1 97.2h0M274.5 69.4h0M240.9 77.7h0M228.7 98.5h0M269.4 101.9h0M228.3 120.8h0M210.9 123.6h0M296.5 90.3h0M230.9 64.9h0M210.1 66.8h0M225.9 69.6h0M211.3 81.3h0M255.0 114.5h0M242.0 94.4h0M257.0 77.8h0M215.5 104.7h0M297.2 76.5h0M267.7 79.4h0M248.6 66.8h0M291.1 69.1h0M253.7 117.2h0M246.2 112.4h0M279.0 93.3h0M275.1 104.2h0M295.6 72.1h0M230.0 72.9h0M275.5 68.1h0M293.8 72.3h0M278.8 86.6h0M263.8 124.8h0M242.1 97.3h0M222.3 111.4h0M276.0 86.9h0M272.2 98.9h0M215.9 122.8h0M225.4 115.3h0M295.8 121.7h0M246.6 80.7h0M228.0 96.6h0M260.3 108.0h0M249.4 67.9h0M301.5 82.6h0M284.1 121.1h0M279.7 91.5h0M225.6 100.2h0M214.3 113.4h0M273.7 110.6h0M236.7 90.0h0M231.3 71.9h0M250.5 125.3h0M275.3 64.7h0M246.3 99.4h0M282.5 121.6h0M247.3 124.3h0M252.7 123.8h0M223.8 76.9h0M291.7 121.7h0M278.2 72.0h0M257.1 106.2h0M275.0 102.1h0M213.5 122.0h0M303.3 102.2h0M262.7 79.3h0M258.8 112.0h0M284.5 121.7h0M233.6 94.5h0M247.1 77.8h0M241.1 89.1h0M212.2 71.2h0M269.7 101.4h0M263.6 83.9h0M253.8 86.4h0M279.1 64.9h0M296.4 93.5h0M270.9 117.2h0M230.4 124.5h0M260.0 83.2h0M218.8 120.6h0M253.0 100.5h0M275.0 65.3h0M285.5 123.6h0M280.5 67.8h0M265.7 82.2h0M209.9 91.8h0M210.8 103.9h0M226.2 108.5h0M263.2 107.4h0M216.4 80.7h0M217.2 88.5h0M280.2 86.0h0M279.4 125.6h0M245.3 112.2h0M209.7 71.9h0M288.9 87.6h0M245.5 77.8h0M273.1 115.2h0M294.8 65.4h0M281.2 81.3h0M294.2 66.1h0M276.9 107.0h0M214.8 110.2h0M236.6 94.2h0M275.8 125.4h0M231.4 90.0h0M208.6 65.2h0M216.3 87.4h0M254.7 89.2h0M256.4 64.7h0M223.0 106.9h0M227.7 80.7h0M213.3 87.4h0M277.7 84.1h0M293.1 91.7h0M238.9 66.3h0M249.1 95.9h0M280.3 83.3h0M268.1 88.2h0M269.5 70.0h0M211.7 109.1h0M237.2 119.3h0M265.3 81.0h0M225.6 109.5h0M228.6 91.6h0M252.1 123.7h0M271.7 124.7h0M236.2 91.0h0M267.8 114.5h0M295.9 101.7h0M223.7 111.1h0M247.0 87.7h0M245.9 86.4h0M269.2 124.2h0M221.0 101.6h0M285.8 108.5h0M226.3 93.5h0M212.5 80.4h0M234.5 112.2h0M299.4 111.4h0M273.2 113.2h0M278.2 101.6h0M279.7 69.5h0M250.8 125.6h0M217.3 121.5h0M300.5 101.6h0M254.9 89.4h0M291.4 96.7h0M236.5 73.3h0M302.0 96.5h0M207.8 83.6h0M246.9 116.0h0M290.6 108.9h0M295.4 65.7h0M240.1 70.7h0M300.8 118.6h0M257.1 125.0h0M219.7 82.4h0M287.1 66.0h0M272.9 94.5h0M209.1 110.1h0M240.0 65.0h0M300.6 82.4h0M255.8 75.1h0M277.7 113.6h0M295.3 84.6h0M240.4 108.7h0M215.3 68.4h0M291.9 78.0h0M234.8 67.4h0M233.4 80.8h0M240.6 98.0h0M212.1 125.1h0M269.3 122.8h0M222.3 95.6h0M280.0 113.9h0M268.2 101.0h0M259.7 71.1h0M276.9 79.0h0M280.0 93.1h0M228.4 74.1h0M258.7 125.2h0M299.2 119.6h0M209.5 114.9h0M244.1 79.6h0M240.1 87.6h0M247.0 93.7h0M255.4 90.5h0M233.5 68.2h0M214.7 65.3h0M207.9 117.6h0M259.6 98.3h0M236.3 90.6h0M271.3 118.8h0M245.6 73.4h0M281.4 122.2h0M247.2 69.9h0M232.0 120.6h0M249.2 103.7h0M268.0 118.3h0M222.1 89.3h0M274.3 90.3h0M293.6 115.2h0M246.7 88.4h0M290.2 87.0h0M209.1 72.2h0M254.2 122.3h0M292.0 99.7h0M265.8 118.7h0M212.7 108.9h0M280.4 92.8h0M274.9 89.9h0M260.9 112.0h0M209.8 125.8h0M280.6 116.7h0M247.6 104.6h0M301.2 107.0h0M239.1 95.3h0M249.6 77.1h0M293.2 125.4h0M275.5 108.6h0M264.8 97.0h0M301.1 85.0h0M214.4 70.4h0M229.6 116.2h0M272.9 85.0h0M229.6 108.6h0M256.3 82.1h0M240.2 120.0h0M240.9 94.3h0M208.0 76.1h0M251.8 123.3h0M235.1 114.3h0M256.3 65.5h0M290.5 104.9h0M267.5 110.5h0M213.2 94.5h0M266.2 120.7h0M278.8 94.8h0M299.8 79.5h0M292.5 114.8h0M212.1 75.2h0M298.5 102.1h0M274.0 112.0h0M235.4 121.7h0M243.7 121.2h0M285.4 90.6h0M269.5 123.6h0M245.3 123.0h0M237.6 75.2h0M217.7 121.0h0M300.9 72.5h0M283.2 69.2h0M211.0 71.4h0M300.5 64.7h0M288.2 107.4h0M277.9 66.3h0M288.2 112.3h0M242.3 114.5h0M259.3 79.3h0M276.0 109.9h0M285.3 81.3h0M271.1 72.4h0M284.7 71.4h0M258.9 117.8h0M267.5 98.7h0M276.1 90.5h0M226.2 122.6h0M219.0 102.5h0M246.6 124.9h0M269.4 81.6h0M277.4 109.1h0M298.4 101.2h0M224.8 67.5h0M278.5 105.3h0M231.8 71.0h0M239.9 116.3h0M267.7 68.5h0M265.0 101.7h0M282.8 105.2h0M214.4 78.6h0M255.0 72.3h0M301.9 100.7h0M254.5 110.9h0M269.0 121.4h0M220.0 103.4h0M269.0 86.5h0M211.8 80.7h0M218.1 99.7h0M292.2 121.5h0M210.1 118.4h0" stroke="#6e5aa8" stroke-width="1.25" stroke-linecap="round" stroke-opacity="0.45"/><path d="M297.5 110.6h0M216.8 123.4h0M259.2 66.0h0M273.0 108.6h0M245.7 113.1h0M229.3 74.7h0M250.1 94.7h0M282.0 113.5h0M256.6 93.3h0M262.9 115.5h0M249.8 103.7h0M230.3 81.3h0M274.8 83.4h0M294.5 68.0h0M292.1 101.0h0M212.2 66.8h0M262.8 75.7h0M298.9 120.0h0M221.6 71.1h0M228.6 74.6h0M238.8 111.3h0M286.6 103.7h0M232.8 82.1h0M297.4 112.3h0M249.0 85.4h0M287.0 70.7h0M299.9 91.6h0M273.9 79.5h0M292.7 83.1h0M263.0 73.2h0M297.7 74.9h0M301.3 100.3h0M300.9 86.6h0M255.3 93.4h0M282.2 74.9h0M264.9 74.3h0M250.0 87.8h0M253.2 109.0h0M272.4 103.2h0M293.1 113.3h0M217.1 117.3h0M270.6 90.6h0M273.4 111.3h0M267.1 94.9h0M264.7 88.7h0M242.4 99.0h0M260.9 99.9h0M296.9 86.2h0M290.4 95.3h0M253.1 95.6h0M288.7 108.0h0M234.4 117.5h0M243.2 107.9h0M261.3 125.2h0M208.8 124.6h0M235.8 72.9h0M294.7 109.1h0M289.3 94.6h0M300.7 96.4h0M299.4 117.2h0M273.4 83.2h0M226.7 83.4h0M286.9 83.1h0M233.1 114.7h0M288.6 68.7h0M274.0 97.2h0M229.9 82.9h0M290.9 101.8h0M271.3 112.0h0M290.0 110.0h0M275.2 98.9h0M291.9 100.9h0M286.3 86.4h0M274.8 109.4h0M265.1 101.6h0M262.3 112.8h0M257.4 74.3h0M240.7 89.5h0M245.4 94.7h0M277.0 82.4h0M303.4 121.8h0M287.2 96.6h0M271.3 94.5h0M277.8 107.0h0M292.0 73.0h0M297.9 72.0h0M223.6 73.3h0M234.2 81.3h0M238.1 103.9h0M294.6 71.9h0M240.1 92.4h0M238.3 79.4h0M252.3 89.2h0M290.1 100.8h0M248.6 75.8h0M273.2 115.4h0M214.4 77.2h0M301.2 86.9h0M282.9 119.5h0M295.0 81.7h0M281.1 107.3h0M298.5 119.6h0M208.1 71.3h0M292.4 107.7h0M259.1 95.2h0M268.2 95.1h0M227.0 76.8h0M253.9 80.7h0M293.1 91.7h0M296.0 115.1h0M258.3 72.7h0M267.8 93.0h0M295.8 67.1h0M216.8 73.0h0M293.2 72.1h0M244.4 76.6h0M292.0 116.8h0M251.9 98.9h0M267.1 96.8h0M213.6 75.0h0M292.9 96.4h0M282.8 110.3h0M297.1 108.1h0M214.2 69.1h0M266.2 114.6h0M212.5 68.2h0M271.8 114.0h0M209.4 125.1h0M250.3 94.4h0M301.2 110.7h0M229.5 80.5h0M302.0 100.1h0M270.6 99.5h0M247.7 75.1h0M274.0 122.7h0M297.1 83.3h0M236.8 75.2h0M247.3 109.3h0M244.1 66.9h0M286.7 94.2h0M221.9 96.6h0M279.2 124.4h0M298.5 97.5h0M265.2 116.3h0M266.6 93.5h0M285.0 69.3h0M301.1 84.8h0M293.9 119.2h0M222.0 117.6h0M241.9 115.8h0M301.4 110.7h0M225.1 79.6h0M233.3 106.7h0M285.6 68.4h0M276.9 76.4h0M263.0 111.1h0M234.0 87.1h0M249.8 91.3h0M236.8 81.0h0M237.5 114.4h0M232.8 95.4h0M268.7 92.9h0M292.9 113.8h0M280.4 92.1h0M295.3 66.5h0M302.5 109.1h0M271.0 99.7h0M286.4 112.0h0M276.9 86.0h0M292.5 77.1h0M294.5 117.3h0M282.5 95.6h0M287.6 81.1h0M276.4 105.1h0M294.4 100.8h0M296.6 97.9h0M280.9 102.2h0M296.4 111.5h0M297.2 100.4h0M300.7 86.1h0M288.2 125.2h0M286.2 94.4h0M288.6 88.8h0M281.8 74.4h0M261.4 95.7h0M232.9 100.6h0M268.0 100.8h0M208.0 81.5h0M272.3 97.3h0M275.1 109.0h0M295.8 89.5h0M283.3 99.7h0M214.1 89.2h0M299.8 89.7h0M265.5 116.6h0M271.0 87.9h0M219.3 71.4h0M269.8 91.0h0M225.5 123.6h0M298.2 88.7h0M268.4 91.0h0M239.0 65.1h0M302.5 118.0h0M287.0 111.7h0M213.7 82.4h0M302.7 79.2h0M267.0 72.3h0M272.6 100.9h0M270.8 114.4h0M289.5 113.1h0M234.7 79.5h0M302.4 115.0h0M226.6 107.9h0M275.5 99.8h0M230.2 69.2h0M267.6 112.8h0M240.5 64.7h0M297.9 76.5h0M222.3 73.6h0M300.8 104.9h0M298.4 124.4h0M291.4 87.9h0M269.7 97.1h0M252.4 106.9h0M284.5 92.5h0M265.5 108.4h0M212.1 109.8h0M275.6 117.2h0M268.8 88.5h0M294.2 87.3h0M233.4 84.7h0M300.9 101.7h0M271.1 104.9h0M264.3 91.5h0M274.7 87.5h0M223.8 64.9h0M302.4 66.7h0M293.3 66.0h0M279.5 101.0h0M302.0 122.6h0M223.4 93.3h0M283.0 109.6h0M301.0 65.1h0M294.0 109.7h0M212.7 101.1h0M284.3 102.0h0M231.5 88.6h0M220.6 72.3h0M302.8 123.2h0M279.5 100.7h0M301.3 90.4h0M294.5 125.8h0M217.4 86.6h0M211.5 120.8h0M300.7 77.1h0M244.3 86.1h0M295.6 104.2h0M232.2 85.0h0M301.6 120.7h0M228.5 75.9h0M234.2 86.6h0M280.5 108.9h0M288.0 99.0h0M271.4 82.1h0M235.8 103.5h0M299.6 107.3h0M254.6 92.5h0M280.7 105.6h0M255.1 106.7h0M268.4 81.4h0M296.1 118.0h0M296.6 78.0h0M301.3 86.1h0M213.7 65.7h0M295.0 67.0h0M271.8 90.0h0M225.6 87.8h0M248.1 89.6h0M257.6 89.4h0M276.7 107.5h0M277.8 98.1h0M223.6 77.8h0M278.4 97.6h0M261.4 97.3h0M282.8 102.3h0M300.8 83.2h0M232.5 111.1h0M263.6 95.8h0M302.8 93.7h0M295.2 83.8h0M277.4 116.1h0M216.9 119.7h0M255.5 106.2h0M300.6 94.3h0M291.0 113.3h0M231.3 84.2h0M210.5 124.7h0M229.0 72.9h0M274.6 90.5h0M297.2 86.8h0M213.7 111.2h0M281.4 96.5h0M212.1 75.3h0M270.8 96.0h0M282.6 84.5h0M298.7 90.5h0M300.2 67.8h0M212.7 111.7h0M213.7 65.0h0M298.8 80.5h0M289.7 81.7h0M285.1 76.8h0M234.6 80.5h0M287.9 73.7h0M219.5 74.5h0M288.3 90.7h0M284.0 80.0h0M275.3 111.3h0M270.9 105.1h0M254.9 72.6h0M266.6 100.6h0M227.0 82.5h0M298.9 84.6h0M261.2 87.3h0M215.9 67.9h0M296.6 81.8h0M257.8 84.5h0M299.8 93.5h0M275.5 125.5h0M296.6 103.6h0M224.7 117.2h0M283.9 86.1h0M272.0 90.9h0M223.0 68.0h0M303.2 80.2h0M222.5 73.4h0M300.4 82.3h0M214.8 74.4h0M298.0 75.9h0M273.4 97.6h0M252.1 105.2h0M220.8 98.5h0M292.2 87.4h0M286.9 104.7h0M278.7 86.2h0M298.8 77.1h0M237.4 79.2h0M246.6 71.3h0M277.0 105.7h0M283.9 113.3h0M283.3 86.5h0M259.2 77.0h0M299.0 89.9h0M302.2 79.3h0M268.6 121.5h0M245.9 82.9h0M296.4 75.1h0M297.5 82.3h0M243.4 90.2h0M297.6 98.0h0M293.2 69.1h0M288.1 66.5h0M246.6 73.0h0M275.6 99.2h0M298.8 68.0h0M277.0 98.5h0M290.5 100.7h0M299.3 82.0h0M229.5 101.2h0M300.2 84.0h0M263.8 90.4h0M279.0 83.9h0M270.2 90.1h0M298.8 104.6h0M274.6 106.3h0M215.7 91.6h0M207.8 79.0h0M292.9 108.4h0M254.0 101.7h0M217.6 66.0h0M238.7 114.9h0M289.4 115.3h0M272.7 109.5h0M294.2 109.7h0M263.0 100.4h0M233.5 105.5h0M285.1 101.1h0M239.3 104.8h0M299.0 80.7h0M294.9 113.0h0M235.5 85.8h0M295.7 122.2h0M218.9 70.5h0M303.2 125.7h0M273.3 108.2h0M267.1 90.0h0M213.6 83.0h0M244.9 78.8h0M273.6 83.9h0M229.2 82.3h0M218.6 77.0h0M296.6 113.8h0M280.1 85.8h0M296.3 94.5h0M299.9 76.0h0M292.7 98.8h0M224.7 91.9h0M244.0 71.7h0M238.4 65.5h0M232.5 94.3h0M275.8 118.1h0M296.7 116.1h0M280.0 107.5h0M233.6 102.6h0M286.6 120.6h0M302.3 117.5h0M224.3 68.4h0M297.1 94.8h0M295.5 113.5h0M234.4 68.2h0M299.4 107.9h0M231.7 73.1h0M277.3 104.9h0M271.5 91.1h0M228.4 82.6h0M299.6 116.7h0M233.3 110.8h0M297.5 113.9h0M268.8 115.2h0M280.4 96.1h0M298.2 93.0h0M262.2 103.4h0M255.5 96.0h0M249.7 71.3h0M260.8 118.0h0M301.3 70.7h0M286.5 89.1h0M271.8 110.4h0M300.2 99.8h0M246.2 92.6h0M265.6 98.7h0M280.1 79.8h0M212.1 118.6h0M280.2 112.7h0M247.7 103.4h0M283.7 98.0h0M253.8 102.0h0M263.2 97.0h0M296.6 85.9h0M231.4 114.5h0M271.8 116.9h0M256.7 109.6h0M299.3 70.6h0M290.8 74.7h0M259.3 86.0h0M263.6 98.4h0M293.7 85.0h0M296.1 111.8h0M293.4 108.2h0M285.5 117.3h0M273.2 121.4h0M255.4 124.1h0M214.8 85.8h0M289.1 92.5h0M253.6 92.2h0M233.5 85.4h0M282.9 89.0h0M245.5 95.3h0M300.2 81.4h0M254.3 67.0h0M303.4 84.7h0M296.3 123.9h0M295.2 96.5h0M267.4 93.0h0M293.5 87.1h0M246.3 83.9h0M297.0 113.3h0M271.3 86.9h0M298.3 108.3h0M231.8 116.5h0M289.3 117.5h0M260.7 97.6h0M246.5 80.3h0M272.1 86.9h0M289.9 84.2h0M232.3 123.7h0M300.7 111.7h0M224.6 73.1h0M270.2 105.7h0M297.6 106.2h0M266.9 83.4h0M298.1 85.6h0M232.8 65.9h0M284.8 112.1h0M288.5 91.1h0M288.4 67.9h0M302.6 108.5h0M288.2 86.1h0M300.4 95.6h0M229.1 75.7h0M301.2 74.7h0M234.5 77.1h0M256.6 87.2h0M213.3 68.3h0M298.8 71.4h0M284.1 104.6h0M262.1 103.6h0M301.0 66.2h0M292.2 98.4h0M226.8 71.3h0M248.4 103.6h0M227.3 88.2h0M286.3 112.2h0M266.2 87.9h0M301.4 119.6h0M283.9 95.5h0M229.4 68.3h0M292.8 84.7h0M217.0 92.7h0M253.8 76.8h0M223.8 87.7h0M289.4 112.9h0M285.7 77.7h0M289.7 90.5h0M300.7 107.8h0M301.2 98.1h0M280.8 85.4h0M295.5 67.7h0M283.7 117.6h0M270.4 103.8h0M244.3 117.1h0M270.7 90.4h0M286.4 82.1h0M226.5 114.4h0M291.9 106.7h0M289.8 97.9h0M258.1 106.2h0M218.0 122.3h0M255.9 112.4h0M211.2 70.5h0M212.6 88.6h0M290.0 76.8h0M292.7 119.3h0M290.9 76.2h0M279.5 117.2h0M266.1 73.1h0M209.8 79.4h0M278.2 95.8h0M278.0 107.7h0M270.0 89.0h0M238.3 89.5h0M238.3 69.2h0M289.3 114.8h0M295.0 113.1h0M293.7 105.8h0M245.0 77.4h0M243.6 88.4h0M209.5 67.9h0M303.2 69.8h0M272.7 92.7h0M272.9 118.1h0M281.3 108.8h0M246.7 100.7h0M292.2 95.5h0M217.4 106.7h0M256.4 103.8h0M246.9 89.5h0M302.6 108.5h0M235.6 88.6h0M294.9 111.9h0M241.1 72.6h0M299.9 90.9h0M228.8 75.0h0M278.5 112.9h0M297.3 123.0h0M228.4 70.2h0M265.5 94.6h0M291.2 90.5h0M225.1 95.1h0M285.1 101.5h0M291.6 80.8h0M296.9 86.3h0M300.2 67.0h0M298.4 79.9h0M288.8 115.2h0M211.7 65.7h0M226.3 96.8h0M225.1 66.4h0M285.7 70.8h0M279.9 92.6h0M275.3 85.4h0M288.9 98.3h0M231.3 106.4h0M238.0 83.0h0M231.9 71.1h0M291.3 77.0h0M249.5 90.9h0M239.5 78.5h0M267.1 117.8h0M293.7 107.6h0" stroke="#7a5a48" stroke-width="1.35" stroke-linecap="round" stroke-opacity="0.45"/><path d="M226.6 85.2h0M301.8 74.5h0M275.6 96.9h0M283.4 65.0h0M274.2 122.7h0M297.6 119.0h0M254.7 120.5h0M251.7 70.0h0M214.0 64.8h0M209.7 68.4h0M287.6 82.1h0M289.7 76.4h0M220.1 96.1h0M231.2 96.6h0M271.8 100.5h0M253.3 67.2h0M239.4 78.3h0M273.8 103.4h0M244.1 86.9h0M212.1 74.3h0M209.4 80.9h0M257.3 65.4h0M278.9 81.7h0M228.7 85.0h0M216.8 111.6h0M227.2 122.7h0M273.5 82.8h0M246.1 116.0h0M250.0 75.4h0M297.8 121.3h0M299.3 84.6h0M219.3 73.5h0M259.4 111.1h0M298.4 108.8h0M260.8 88.5h0M218.5 93.2h0M227.3 77.0h0M242.3 105.2h0M218.1 98.4h0M282.0 119.2h0M233.5 110.4h0M233.0 124.5h0M268.3 90.1h0M265.0 106.3h0M300.7 88.4h0M258.6 109.1h0M211.2 83.3h0M271.3 89.0h0M276.8 75.8h0M238.0 99.1h0M267.7 112.5h0M247.8 112.0h0M293.2 78.2h0M252.6 85.7h0M237.7 125.9h0M251.3 78.1h0M290.9 94.2h0M256.4 78.3h0M296.3 119.1h0M263.4 68.6h0M215.5 82.8h0M292.5 114.2h0M270.5 70.5h0M240.0 85.2h0M242.5 93.4h0M252.1 120.3h0M216.5 119.3h0M240.7 108.1h0M265.6 108.5h0M208.7 115.8h0M284.0 65.3h0M251.0 113.2h0M244.3 69.2h0M252.6 111.2h0M219.2 91.7h0M286.1 109.2h0M248.7 109.5h0M273.7 73.4h0M233.8 80.8h0M297.6 98.6h0M293.3 99.5h0M300.7 88.3h0M216.5 94.4h0M213.0 81.4h0M277.4 87.3h0M237.7 117.8h0M302.6 99.9h0M213.6 70.2h0M218.4 91.2h0M214.3 105.8h0M277.4 91.0h0M222.0 73.4h0M263.9 91.2h0M296.7 65.5h0M231.3 98.3h0M212.1 64.9h0M269.5 117.3h0M261.3 122.3h0M292.4 97.4h0M267.9 102.2h0M253.2 113.9h0M296.2 67.2h0M270.4 93.1h0M253.4 67.7h0M242.6 124.3h0M210.4 89.9h0M244.7 76.5h0M288.7 125.2h0M215.1 94.5h0M262.0 89.3h0M285.3 71.2h0M296.3 94.1h0M297.0 80.2h0M222.4 87.5h0M258.2 122.5h0M283.8 117.3h0M296.9 70.6h0M235.8 120.0h0M284.9 96.9h0M291.7 93.1h0" stroke="#e6dcec" stroke-width="1.1" stroke-linecap="round" stroke-opacity="0.55"/></g></g><rect x="207.8" y="64.6" width="95.6" height="61.4" fill="none" stroke="#666" stroke-width="0.8"/><rect x="306.0" y="64.6" width="95.4" height="61.4" filter="url(#s2)"/><g clip-path="url(#ci3)"><g filter="url(#bl2)"><path d="M402.4 75.7L401.2 81.1M403.6 82.4L401.2 81.1M398.7 115.3L405.5 117.7M398.7 115.3L400.7 102.7M395.3 115.1L398.7 115.3M395.3 115.1L390.0 105.7M400.7 102.7L390.0 105.7M400.8 102.5L399.5 94.2M398.5 93.9L399.5 94.2M388.8 104.5L390.0 105.7M388.8 104.5L389.8 97.8M405.5 117.7L401.4 126.5M384.7 56.9L391.1 66.7M394.6 62.2L392.2 66.5M397.5 70.1L392.2 66.5M309.4 101.6L305.7 105.0M307.8 111.8L305.7 105.0M295.6 112.6L305.4 119.7M322.7 66.4L321.8 66.7M315.5 61.3L321.8 66.7M331.5 67.8L332.7 69.3M328.3 67.6L325.2 73.4M332.9 72.8L332.7 69.3M363.5 124.4L363.4 124.4M371.2 124.6L367.7 116.7M366.8 116.2L367.7 116.7M360.0 107.6L358.4 114.1M363.4 124.4L361.9 124.2M361.9 124.2L357.8 121.0M357.8 121.0L358.0 120.2M359.9 116.6L358.0 120.2M351.7 123.8L344.6 124.5M351.7 123.8L349.9 138.1M358.4 114.1L353.6 114.8M395.3 115.1L390.0 119.3M401.4 126.5L393.6 125.7M390.0 119.3L393.6 125.7M387.7 104.8L385.4 105.9M377.6 116.2L373.6 125.0M372.7 125.5L373.6 125.0M363.4 129.4L363.5 124.4M372.7 125.5L372.2 127.9M386.7 122.0L377.2 125.8M373.6 125.0L377.2 125.8M395.6 80.7L393.5 83.2M393.5 83.2L393.1 87.3M397.8 81.9L397.6 91.1M397.9 71.5L393.6 77.8M393.6 77.8L395.6 80.7M385.5 86.5L393.5 83.2M385.5 86.5L393.1 87.3M398.5 93.9L397.6 91.1M383.7 86.7L390.3 96.8M383.5 86.3L390.5 77.4M376.2 69.9L370.9 72.8M367.8 62.0L370.1 72.8M334.1 76.6L337.9 78.5M337.9 78.5L339.1 70.9M334.1 69.3L339.1 70.9M370.1 72.8L368.0 73.1M368.0 73.1L362.6 57.7M368.0 73.1L364.6 75.1M364.6 75.1L361.8 75.2M357.8 84.2L349.6 91.8M348.7 85.2L349.6 91.8M360.7 87.0L359.8 86.8M360.7 87.0L368.7 84.1M359.8 86.8L357.8 84.2M368.7 84.1L364.6 75.1M357.1 80.6L361.8 75.2M357.1 80.6L357.0 82.5M357.0 94.6L349.0 95.6M349.0 95.6L349.6 91.8M309.4 101.6L310.1 101.6M310.1 101.6L313.9 105.2M305.4 119.7L311.3 117.7M310.4 112.4L311.1 114.2M303.4 97.8L305.5 93.2M305.5 93.2L307.4 92.3M307.4 92.3L310.0 95.9M314.9 122.2L313.9 122.3M313.9 122.3L312.5 125.8M323.9 130.4L313.2 127.1M324.9 127.3L324.0 129.5M324.9 127.3L320.6 120.4M304.1 127.5L312.5 125.8M312.0 118.3L313.9 122.3M337.3 125.6L337.3 125.0M324.9 127.3L327.9 124.4M337.3 125.0L334.6 124.2M334.1 76.6L329.9 79.4M326.0 75.0L326.1 77.5M329.9 79.4L326.1 77.5M321.8 66.7L320.4 69.0M325.2 73.4L321.0 72.9M358.0 127.8L360.2 125.6M360.2 125.6L353.5 123.3M358.8 141.4L358.0 127.8M351.9 123.5L351.7 123.8M351.9 123.5L353.3 123.4M357.8 121.0L353.5 123.3M351.8 123.1L353.7 116.7M366.9 109.4L366.9 109.4M366.9 109.4L375.8 110.6M383.7 86.7L378.5 92.5M378.3 97.4L378.5 92.5M357.6 95.2L355.2 103.3M362.4 98.6L359.4 106.6M320.6 120.4L322.4 116.0M312.0 118.3L321.8 114.5M386.5 125.4L391.4 133.2M386.7 122.0L386.5 125.4M377.2 125.8L382.0 131.1M337.3 125.6L347.0 134.0M376.2 69.9L377.1 69.7M370.9 72.8L373.4 80.8M380.5 76.1L373.4 80.8M380.5 76.1L380.6 74.4M380.6 74.4L377.1 69.7M318.6 98.6L316.6 95.8M313.9 105.2L316.0 105.3M319.9 101.7L316.0 105.3M306.5 68.1L306.5 69.3M315.5 69.5L314.5 68.3M375.5 104.7L373.6 101.7M375.5 104.7L380.3 103.3M374.5 99.5L378.2 97.4M366.9 109.4L369.5 103.0M385.4 105.9L380.3 103.3M387.7 104.8L379.2 99.0M378.3 97.4L378.2 97.4M357.0 94.6L357.6 95.2M362.4 98.6L363.3 98.4M365.9 91.9L363.3 98.4M360.0 107.6L359.5 107.0M369.5 103.0L364.7 98.8M359.5 107.0L359.4 106.6M311.1 114.2L321.5 112.2M316.0 105.3L321.4 111.3M321.5 112.2L321.4 111.3M321.8 114.5L321.7 113.1M373.1 82.7L382.7 85.5M380.5 76.1L382.7 85.5M373.4 80.8L373.1 82.7M368.7 84.1L370.3 84.7M383.5 86.3L382.9 85.7M388.0 74.2L380.6 74.4M391.1 66.7L388.9 71.2M379.1 66.6L379.0 66.7M388.0 74.2L388.9 71.2M377.1 69.7L378.8 67.0M375.3 61.0L379.0 66.7M346.9 76.6L345.0 72.5M346.9 76.6L348.1 78.5M349.2 78.4L350.8 70.4M345.0 72.5L345.8 69.7M345.8 69.7L349.0 64.7M350.8 70.4L349.0 64.7M338.6 78.8L340.8 80.3M338.6 78.8L345.0 72.5M354.0 78.6L349.2 78.4M357.1 80.6L354.0 78.6M338.4 78.8L338.6 78.8M338.4 78.8L337.9 78.5M339.1 70.9L345.8 69.7M350.2 61.0L349.0 64.7M322.1 79.3L320.0 86.8M320.0 86.8L329.1 87.1M338.4 78.8L333.2 91.3M321.0 72.9L319.3 75.5M322.1 79.3L320.9 78.4M319.3 75.5L320.9 78.4M321.9 94.0L319.7 92.2M321.9 94.0L318.6 98.6M316.6 95.8L316.7 94.4M319.7 92.2L316.7 94.4M313.8 93.1L316.7 94.4M372.6 97.4L374.9 91.7M372.6 97.4L370.6 95.8M370.6 95.8L370.1 91.1M370.1 91.1L371.1 90.1M371.1 90.1L374.9 91.7M378.5 92.5L374.9 91.7M374.5 99.5L372.6 97.4M364.7 98.8L370.6 95.8M365.9 91.9L370.1 91.1M319.3 75.5L314.8 75.3M314.0 74.9L314.8 75.3M306.5 69.3L304.3 76.3M320.9 78.4L315.9 81.3M314.8 75.3L315.9 81.3M303.0 77.6L304.3 76.3M351.8 123.1L348.7 118.9M353.6 114.8L352.1 114.1M348.7 118.9L352.1 114.1M359.5 107.0L351.4 109.5M350.6 111.7L350.6 111.6M351.4 109.5L350.6 111.6M330.5 116.5L331.6 115.1M330.8 112.5L331.3 112.8M331.3 112.8L331.6 115.1M323.5 109.6L328.9 110.4M323.5 109.6L324.7 107.8M324.7 107.8L328.7 107.3M321.4 111.3L323.5 109.6M330.8 112.5L328.9 110.4M332.1 102.9L340.0 107.2M334.4 94.4L338.1 94.8M341.5 96.5L340.0 107.2M332.1 104.0L328.7 107.3M328.5 97.9L331.6 97.2M320.0 86.8L319.7 87.0M319.7 87.0L319.7 92.2M344.8 83.5L338.1 94.8M306.6 82.2L315.6 82.1M306.6 82.2L308.0 86.3M308.0 86.3L308.6 87.2M308.6 87.2L312.4 88.5M318.8 86.7L315.6 82.1M303.0 77.6L306.6 82.2M315.9 81.3L315.6 82.1M302.2 90.3L308.0 86.3M307.4 92.3L308.6 87.2M319.7 87.0L318.8 86.7M347.5 118.4L342.8 123.6M341.2 114.8L339.2 117.5M339.2 117.5L338.8 123.2M350.6 111.7L346.2 117.1M344.6 124.5L342.8 123.6M342.5 111.2L350.6 111.6M341.5 111.7L341.2 114.8M337.3 125.0L338.8 123.2M349.4 105.6L345.0 107.6M349.4 105.6L349.8 101.2M349.8 101.2L347.5 96.8M342.5 111.2L345.0 107.6M351.4 109.5L349.4 105.6M349.0 95.6L347.5 96.8M341.5 96.5L342.0 96.6M340.2 108.9L332.3 104.7M340.7 110.9L333.6 109.9M332.1 104.0L332.3 104.7M341.5 111.7L340.7 110.9" stroke="#ece6f2" stroke-width="0.6" stroke-opacity="0.55" fill="none"/><path d="M394.2 98.5h0M352.7 110.4h0M373.2 125.7h0M350.9 121.2h0M360.1 66.1h0M354.4 116.6h0M392.5 112.6h0M337.6 120.7h0M363.2 73.3h0M317.2 85.0h0M396.2 65.1h0M380.6 121.7h0M390.5 102.2h0M357.5 69.9h0M329.3 70.2h0M369.0 116.2h0M356.3 95.5h0M347.9 106.3h0M358.7 86.6h0M338.3 69.9h0M394.6 81.1h0M320.1 104.2h0M313.1 88.2h0M365.0 80.4h0M308.3 111.6h0M382.8 106.1h0M356.2 81.8h0M328.3 77.6h0M392.5 95.5h0M366.7 124.7h0M323.3 108.5h0M309.1 112.3h0M312.5 104.7h0M326.3 123.0h0M321.7 80.7h0M328.2 104.0h0M310.3 117.9h0M369.8 97.9h0M316.4 85.1h0M368.1 116.9h0M312.8 118.0h0M396.6 100.2h0M356.6 86.2h0M317.0 104.5h0M382.8 104.9h0M334.4 108.2h0M307.6 70.6h0M382.5 111.9h0M385.8 101.9h0M386.4 65.6h0M335.8 87.4h0M309.4 118.1h0M387.9 115.3h0M341.9 79.9h0M367.2 104.3h0M311.5 102.0h0M311.9 79.1h0M376.0 118.7h0M379.4 109.2h0M362.1 106.8h0M357.7 113.8h0M390.5 72.1h0M365.1 64.8h0M358.9 124.5h0M382.5 80.9h0M398.0 90.4h0M312.1 78.7h0M374.7 90.7h0M384.8 116.8h0M324.7 64.8h0M354.5 114.6h0M377.5 88.8h0M347.7 93.0h0M324.2 118.5h0M359.6 67.3h0M373.4 79.7h0M349.5 71.8h0M396.3 85.5h0M394.7 87.4h0M313.9 79.8h0M349.7 99.2h0M366.1 83.0h0M324.4 113.0h0M377.7 105.0h0M387.8 97.6h0M375.2 88.8h0M331.7 70.4h0M325.3 81.7h0M317.7 121.4h0M385.2 94.2h0M354.1 101.1h0M362.9 120.3h0M332.1 73.5h0M364.3 68.8h0M358.1 68.5h0M324.2 81.6h0M306.5 89.0h0M328.3 66.3h0M396.6 112.7h0M313.2 96.7h0M309.5 95.7h0M382.8 116.7h0M340.8 81.1h0M384.0 123.7h0M379.0 77.5h0M307.7 97.4h0M354.3 82.3h0M361.3 124.9h0M336.6 114.8h0M392.7 88.8h0M400.1 104.5h0M379.3 91.0h0M384.2 120.4h0M399.6 121.5h0M367.6 120.1h0M382.1 93.1h0M379.4 103.3h0M369.7 92.9h0M385.3 120.1h0M354.2 119.9h0M375.4 91.8h0M394.6 81.0h0M336.8 108.7h0M344.9 75.8h0M344.7 79.4h0M348.0 72.0h0M314.4 121.2h0M344.9 96.3h0M365.8 111.9h0M368.0 84.9h0M313.7 91.8h0M375.4 105.4h0M368.8 69.2h0M324.8 106.6h0M350.0 95.9h0M332.9 108.0h0M364.8 116.3h0M340.7 102.6h0M317.5 95.4h0M329.3 74.1h0M313.6 95.9h0M348.0 70.5h0M382.5 100.9h0M368.7 78.5h0M325.1 105.6h0M396.1 100.9h0M310.2 106.7h0M368.7 103.7h0M364.7 110.1h0M348.4 105.7h0M389.4 117.2h0M375.1 74.9h0M379.1 112.6h0M351.9 123.7h0M347.8 103.8h0M371.0 81.8h0M364.2 101.5h0M322.4 70.8h0M355.6 83.7h0M315.1 107.1h0M324.1 118.5h0M350.9 68.0h0M374.4 72.3h0M342.3 88.3h0M317.5 94.6h0M373.6 98.1h0M359.5 124.2h0M396.0 98.3h0M340.1 124.7h0M336.2 77.7h0M325.9 86.1h0M331.5 75.6h0M344.9 78.7h0M356.5 95.5h0M349.1 67.5h0M323.5 100.9h0M334.2 72.0h0M348.5 124.2h0M373.8 69.5h0M368.1 115.9h0M366.9 117.6h0M362.3 106.1h0M359.8 84.8h0M312.0 81.4h0M366.9 121.6h0M345.7 83.4h0M317.2 109.7h0M359.8 75.5h0M310.7 80.4h0M371.7 117.2h0M369.6 124.9h0M358.0 115.9h0M379.4 119.9h0M374.4 97.7h0M381.5 101.2h0M386.2 77.2h0M381.9 99.0h0M338.8 111.8h0M391.1 68.9h0M380.5 67.5h0M306.0 93.1h0M382.7 106.1h0M380.8 123.5h0M400.0 115.0h0M342.5 69.2h0M347.6 88.2h0M327.6 97.4h0M393.0 95.3h0M362.5 67.5h0M312.2 122.2h0M311.4 70.0h0M395.4 119.9h0M379.9 103.0h0M401.3 92.6h0M330.5 70.1h0M342.6 74.9h0M347.0 123.5h0M315.8 96.5h0M366.1 103.4h0M312.2 110.4h0M333.5 83.0h0M329.9 72.3h0M320.3 84.2h0M350.5 78.3h0M361.2 67.6h0M356.5 79.9h0M309.8 70.5h0M355.5 96.3h0M342.4 78.6h0M375.7 97.5h0M373.1 105.8h0M383.4 68.3h0M306.7 123.3h0M346.9 84.2h0M365.4 103.8h0M329.7 83.4h0M348.0 114.1h0M315.2 119.7h0M322.5 67.5h0M365.6 71.7h0M359.0 97.2h0M326.5 92.9h0M346.7 107.1h0M357.5 119.3h0M377.8 91.2h0M306.8 73.8h0M385.2 85.0h0M351.5 104.4h0M358.0 118.5h0M375.8 99.9h0M348.3 95.2h0M342.7 69.5h0M345.9 66.5h0M376.3 98.0h0M393.8 96.2h0M313.0 86.7h0M393.0 76.1h0M321.0 77.9h0M320.1 73.5h0M307.8 107.3h0M395.5 121.0h0M306.2 108.1h0M346.1 95.3h0M388.1 101.1h0M385.3 70.2h0M343.1 95.4h0M365.3 83.4h0M384.0 107.0h0M361.0 67.5h0M353.5 93.5h0M362.7 107.6h0M306.9 109.0h0M363.1 70.6h0M307.9 68.2h0M334.6 85.8h0M337.6 116.7h0M344.9 123.0h0M389.5 93.0h0M343.4 86.6h0M361.4 72.6h0M325.1 118.0h0M396.8 70.6h0M323.7 118.7h0M335.1 65.5h0M388.7 108.0h0M370.5 67.6h0M369.1 75.6h0M378.1 117.9h0M352.1 122.1h0M373.8 106.4h0M339.9 67.4h0M310.8 92.9h0M310.2 109.7h0M328.9 113.8h0M386.9 123.8h0M319.8 68.0h0M357.7 81.4h0M351.2 90.7h0M333.2 69.7h0M383.3 120.2h0M374.6 121.3h0M379.8 85.8h0M364.3 105.7h0M317.0 98.5h0M395.0 125.3h0M331.7 101.7h0M316.8 94.2h0M324.2 111.7h0M367.2 103.0h0M394.5 107.5h0M327.0 119.7h0M375.3 109.8h0M307.8 123.6h0M381.7 68.5h0M360.2 85.3h0M370.8 115.5h0M348.7 112.7h0M307.6 90.9h0M336.0 112.6h0M362.9 82.3h0M351.3 72.7h0M306.2 73.9h0M332.8 87.8h0M329.9 96.9h0M328.6 85.9h0M398.5 108.9h0M385.4 88.1h0M347.3 66.7h0M317.5 86.7h0M365.9 94.1h0M398.5 110.5h0M356.3 82.0h0M320.0 108.5h0M386.1 76.4h0M370.1 65.1h0M315.6 67.4h0M313.5 84.2h0M393.8 70.4h0M354.1 109.2h0M398.2 81.8h0M335.4 120.4h0M391.9 65.0h0M395.1 113.3h0M329.8 115.1h0M384.0 114.0h0M383.7 91.4h0M354.1 115.3h0M365.5 79.1h0M366.3 86.3h0M330.0 123.1h0M376.5 94.1h0M369.0 96.8h0M387.8 119.2h0M314.9 105.4h0M392.9 77.6h0M350.4 83.6h0M316.2 66.0h0M306.8 103.3h0M354.3 68.2h0M309.7 118.6h0M325.9 90.4h0M323.3 88.9h0M389.7 87.1h0M368.5 70.6h0M395.6 67.2h0M337.2 92.6h0M335.6 95.5h0M312.7 121.5h0M333.5 88.9h0M325.5 108.4h0M349.5 100.2h0M348.8 67.7h0M396.3 107.1h0M394.6 107.4h0M355.5 104.8h0M385.8 97.7h0M382.0 96.8h0M311.6 92.2h0M334.9 118.3h0M326.4 110.9h0M372.5 97.7h0M367.8 96.6h0M354.7 95.0h0M340.2 103.5h0M314.5 105.6h0M374.2 82.7h0M332.6 115.4h0M358.2 71.0h0M394.1 80.7h0M379.9 101.0h0M326.9 91.3h0M400.7 123.2h0M339.0 125.3h0M338.8 102.2h0M315.1 68.5h0M376.3 114.5h0M315.3 105.0h0M369.2 112.3h0M357.0 117.9h0M346.1 90.6h0M310.5 64.6h0M328.1 94.9h0M384.3 89.6h0M381.6 108.4h0M374.2 108.3h0M349.9 66.4h0M319.7 81.4h0M384.2 91.3h0M372.9 73.4h0M346.9 69.7h0M357.4 83.7h0M364.6 124.8h0M363.8 125.3h0M368.7 79.3h0M377.0 120.6h0M315.1 93.0h0M389.0 121.7h0M365.3 74.8h0M398.8 88.7h0M309.5 113.0h0M346.8 73.7h0M352.0 74.0h0M320.9 102.6h0M378.6 84.9h0M336.1 121.1h0M339.1 101.8h0M329.4 125.9h0M320.3 121.7h0M385.1 118.5h0M363.0 122.4h0M388.9 118.6h0M319.1 67.3h0M309.5 68.5h0M370.5 105.2h0M388.3 113.0h0M306.7 121.0h0M355.0 120.4h0M382.5 87.4h0M401.4 124.9h0M331.3 112.6h0M387.5 85.8h0M338.9 72.7h0M382.2 75.3h0M309.8 116.7h0M357.8 77.1h0M308.1 87.1h0M361.0 111.7h0M318.5 95.0h0M391.7 96.4h0M306.8 84.2h0" stroke="#5a469c" stroke-width="1.9" stroke-linecap="round" stroke-opacity="0.55"/><path d="M342.8 95.4h0M316.5 80.5h0M398.6 93.7h0M373.9 103.9h0M363.2 78.1h0M374.3 110.8h0M386.5 100.3h0M388.3 93.1h0M309.0 120.8h0M365.6 106.8h0M358.7 96.9h0M316.6 120.5h0M346.6 121.3h0M310.9 118.4h0M330.3 101.2h0M311.7 95.8h0M347.5 109.2h0M341.2 91.5h0M340.4 120.8h0M359.9 77.5h0M313.8 94.7h0M309.1 77.8h0M391.2 106.5h0M332.7 99.0h0M319.1 98.5h0M338.5 124.0h0M341.7 112.0h0M332.5 112.2h0M354.8 120.9h0M312.5 110.5h0M344.3 113.3h0M369.5 90.5h0M336.2 96.6h0M393.4 84.0h0M311.3 115.2h0M331.6 72.4h0M337.8 113.7h0M342.6 104.2h0M364.4 110.9h0M331.4 122.5h0M376.7 102.5h0M326.6 101.9h0M357.9 91.9h0M347.6 97.3h0M353.2 104.8h0M390.5 84.3h0M334.0 97.5h0M383.4 104.5h0M396.7 121.0h0M338.3 101.6h0M357.9 119.6h0M317.7 64.6h0M367.5 124.2h0M325.3 71.6h0M368.0 119.2h0M322.9 114.3h0M354.9 96.6h0M394.5 92.8h0M323.1 118.5h0M319.2 125.0h0M383.2 97.7h0M342.9 104.5h0M316.9 118.0h0M314.6 70.7h0M351.8 120.1h0M388.9 90.8h0M378.8 111.2h0M316.4 96.6h0M317.2 84.7h0M359.8 113.6h0M374.4 125.0h0M338.4 124.1h0M307.9 108.8h0M355.2 125.6h0M384.0 75.6h0M341.0 103.7h0M333.5 104.9h0M342.1 117.7h0M384.6 90.2h0M347.8 113.7h0M321.3 121.8h0M318.0 125.9h0M324.5 110.9h0M345.1 117.5h0M324.6 123.3h0M369.3 115.0h0M334.1 84.3h0M389.6 97.6h0M328.0 65.1h0M333.9 113.6h0M341.9 117.6h0M359.2 77.7h0M338.7 103.1h0M314.9 101.9h0M374.3 118.0h0M320.6 113.4h0M317.0 69.8h0M311.7 80.9h0M331.9 99.4h0M312.9 96.0h0M375.5 125.6h0M333.6 118.9h0M366.8 69.0h0M393.5 97.5h0M344.8 111.8h0M307.6 80.5h0M354.9 124.6h0M331.0 118.7h0M336.5 97.1h0M344.3 113.3h0M357.8 82.0h0M324.2 73.3h0M336.2 91.9h0M337.2 94.2h0M358.2 109.9h0M346.4 94.4h0M334.8 125.6h0M307.6 90.4h0M307.4 125.1h0M359.5 125.0h0M373.0 89.4h0M367.5 111.4h0M378.4 90.8h0M307.9 104.8h0M366.0 125.7h0M333.2 122.0h0M327.4 123.6h0M364.3 93.7h0M319.3 115.2h0M330.9 107.8h0M332.4 91.5h0M352.5 118.1h0M338.3 96.2h0M327.4 108.9h0M397.1 94.4h0M322.0 111.9h0M341.5 106.1h0M357.1 93.7h0M338.7 116.2h0M351.9 104.1h0M317.9 74.5h0M399.9 92.0h0M315.5 93.2h0M368.8 116.0h0M358.9 107.8h0M320.2 118.3h0M400.5 82.6h0M358.9 82.9h0M352.2 79.0h0M326.1 81.4h0M357.5 124.8h0M361.9 82.9h0M388.2 89.5h0M342.9 92.3h0M325.6 123.4h0M336.3 108.3h0M384.4 86.0h0M319.5 74.5h0M353.4 114.0h0M397.7 110.5h0" stroke="#7a5638" stroke-width="1.6" stroke-linecap="round" stroke-opacity="0.5"/><path d="M317.8 70.8h0M324.5 103.8h0M364.2 78.2h0M361.9 116.7h0M343.6 124.4h0M338.5 122.4h0M331.9 116.5h0M400.5 87.0h0M352.7 114.6h0M330.9 120.2h0M330.5 116.9h0M364.0 119.2h0M391.8 99.2h0M346.9 89.3h0M308.0 121.5h0M317.0 72.4h0M388.0 98.4h0M400.3 88.0h0M306.7 91.9h0M393.4 94.3h0M324.4 79.7h0M308.6 105.1h0M389.3 88.2h0M312.2 125.2h0M350.5 69.5h0M319.2 109.3h0M356.2 100.2h0M369.1 96.1h0M379.3 112.1h0M345.7 113.4h0M312.7 105.9h0M396.4 81.7h0M360.2 109.3h0M351.5 122.0h0M343.3 76.8h0M335.4 123.6h0M311.4 115.3h0M326.3 86.1h0M318.6 123.5h0M350.2 124.2h0M309.0 123.6h0M333.2 87.8h0M361.1 66.0h0M341.7 110.8h0M353.0 83.8h0M354.4 120.5h0M324.0 119.2h0M356.2 81.1h0M330.9 81.8h0M400.6 117.4h0M345.2 117.1h0M359.3 111.3h0M308.2 89.2h0M353.6 110.8h0M369.0 96.3h0M306.4 100.9h0M306.6 98.7h0M334.8 104.3h0M366.3 111.0h0M340.3 110.9h0M399.7 117.5h0M354.7 82.5h0M399.8 102.6h0M353.8 111.3h0M314.0 68.4h0M338.1 120.8h0M346.4 105.6h0M350.6 81.9h0M357.6 83.4h0M372.0 122.3h0M380.5 88.3h0M328.0 104.5h0M316.1 120.7h0M318.4 66.4h0M337.6 108.2h0M325.7 100.6h0M360.1 73.7h0M369.7 87.4h0M339.1 117.8h0M311.3 122.2h0" stroke="#7a5638" stroke-width="2.4" stroke-linecap="round" stroke-opacity="0.45"/><path d="M352.3 82.8h0M323.1 120.1h0M346.5 100.8h0M357.7 122.0h0M361.9 72.5h0M389.8 117.1h0M341.9 107.2h0M358.2 113.6h0M333.2 96.1h0M399.2 84.5h0M329.4 111.6h0M334.4 117.9h0M359.4 123.7h0M374.7 90.0h0M340.3 112.4h0M351.0 107.0h0M363.6 122.0h0M335.6 71.8h0M346.6 115.1h0M356.1 93.6h0M310.5 121.8h0M359.9 72.0h0M351.5 87.8h0M396.5 69.9h0M329.3 120.1h0" stroke="#7a5638" stroke-width="3.2" stroke-linecap="round" stroke-opacity="0.4"/><path d="M356.1 116.2h0M374.2 110.5h0M401.1 67.6h0M330.6 115.5h0M320.2 66.5h0M363.2 94.6h0M328.9 74.5h0M345.3 118.1h0M355.6 101.0h0M344.4 77.8h0M322.4 73.1h0M354.4 102.9h0M343.8 112.0h0M311.4 108.7h0M334.4 65.2h0M396.4 67.0h0M400.9 97.8h0M393.3 110.2h0M313.4 122.0h0M396.4 84.1h0M372.9 72.5h0M374.1 125.4h0M334.1 102.0h0M306.6 80.6h0M323.7 66.6h0M383.8 104.7h0M339.1 93.4h0M340.2 81.5h0M362.4 79.7h0M379.8 92.9h0M366.4 87.2h0M330.7 75.1h0M392.5 82.8h0M392.9 71.2h0M341.0 78.6h0M372.1 87.8h0M356.6 121.8h0M379.3 116.6h0M397.4 119.0h0M370.3 75.9h0" stroke="#f0ecf4" stroke-width="1.6" stroke-linecap="round" stroke-opacity="0.6"/></g></g><rect x="306.0" y="64.6" width="95.4" height="61.4" fill="none" stroke="#666" stroke-width="0.8"/><rect x="207.8" y="128.2" width="95.6" height="61.2" filter="url(#t1)"/><g clip-path="url(#ci4)"><g filter="url(#bl2)"><path d="M288.0 170.6h0M228.5 135.9h0M243.7 174.3h0M278.1 153.5h0M269.5 178.6h0M214.1 161.1h0M280.1 178.7h0M228.7 157.8h0M242.8 144.4h0M284.1 162.5h0M261.5 144.5h0M274.5 131.9h0M300.7 158.8h0M226.0 156.5h0M276.1 178.7h0M290.9 175.0h0M244.0 146.4h0M274.5 156.3h0M259.2 181.0h0M218.4 131.0h0M231.9 152.6h0M236.1 182.9h0M251.4 149.8h0M243.7 165.5h0M253.2 135.6h0M255.3 173.7h0M280.7 188.3h0M246.4 179.7h0M269.8 132.7h0M273.9 188.6h0M234.5 152.7h0M235.9 172.6h0M294.1 144.2h0M245.4 176.7h0M292.6 187.9h0M282.5 172.3h0M235.6 144.6h0M242.6 173.3h0M260.3 155.0h0M247.4 166.3h0M271.9 162.5h0M301.9 184.2h0M254.1 147.8h0M250.6 133.1h0M255.8 136.2h0M289.1 153.0h0M231.5 155.3h0M233.4 135.1h0M257.0 155.7h0M232.0 149.8h0M238.2 181.9h0M241.3 149.8h0M232.2 176.7h0M269.0 174.2h0M237.2 138.8h0M229.2 179.3h0M215.5 188.6h0M255.0 168.3h0M295.7 178.2h0M254.0 134.0h0M262.7 154.7h0M274.3 138.3h0M247.0 139.2h0M298.1 155.6h0M210.7 131.6h0M271.4 145.8h0M293.3 158.5h0M262.2 164.4h0M284.4 159.8h0M211.6 179.1h0M286.5 134.4h0M267.6 139.5h0M253.5 150.0h0M288.1 150.8h0M301.2 187.6h0M271.3 169.5h0M221.9 138.0h0M234.1 156.3h0M246.3 140.7h0M290.4 135.6h0M240.9 179.5h0M299.2 169.8h0M245.2 174.7h0M298.0 129.3h0M225.8 151.2h0M219.2 149.1h0M286.3 132.3h0M222.3 130.9h0M222.0 134.1h0M271.0 179.1h0M227.5 182.7h0M300.6 168.9h0M260.2 155.6h0M265.3 141.7h0M253.4 182.4h0M283.7 134.3h0M237.2 132.0h0M226.0 166.0h0M279.9 176.3h0M219.1 174.5h0M249.2 183.5h0M297.0 169.4h0M227.6 130.7h0M240.4 168.7h0M301.9 153.0h0M209.8 142.8h0M300.3 173.0h0M272.2 172.3h0M253.3 136.2h0M290.4 179.7h0M224.4 137.3h0M260.6 163.6h0M300.0 167.3h0M281.9 132.2h0M252.3 131.9h0M218.7 152.1h0M246.4 149.1h0M260.5 175.2h0M286.0 168.9h0M278.8 133.8h0M290.3 163.4h0M295.4 148.7h0M237.9 147.2h0M295.5 153.2h0M289.3 171.4h0M258.9 176.1h0M223.8 176.4h0M276.9 162.7h0M264.0 147.6h0M300.8 129.3h0M211.6 170.7h0M283.7 179.1h0M278.2 185.2h0M267.7 132.8h0M251.6 169.0h0M243.8 146.0h0M254.4 166.3h0M302.3 157.5h0M226.4 187.2h0M231.0 185.5h0M219.9 136.8h0M302.7 151.9h0M245.0 153.6h0M217.9 180.4h0M237.7 147.8h0M253.4 178.3h0M248.0 133.9h0M276.3 170.0h0M298.3 147.1h0M271.1 163.0h0M209.8 139.3h0M244.8 185.0h0M251.9 176.9h0M272.0 158.2h0M247.5 154.5h0M243.1 153.5h0M219.3 147.1h0M276.0 145.5h0M262.7 143.9h0M256.7 134.7h0M293.6 170.1h0M264.2 166.0h0M222.6 179.3h0M259.3 135.5h0M220.7 138.4h0M271.0 146.7h0M244.0 184.7h0M300.4 165.3h0M218.9 150.4h0M297.1 137.8h0M300.8 133.0h0M297.3 165.9h0M215.7 132.2h0M280.9 165.9h0M302.5 172.4h0M221.1 181.0h0M215.5 137.1h0M218.7 162.7h0M237.1 167.3h0M294.8 140.3h0M210.8 155.8h0M289.3 183.2h0M274.7 170.5h0M242.9 185.0h0M270.3 173.4h0M244.2 143.2h0M269.7 132.2h0M230.4 137.6h0M264.7 160.6h0M253.7 181.0h0M217.0 179.2h0M276.0 148.4h0M238.9 156.3h0M242.8 155.2h0M262.6 184.1h0M218.4 142.7h0M273.7 178.2h0M303.4 183.5h0M218.2 147.0h0M224.7 163.8h0M230.7 166.0h0M226.4 181.8h0M223.1 160.9h0M211.5 154.2h0M226.0 156.9h0M217.9 132.2h0M238.9 173.3h0M260.1 155.6h0M255.7 172.9h0M229.6 131.8h0M289.5 176.5h0M280.1 189.1h0M277.4 159.1h0M231.6 172.6h0M234.8 142.6h0M228.5 185.2h0M216.5 136.8h0M271.0 184.8h0M291.9 181.2h0M294.3 168.5h0M221.4 152.7h0M232.5 186.3h0M217.3 182.2h0M289.3 131.6h0M250.4 141.6h0M224.4 153.5h0M221.6 185.2h0M228.0 158.1h0M245.0 139.3h0M265.8 160.9h0M251.0 128.5h0M242.8 156.5h0M268.4 154.8h0M283.8 165.1h0M233.2 165.6h0M229.3 160.9h0M279.2 176.8h0M219.8 151.4h0M239.1 152.7h0M263.1 173.0h0M288.4 169.5h0M294.7 186.6h0M231.8 162.5h0M219.9 162.2h0M271.5 169.4h0M276.4 151.8h0M250.4 140.0h0M248.7 162.0h0M281.9 184.9h0M301.2 166.3h0M298.8 141.1h0M216.4 153.1h0M288.3 141.5h0M259.2 184.2h0M222.8 182.0h0M277.8 152.3h0M210.3 152.9h0M216.7 180.5h0M297.3 145.3h0M292.5 164.2h0M282.6 188.8h0M277.8 157.8h0M219.0 129.6h0M294.4 181.4h0M280.4 159.4h0M269.4 139.2h0M271.4 151.2h0M215.9 143.7h0M275.4 188.8h0M263.2 159.5h0M241.6 160.5h0M258.0 146.2h0M270.1 176.5h0M300.0 144.5h0M240.6 178.0h0M229.1 140.7h0M228.1 154.2h0M253.0 163.0h0M255.2 132.8h0M290.4 176.6h0M227.4 149.1h0M270.2 182.3h0M251.8 140.6h0M296.9 142.9h0M224.8 156.1h0M281.6 141.3h0M244.5 184.2h0M253.7 150.4h0M217.0 133.6h0M258.6 142.2h0M212.8 159.4h0M260.9 167.6h0M298.3 162.0h0M223.3 158.5h0M295.4 172.5h0M284.7 161.2h0M291.4 130.7h0M289.4 153.3h0M243.0 148.5h0M240.1 174.1h0M241.2 168.6h0M247.7 148.5h0M233.9 152.1h0M279.9 138.9h0M220.7 135.8h0M226.2 185.7h0M255.3 178.9h0M275.7 136.9h0M222.8 168.2h0M210.2 177.9h0M244.4 141.8h0M278.5 188.3h0M249.3 179.8h0M260.0 154.7h0M231.3 148.1h0M301.6 137.8h0M243.0 164.5h0M229.7 170.8h0M295.7 180.8h0M272.0 133.4h0M272.9 151.5h0M289.1 133.6h0M249.1 188.6h0M259.7 137.9h0M214.6 140.6h0M267.7 187.9h0M261.3 128.9h0M286.8 165.5h0M278.6 176.1h0M208.8 180.5h0M219.0 146.0h0M253.0 154.0h0M260.1 152.2h0M262.7 163.9h0M210.7 155.2h0M209.3 182.9h0M256.1 158.6h0M210.6 183.4h0M237.6 161.1h0M294.1 184.0h0M296.7 136.1h0M285.9 138.3h0M280.5 172.0h0M245.5 179.4h0M221.4 155.1h0M238.5 165.2h0M225.3 160.9h0M298.9 136.2h0M216.8 140.3h0M277.6 155.9h0M290.5 137.2h0M276.8 128.9h0M223.1 157.0h0M246.4 173.4h0M250.6 142.9h0M211.4 155.3h0M218.3 142.9h0M208.8 172.6h0M215.7 171.1h0M217.2 162.5h0M292.2 154.3h0M266.1 152.1h0M265.7 130.4h0M253.6 152.6h0M276.5 150.5h0M235.4 170.3h0M221.3 162.8h0M212.6 144.8h0M219.4 138.6h0M290.4 140.2h0M302.1 129.1h0M252.6 188.5h0M255.5 161.5h0M244.3 168.2h0M272.1 167.8h0M299.5 141.8h0M210.1 136.6h0M242.5 151.7h0M269.1 164.8h0M282.1 152.8h0M216.9 184.3h0M243.2 152.2h0M258.8 157.7h0M288.3 159.0h0M257.6 182.1h0M236.7 180.6h0M301.2 187.9h0M243.2 168.6h0M243.5 131.5h0M280.6 131.2h0M276.5 168.2h0M266.6 180.8h0M212.8 149.1h0M218.0 186.8h0M298.2 161.4h0M214.2 178.3h0M284.4 155.4h0M302.6 128.7h0M249.5 163.3h0M301.5 163.7h0M217.7 176.5h0M290.8 162.6h0M242.1 153.0h0M277.7 171.6h0M214.7 172.6h0M232.3 189.4h0M216.7 167.2h0M287.2 134.0h0M268.7 176.5h0M272.3 184.2h0M227.2 171.2h0M281.5 140.5h0M243.4 159.0h0M246.6 134.8h0M291.4 170.5h0M299.4 174.8h0M235.2 176.9h0M234.3 142.3h0M284.8 158.6h0M294.0 170.5h0M228.2 147.6h0M243.4 135.0h0M241.1 148.5h0M251.5 174.7h0M257.8 153.9h0M247.6 184.7h0M268.6 166.3h0M281.1 174.5h0M271.1 133.4h0M252.2 128.9h0M299.4 180.7h0M292.4 167.9h0M243.0 161.8h0M246.8 169.4h0M257.1 138.3h0M301.2 165.5h0M292.9 143.7h0M257.2 187.4h0M293.3 152.5h0M249.7 142.9h0M290.1 161.7h0M270.1 179.1h0M282.0 175.1h0M255.4 176.2h0M294.7 142.1h0M234.8 138.2h0M248.2 178.6h0M223.3 176.0h0M238.2 159.4h0M281.3 133.8h0M276.9 187.1h0M269.4 188.4h0M225.8 171.1h0M229.3 166.7h0M272.3 162.1h0M239.4 185.2h0M261.0 162.8h0M284.5 130.1h0M287.9 174.2h0M277.4 181.6h0M240.8 138.2h0M232.4 136.4h0M293.1 161.3h0M233.3 172.8h0M301.3 185.9h0M228.8 146.8h0M208.8 169.5h0M232.1 184.9h0M221.7 187.6h0M243.5 161.7h0M215.7 141.3h0M268.0 149.7h0M230.2 171.1h0M292.7 164.3h0M267.9 139.9h0M269.0 187.5h0M298.1 145.2h0M260.0 141.9h0M302.5 143.5h0M287.3 133.9h0M289.4 153.3h0M221.4 147.0h0M225.6 159.2h0M285.5 153.6h0M210.3 171.1h0M232.6 175.2h0M223.3 134.4h0M289.0 177.4h0M269.0 142.4h0M257.2 138.4h0M235.8 149.9h0M252.6 184.0h0M223.4 128.3h0M215.5 138.1h0M238.1 178.7h0M220.5 131.1h0M261.5 134.7h0M260.2 140.7h0M260.8 164.7h0M278.6 177.4h0M302.5 135.2h0M228.8 176.1h0M251.9 133.1h0M277.9 165.2h0M249.1 131.4h0M236.9 182.1h0M248.2 135.0h0M293.8 169.2h0M290.1 176.2h0M300.0 162.2h0M243.8 156.5h0M224.1 157.4h0M293.5 138.7h0M265.9 139.5h0M240.8 153.5h0M247.2 137.0h0M285.8 157.2h0M215.3 157.4h0M257.9 156.4h0M223.4 179.0h0M213.3 178.6h0M230.1 164.5h0M278.7 157.2h0M238.8 177.8h0M217.9 171.3h0M273.6 173.8h0M294.4 184.8h0M220.8 150.7h0M299.7 147.2h0M276.0 155.8h0M296.4 168.3h0M210.4 147.6h0M269.4 186.6h0M228.1 141.7h0M272.7 141.5h0M273.5 143.9h0M258.3 174.1h0M253.2 166.8h0M299.3 148.7h0M297.2 166.3h0M246.4 166.9h0M293.4 169.1h0M294.4 131.0h0M235.6 167.4h0M219.2 138.4h0M278.1 176.0h0M245.0 131.9h0M209.0 169.4h0M299.9 167.2h0M270.9 136.8h0M289.7 128.8h0M218.2 183.8h0M214.8 154.8h0M266.9 170.2h0M290.0 140.1h0M294.8 160.6h0M214.1 146.6h0M288.8 179.5h0M261.9 180.6h0M252.0 169.2h0M238.8 138.0h0M237.7 166.4h0M215.1 164.8h0M279.3 149.4h0M281.8 156.0h0M241.6 139.8h0M226.6 180.0h0M209.5 158.3h0M264.8 166.1h0M234.0 164.8h0M258.4 166.9h0M291.7 185.2h0M294.8 172.4h0M232.0 131.6h0M267.1 131.0h0M233.1 189.0h0M258.2 172.0h0M244.4 137.0h0M297.4 180.0h0M302.3 136.5h0M276.7 138.9h0M294.7 140.7h0M266.9 181.1h0M293.9 137.2h0M234.3 131.2h0M257.1 176.8h0M265.1 160.5h0M223.7 183.5h0M239.9 150.2h0M225.4 177.6h0M221.9 159.0h0M234.4 176.6h0M213.3 147.0h0M254.9 162.0h0M284.4 181.4h0M220.9 149.7h0M297.7 134.6h0M220.2 164.1h0M237.0 130.2h0M270.7 181.8h0M224.7 131.0h0M281.3 128.7h0M298.5 128.4h0M230.5 144.6h0M226.6 182.3h0M214.6 171.8h0M215.4 132.6h0M291.6 133.6h0M283.9 180.1h0M254.0 166.1h0M274.5 135.3h0M243.4 157.6h0M265.5 163.0h0M288.8 129.7h0M208.6 170.9h0M274.8 186.6h0M233.8 184.3h0M301.0 162.6h0M297.2 139.8h0M228.8 154.3h0M251.0 132.3h0M220.3 176.6h0M295.7 178.6h0M253.0 178.6h0M286.2 133.1h0M255.3 175.8h0M242.3 172.1h0M232.8 128.3h0M224.6 141.7h0M302.1 159.7h0M238.6 185.0h0M217.5 161.1h0M302.5 137.7h0M298.8 166.2h0M216.7 165.0h0M280.1 156.1h0M274.6 154.5h0M252.1 178.6h0M242.5 151.4h0M294.7 176.1h0M284.5 153.9h0M260.0 146.9h0M244.8 129.9h0M219.5 172.4h0M212.8 180.8h0M268.2 171.0h0M219.6 174.3h0M269.3 150.8h0M212.2 183.8h0M264.9 167.4h0M276.8 171.4h0M248.3 143.4h0M290.8 170.6h0M287.4 131.6h0M213.3 149.6h0M298.2 179.4h0M303.0 183.5h0M209.1 128.4h0M229.1 163.9h0M289.7 186.7h0M237.2 163.6h0M237.3 157.7h0M289.2 165.4h0M295.4 132.9h0M286.8 170.6h0M214.1 166.6h0M263.1 187.2h0M238.4 128.8h0M276.2 177.1h0M295.0 146.9h0M239.5 177.7h0M279.6 157.8h0M263.4 148.0h0M229.7 168.4h0M286.0 171.7h0M290.8 158.1h0M297.7 130.5h0M242.3 140.3h0M269.3 183.4h0M222.4 128.5h0M245.1 129.4h0M280.3 184.8h0M285.9 131.5h0M249.5 177.9h0M245.1 129.2h0M291.2 130.8h0M297.8 150.9h0M301.8 132.3h0M244.2 137.8h0M266.3 172.3h0M228.1 142.6h0M240.9 142.6h0M258.1 170.3h0M214.8 156.6h0M244.5 177.4h0M237.4 158.5h0M283.8 144.8h0M269.4 130.6h0M302.7 146.9h0M240.7 134.6h0M234.1 130.5h0M257.6 178.2h0M289.6 165.2h0M254.2 133.7h0M221.5 153.5h0M282.3 169.3h0M271.0 182.7h0M299.1 173.8h0M281.3 185.8h0M268.9 132.6h0M269.7 147.9h0M288.9 167.7h0M235.3 156.0h0M252.8 187.6h0M225.2 173.3h0M259.2 130.9h0M247.4 148.4h0M225.6 164.1h0M284.5 163.1h0M251.5 164.4h0M281.3 169.2h0M261.6 130.9h0M283.9 144.8h0M248.6 134.3h0M208.3 148.0h0M224.6 141.4h0M297.5 185.2h0M276.8 159.5h0M220.1 165.9h0M227.8 165.0h0M260.4 132.4h0M215.3 148.7h0M295.8 166.3h0M282.3 175.8h0M299.7 154.9h0M272.0 142.0h0M292.1 149.4h0M284.3 146.1h0M238.4 133.9h0M273.4 139.1h0M265.5 184.8h0M208.8 134.0h0M232.0 143.4h0M246.7 176.7h0M255.4 159.6h0M226.2 151.9h0M231.2 164.6h0M275.9 140.6h0M218.2 155.9h0M261.5 142.1h0M216.5 187.1h0M261.5 133.7h0M290.3 128.8h0M238.5 175.3h0M276.4 172.7h0M234.2 178.3h0M231.6 183.3h0M264.0 145.9h0M232.5 178.9h0M303.0 171.8h0M265.5 165.4h0M266.9 188.7h0M226.3 174.1h0M239.6 150.3h0M302.0 159.7h0M283.1 144.9h0M212.7 137.3h0M210.3 165.4h0M266.2 168.1h0M253.7 153.5h0M298.1 180.5h0M302.5 145.3h0M227.2 181.5h0M280.6 132.4h0M228.8 132.8h0M276.1 178.7h0M215.0 167.5h0M251.4 129.9h0M253.4 133.9h0M208.8 176.5h0M261.9 187.8h0M223.9 140.8h0M222.3 133.9h0M294.4 166.6h0M251.1 156.6h0M276.0 183.0h0M234.7 177.2h0M239.5 183.7h0M223.4 143.0h0M299.1 140.2h0M275.3 146.9h0M253.1 137.5h0M218.6 154.5h0M284.8 144.0h0M231.1 161.5h0M234.2 184.3h0M241.6 142.0h0M223.3 159.3h0M241.9 148.8h0M247.9 146.8h0M216.5 133.2h0M270.7 144.3h0M280.6 139.1h0M260.7 136.1h0M215.3 183.7h0M231.8 186.6h0M261.6 162.8h0M208.6 169.6h0M270.5 146.4h0M288.3 167.0h0M230.2 129.6h0M237.4 172.2h0M219.7 177.7h0M275.7 159.3h0M234.3 136.1h0M271.9 164.0h0M262.1 158.5h0M231.7 142.8h0M254.7 157.1h0M290.2 182.6h0M286.8 132.1h0M259.7 169.3h0M283.1 181.2h0M230.5 136.6h0M260.0 128.9h0M302.4 168.2h0M269.1 183.9h0M254.1 140.4h0M210.5 134.7h0M276.2 135.9h0M295.2 161.8h0M211.8 164.7h0M262.7 178.2h0M240.6 137.5h0M230.5 140.6h0M269.4 131.0h0M244.4 166.3h0M210.5 147.8h0M297.3 141.3h0M240.1 183.4h0M298.2 186.6h0M284.0 130.5h0M287.1 158.6h0M220.4 140.3h0M251.8 151.3h0M222.0 138.6h0M278.4 133.9h0M231.6 174.6h0M247.9 145.5h0M222.4 184.3h0M262.8 129.3h0M239.4 163.7h0M242.2 142.9h0M249.3 158.9h0M218.6 145.2h0M263.2 149.8h0M229.6 181.5h0M234.2 157.5h0M252.9 148.9h0M218.7 186.7h0M210.7 165.3h0M224.4 160.4h0M290.2 180.5h0M227.9 159.9h0M210.5 166.7h0M271.8 131.2h0M270.6 146.7h0M276.0 182.8h0M297.5 171.2h0M228.1 146.6h0M222.2 180.7h0M220.4 149.9h0M218.3 166.1h0M236.9 140.5h0M218.0 169.2h0M254.4 163.7h0M209.4 137.5h0M211.5 166.3h0M292.0 171.1h0M258.7 137.4h0M275.7 144.4h0M270.7 137.9h0M250.8 143.7h0M225.9 142.8h0M256.5 153.4h0M299.3 135.2h0M290.9 180.6h0M239.1 149.0h0M244.4 157.5h0M247.2 162.3h0M234.7 141.6h0M263.4 173.8h0M257.9 140.0h0M290.1 151.3h0M272.7 183.7h0M287.0 180.7h0M298.3 153.4h0M213.6 150.9h0M235.7 142.6h0M268.1 167.3h0M269.6 164.1h0M223.2 133.5h0M254.4 166.0h0M273.0 186.1h0M277.0 180.6h0M271.4 159.3h0M294.0 174.8h0M292.2 184.1h0M249.4 155.6h0M283.2 135.4h0M292.1 134.7h0M249.9 160.6h0M221.7 165.0h0M294.7 135.1h0M208.3 161.0h0M232.6 174.7h0M223.3 160.2h0M214.2 141.6h0M255.8 155.9h0M237.0 163.2h0M286.0 130.6h0M280.6 182.2h0M286.6 156.6h0M289.4 153.1h0M284.2 175.0h0M215.4 165.5h0M217.2 185.6h0M292.3 166.8h0M243.6 182.8h0M209.8 137.2h0M287.9 146.6h0M236.9 172.6h0M254.4 175.5h0M294.1 132.7h0M228.9 176.3h0M217.4 163.1h0M272.2 136.1h0M302.7 142.4h0M262.2 163.5h0M291.1 141.0h0M300.2 176.3h0M286.1 187.0h0M216.4 151.8h0M228.6 135.2h0M250.2 187.7h0M221.1 159.9h0M222.2 158.8h0M263.1 128.2h0M234.6 136.8h0M276.4 168.9h0M214.4 171.9h0M293.4 134.1h0M252.2 136.2h0M283.9 141.0h0M271.7 177.4h0M226.8 161.1h0M236.8 172.2h0M277.5 161.2h0M231.8 156.2h0M262.7 162.2h0M211.9 174.7h0M239.6 130.9h0M301.1 175.4h0M301.6 160.2h0M299.5 181.7h0M271.8 143.2h0M274.7 137.7h0M224.1 172.8h0M237.3 161.0h0M230.0 149.8h0M216.9 168.4h0M225.8 136.3h0M228.3 163.9h0M213.6 188.5h0M230.0 160.1h0M296.5 184.2h0M239.9 162.9h0M235.2 142.0h0M207.9 170.5h0M245.4 146.4h0M221.5 180.7h0M297.9 182.8h0M258.8 152.2h0M233.3 155.0h0M244.2 164.2h0M288.1 159.3h0M271.2 170.5h0M231.0 149.0h0M229.3 183.4h0M284.0 184.2h0M291.1 170.3h0M230.9 147.7h0M233.4 176.2h0M260.9 134.9h0M226.8 167.9h0M249.8 170.8h0M276.8 162.8h0M291.5 143.2h0M276.3 144.5h0M257.6 141.1h0M299.4 183.3h0M283.0 185.2h0M222.6 143.6h0M263.8 154.1h0M268.4 151.2h0M211.0 173.7h0M217.7 152.8h0M300.6 182.5h0M254.3 165.6h0M274.9 152.5h0M231.3 142.4h0M287.3 166.8h0M224.4 132.5h0M264.8 171.6h0M221.1 128.8h0M272.3 150.2h0M300.1 158.6h0M246.9 187.5h0M264.4 187.1h0M266.6 137.9h0M239.9 171.2h0M231.4 132.8h0M279.6 184.2h0M289.8 185.2h0M242.2 164.9h0M228.4 147.4h0M212.1 149.0h0M302.9 160.0h0M288.5 158.0h0M269.4 184.7h0M279.4 175.7h0M298.0 168.6h0M215.9 187.2h0M233.3 174.4h0M235.2 166.0h0M245.6 153.4h0M252.0 188.0h0M302.5 150.0h0M233.4 173.8h0M225.4 186.8h0M268.3 184.3h0M252.8 141.7h0M223.2 162.9h0M218.7 155.8h0M276.4 131.2h0M220.7 164.9h0M256.3 176.1h0M225.7 156.4h0M285.3 173.0h0M266.4 136.2h0M298.1 188.7h0M289.4 141.7h0M265.8 150.4h0M235.8 187.2h0M287.2 189.0h0M255.7 146.9h0M217.0 172.4h0M274.8 173.7h0M215.2 184.1h0M252.4 171.2h0M287.8 142.3h0M247.6 133.1h0M208.1 185.7h0M237.2 157.4h0M300.7 168.4h0M212.9 170.2h0M293.6 186.3h0M256.1 139.6h0M265.6 148.3h0M278.4 176.2h0M244.7 155.9h0M243.1 140.3h0M238.9 167.7h0M251.0 149.2h0M246.5 147.1h0M237.8 157.2h0M229.4 163.2h0M213.2 176.3h0M282.6 161.0h0M242.2 146.4h0M242.9 183.0h0M291.4 145.0h0M298.6 145.3h0M271.3 149.6h0M280.4 144.9h0M228.1 142.6h0M240.8 156.0h0M208.2 186.3h0M233.4 183.5h0M275.0 130.7h0M257.4 179.1h0M291.5 140.8h0M215.7 166.2h0M288.9 130.2h0M272.2 172.6h0M233.1 132.4h0M243.6 142.2h0M227.7 130.4h0M250.7 185.9h0M300.6 157.5h0M241.5 175.6h0M219.5 139.9h0M285.5 137.7h0M238.8 169.2h0M220.4 144.1h0M250.7 187.8h0M211.2 180.9h0M265.4 172.7h0M271.1 157.4h0M295.1 169.0h0M267.7 176.6h0M291.1 146.4h0M268.5 141.4h0M279.3 185.8h0M260.0 163.2h0M245.2 169.9h0M295.1 133.5h0M265.8 165.3h0M266.2 145.6h0M271.3 141.6h0M263.7 141.1h0M208.1 182.4h0M258.7 149.9h0M292.9 172.4h0M291.9 158.4h0M221.9 167.8h0M262.2 155.2h0M240.3 140.9h0M211.3 150.7h0M275.6 151.4h0M240.5 181.3h0M221.7 156.0h0M250.8 142.5h0M291.3 178.3h0M291.2 183.7h0M272.0 152.7h0M257.0 165.5h0M247.0 163.0h0M278.3 130.7h0M208.3 160.4h0M300.7 149.7h0M295.2 166.4h0M285.5 151.9h0M213.0 147.6h0M215.8 145.5h0M252.6 170.9h0M240.9 151.7h0M225.2 167.4h0M246.0 181.5h0M281.8 155.8h0M233.9 166.9h0M259.4 185.1h0M259.4 163.3h0M225.5 138.7h0M248.7 166.6h0M298.3 136.4h0M249.2 183.7h0M227.4 180.5h0M226.8 175.4h0M224.1 160.8h0M290.8 167.3h0M297.9 145.9h0M254.1 162.1h0M230.0 170.5h0M249.5 174.2h0M227.1 184.0h0M241.0 168.3h0M302.5 140.7h0M296.1 154.5h0M240.3 179.1h0M282.6 151.8h0M283.6 166.4h0M249.4 155.5h0M299.7 183.5h0M227.9 139.1h0M275.7 156.4h0M296.0 171.4h0M240.4 146.9h0M233.2 154.8h0M262.9 164.8h0M237.3 152.4h0M242.0 181.2h0M248.7 185.2h0M243.2 187.3h0M214.9 178.9h0M228.9 130.6h0M208.3 169.6h0M235.7 143.4h0M242.7 167.0h0M286.7 142.7h0M264.2 152.8h0M244.5 153.4h0M243.8 178.6h0M239.7 140.5h0M233.4 179.1h0M251.4 173.1h0M228.9 173.9h0M234.8 130.4h0M210.7 161.3h0M207.9 154.7h0M222.2 165.9h0M255.3 162.1h0M255.7 187.3h0M299.4 163.9h0M296.8 177.7h0M219.4 175.7h0M247.9 174.4h0M279.4 146.7h0M294.3 180.0h0M259.1 160.0h0M226.5 133.5h0M210.0 166.8h0M257.3 129.0h0M219.7 159.6h0M254.7 174.9h0M254.9 179.8h0M243.9 166.9h0M298.8 148.4h0M251.0 131.8h0M265.2 184.8h0M217.4 165.2h0M296.0 161.6h0M227.4 153.1h0M295.0 174.9h0M255.7 167.4h0M232.3 142.8h0M216.8 155.7h0M250.6 144.0h0M212.8 181.5h0M221.6 148.2h0M207.9 176.6h0M295.2 156.8h0M250.3 178.2h0M216.3 134.3h0M254.2 137.3h0M282.8 139.2h0M278.7 132.5h0M238.4 169.7h0M237.9 162.1h0M240.6 182.0h0M298.7 137.1h0M226.4 160.4h0M241.0 183.5h0M217.9 188.6h0M250.8 167.2h0M289.7 131.6h0M241.5 158.7h0M222.0 133.3h0M266.1 152.0h0M276.6 156.1h0M242.9 137.8h0M250.1 177.3h0M234.0 140.7h0M237.9 174.2h0M258.8 187.7h0M268.1 130.3h0M251.7 169.5h0M241.6 167.1h0M297.0 150.1h0M232.9 154.3h0M283.9 152.7h0M256.9 179.3h0M231.0 148.1h0M261.7 152.6h0M212.5 147.9h0M300.1 168.7h0M211.8 160.6h0M234.3 129.8h0M280.5 188.9h0M272.6 140.3h0M277.4 184.5h0M240.4 132.4h0M232.2 187.9h0M285.0 162.3h0M275.5 172.1h0M257.4 179.1h0M301.8 164.3h0M278.5 138.6h0M269.2 148.5h0M234.0 177.1h0M224.4 133.5h0M239.9 140.4h0M285.9 143.3h0M263.6 175.0h0M232.4 166.4h0M219.3 163.3h0M258.7 151.4h0M282.8 132.7h0M274.8 171.9h0M249.1 154.5h0M291.7 147.2h0M219.3 184.4h0M229.5 163.0h0M208.2 133.4h0M288.5 152.4h0M295.0 129.2h0M278.1 133.1h0M231.7 188.4h0M240.6 131.8h0M221.8 159.4h0M254.1 129.7h0M247.4 153.5h0M212.1 135.2h0M214.7 185.4h0M208.6 151.2h0M301.8 141.8h0M266.5 137.7h0M259.2 147.2h0M282.6 152.0h0M218.0 131.3h0M226.3 141.1h0M234.0 170.3h0M233.9 141.3h0M215.0 165.0h0M274.1 173.3h0M279.9 145.6h0M293.4 148.9h0M207.9 183.9h0M212.2 142.8h0M298.9 167.3h0M251.6 132.8h0M256.1 155.8h0M233.6 164.5h0M230.8 175.2h0M281.1 131.7h0M215.9 162.0h0M221.4 158.3h0M282.9 140.8h0M225.4 162.2h0M296.6 148.6h0M256.7 166.0h0M254.1 157.9h0M285.8 171.3h0M290.6 178.7h0M281.1 149.8h0M252.1 174.9h0M296.9 154.5h0M302.1 164.1h0M250.2 186.6h0M284.8 166.8h0M214.0 175.9h0M226.9 159.3h0M235.8 160.5h0M230.3 134.4h0M245.3 159.4h0M282.1 174.4h0M233.0 135.1h0M302.0 173.1h0M232.7 187.2h0M221.3 143.8h0M275.0 148.7h0M259.7 134.5h0M231.2 185.2h0M254.8 171.8h0M232.7 178.4h0M210.2 153.7h0M255.0 139.5h0M228.7 145.4h0M282.1 178.8h0M214.3 139.5h0M296.6 182.0h0M233.6 171.9h0M240.7 165.3h0M295.6 185.4h0M271.7 188.3h0M301.9 176.0h0M209.0 170.3h0M278.4 158.1h0M211.7 178.0h0M259.8 148.1h0M298.7 169.6h0M287.4 133.4h0M212.7 128.4h0M296.7 163.3h0M222.9 165.5h0M208.6 140.5h0M284.6 129.1h0M293.6 173.2h0M301.9 177.2h0M248.9 156.5h0M222.0 147.3h0M211.1 136.3h0M268.5 147.1h0M212.0 131.8h0M218.2 181.1h0M227.2 167.8h0M218.6 173.4h0M266.6 180.7h0M214.9 174.0h0M290.0 139.7h0M256.2 133.0h0M290.6 158.1h0M219.3 128.8h0M232.9 184.3h0M214.6 134.4h0M254.6 153.7h0M287.2 146.3h0M302.1 156.1h0M254.4 165.7h0M281.8 140.6h0" stroke="#66302e" stroke-width="1.2" stroke-linecap="round" stroke-opacity="0.55"/><path d="M216.4 144.4h0M212.0 163.3h0M212.7 155.9h0M232.3 185.1h0M270.8 156.3h0M293.6 164.5h0M301.7 156.7h0M260.9 176.2h0M238.2 143.2h0M261.7 162.8h0M210.1 169.2h0M269.3 180.9h0M218.5 178.8h0M220.8 186.7h0M301.0 130.7h0M272.6 136.8h0M230.7 132.7h0M287.2 177.2h0M272.0 139.8h0M215.0 177.6h0M281.8 157.0h0M226.3 185.1h0M301.0 182.7h0M210.6 136.5h0M300.3 148.5h0M258.9 141.5h0M216.0 183.0h0M298.7 184.1h0M245.4 130.0h0M260.9 141.5h0M241.1 157.1h0M264.4 155.6h0M285.7 152.0h0M244.7 135.6h0M262.7 166.9h0M254.5 143.5h0M240.4 136.6h0M225.1 175.9h0M288.1 167.8h0M261.0 151.8h0M240.7 162.0h0M271.5 176.3h0M292.3 149.0h0M283.3 129.5h0M245.9 135.1h0M227.9 159.8h0M274.1 156.2h0M266.9 177.1h0M238.3 132.3h0M217.9 149.1h0M300.3 187.7h0M240.8 171.4h0M237.1 175.1h0M216.9 133.8h0M301.7 131.4h0M292.8 136.1h0M209.1 139.3h0M208.0 134.0h0M255.5 159.4h0M269.6 144.7h0M254.6 184.6h0M284.6 146.1h0M263.0 163.2h0M229.6 182.1h0M252.8 161.8h0M219.9 177.8h0M255.4 182.7h0M236.1 155.7h0M255.5 129.1h0M209.8 136.6h0M234.9 161.7h0M251.8 160.9h0M215.6 181.4h0M283.5 132.3h0M232.3 170.1h0M237.6 184.2h0M210.8 150.6h0M236.2 187.1h0M232.9 156.3h0M281.0 170.3h0M217.1 144.3h0M287.5 164.8h0M250.8 130.5h0M265.1 171.9h0M228.8 166.2h0M282.8 175.5h0M252.1 140.2h0M286.8 143.9h0M208.9 134.4h0M289.0 141.8h0M264.8 140.1h0M238.9 164.9h0M292.2 169.6h0M226.5 188.4h0M286.2 137.4h0M277.7 147.8h0M229.1 147.5h0M270.0 183.5h0M243.4 165.2h0M209.1 174.3h0M289.1 160.6h0M252.0 183.9h0M231.4 137.3h0M286.9 173.9h0M227.7 173.1h0M239.4 142.8h0M229.6 159.2h0M287.7 188.6h0M262.2 145.1h0M252.2 159.3h0M299.2 153.2h0M296.4 177.6h0M240.4 178.6h0M267.8 134.3h0M227.7 130.4h0M274.0 183.7h0M296.0 179.6h0M294.7 142.0h0M256.2 129.6h0M225.6 158.5h0M280.7 156.4h0M238.2 177.3h0M282.1 156.9h0M259.3 148.1h0M276.4 188.7h0M220.6 160.8h0M246.8 159.6h0M231.9 157.5h0M271.6 148.5h0M246.3 143.5h0M209.3 178.1h0M225.3 185.2h0M293.4 186.7h0M233.0 166.5h0M238.7 164.7h0M299.4 134.0h0M255.3 140.5h0M236.4 131.2h0M228.1 187.5h0M268.2 143.5h0M276.2 137.3h0M237.1 130.1h0M249.6 178.3h0M226.0 165.5h0M227.3 173.1h0M212.2 142.2h0M282.0 170.5h0M262.8 137.3h0M273.9 183.2h0M279.1 135.9h0M289.0 146.4h0M298.0 179.4h0M207.8 143.7h0M253.1 182.7h0M265.7 179.0h0M292.9 152.5h0M250.5 136.3h0M288.4 171.7h0M218.0 131.6h0M238.9 167.2h0M274.6 166.7h0M208.1 156.4h0M213.8 180.3h0M293.1 175.3h0M246.8 175.9h0M243.3 134.5h0M258.8 138.8h0M243.5 139.9h0M301.3 132.2h0M211.9 146.2h0M290.4 172.2h0M230.6 174.1h0M239.6 188.7h0M260.3 150.7h0M292.1 159.7h0M247.7 144.1h0M278.0 150.5h0M270.0 135.0h0M274.9 175.2h0M266.1 187.6h0M214.0 168.8h0M252.5 138.1h0M279.4 149.3h0M289.7 186.4h0M226.9 152.3h0M241.0 168.6h0M256.7 142.0h0M231.8 176.3h0M284.9 177.9h0M256.2 175.1h0M261.9 163.1h0M249.5 184.7h0M273.6 131.6h0M253.5 175.6h0M282.1 163.0h0M251.8 175.8h0M223.6 172.4h0M266.6 173.0h0M264.2 177.2h0M249.6 161.2h0M299.3 166.5h0M268.6 128.6h0M245.0 163.5h0M271.9 148.4h0M295.2 151.6h0M274.6 131.8h0M208.8 173.8h0M218.6 183.4h0M267.0 142.0h0M216.8 184.7h0M250.6 131.0h0M278.9 142.2h0M225.2 151.4h0M294.2 168.2h0M217.1 150.5h0M284.6 167.5h0M268.5 150.5h0M226.7 177.1h0M291.4 156.2h0M216.5 146.8h0M235.9 161.6h0M277.1 141.0h0M292.8 168.7h0M268.1 169.1h0M231.5 179.4h0M291.0 143.1h0M263.2 151.1h0M255.0 144.7h0M231.3 175.6h0M239.4 132.2h0M213.5 159.1h0M249.4 130.1h0M220.9 184.6h0M290.2 139.0h0M262.1 161.0h0M223.2 144.6h0M226.0 137.4h0M289.0 172.3h0M281.2 177.4h0M231.9 174.0h0M275.6 189.4h0M259.2 188.9h0M302.4 132.2h0M259.3 170.7h0M239.5 175.5h0M230.4 146.4h0M265.4 143.6h0M277.5 128.6h0M215.4 169.1h0M277.6 168.1h0M243.1 175.6h0M247.5 178.5h0M249.0 145.6h0M231.7 164.2h0M266.4 180.4h0M269.7 188.2h0M295.5 156.6h0M293.8 129.6h0M287.2 164.7h0M272.3 177.0h0M280.1 149.6h0M215.7 136.4h0M284.4 169.7h0M255.4 160.2h0M255.5 144.7h0M241.8 165.1h0M253.6 163.3h0M278.3 181.7h0M217.9 183.1h0M263.3 182.7h0M239.6 165.5h0M256.9 128.8h0M293.6 159.8h0M270.8 184.9h0M229.7 189.0h0M261.2 170.5h0M240.9 179.6h0M258.2 155.8h0M219.0 188.8h0M226.9 183.5h0M257.0 133.1h0M285.8 144.1h0M249.7 139.0h0M289.3 134.5h0M266.8 157.7h0M272.8 135.3h0M223.7 151.2h0M253.7 142.0h0M279.1 183.2h0M239.2 184.3h0M233.5 163.8h0M232.2 161.6h0M214.3 173.4h0M267.1 173.1h0M227.1 181.6h0M213.3 180.3h0M254.5 137.2h0M238.4 143.7h0M272.1 183.5h0M266.7 132.5h0M228.7 188.4h0M240.0 184.5h0M220.8 137.9h0M232.1 132.6h0M268.2 153.7h0M238.0 161.9h0M228.0 160.2h0M291.8 138.5h0M282.3 135.6h0M302.9 134.7h0M270.3 172.4h0M294.9 177.7h0M221.1 180.7h0M276.9 129.1h0M224.5 132.7h0M262.1 149.8h0M212.1 180.9h0M233.5 141.0h0M242.1 152.2h0M215.8 139.4h0M271.0 144.3h0M288.3 177.5h0M211.9 182.3h0M254.8 145.1h0M294.6 177.0h0M284.1 155.2h0M248.6 187.6h0M252.1 141.6h0M223.5 153.6h0M284.9 183.4h0M284.2 170.9h0M259.7 130.5h0M220.8 167.8h0M290.5 154.5h0M295.0 130.9h0M263.7 151.1h0M224.5 184.7h0M230.8 186.4h0M297.5 133.2h0M242.7 128.5h0M287.5 146.7h0M303.1 139.8h0M214.8 170.0h0M216.5 166.0h0M238.8 141.8h0M294.2 142.8h0M284.1 140.3h0M231.3 136.1h0M260.3 150.8h0M209.3 129.3h0M294.3 153.7h0M293.5 166.8h0M230.0 132.8h0M232.0 174.9h0M286.5 175.4h0M279.0 149.4h0M269.2 133.7h0M227.9 156.2h0M279.7 155.6h0M257.1 136.4h0M280.9 163.2h0M284.5 131.3h0M279.9 137.1h0M220.1 183.4h0M279.5 164.5h0M211.1 156.8h0M252.9 176.6h0M242.8 170.5h0M286.4 142.8h0M289.0 152.5h0M283.9 156.5h0M218.1 155.9h0M214.3 187.1h0M277.3 167.1h0M257.5 187.7h0M209.5 157.5h0M300.7 156.8h0M232.7 142.2h0M302.3 152.9h0M252.5 153.5h0M248.5 183.6h0M296.6 136.3h0M283.1 188.1h0M255.7 155.9h0M247.5 168.3h0M233.0 140.1h0M264.4 180.6h0M224.8 183.5h0M248.4 148.0h0M223.2 172.6h0M270.4 143.6h0M259.2 185.9h0M285.9 155.7h0M207.9 131.9h0M292.5 176.6h0M298.7 169.4h0M283.1 128.8h0M294.8 152.1h0M297.3 175.2h0M290.6 135.1h0M234.1 136.2h0M288.7 159.4h0M281.0 129.3h0M288.7 145.5h0M256.0 131.0h0M209.8 181.6h0M268.4 140.0h0M273.2 186.9h0M261.3 141.8h0M298.5 146.3h0M298.4 174.8h0M257.8 176.3h0M222.1 130.1h0M290.3 152.6h0M212.7 160.6h0M272.6 150.3h0M266.1 130.2h0M253.4 160.6h0M214.6 156.3h0M214.7 165.5h0M232.5 170.9h0M252.0 188.4h0M219.6 168.6h0M255.5 154.8h0M267.5 170.0h0M279.5 165.7h0M248.3 141.5h0M216.9 131.3h0M228.2 185.7h0M301.6 175.2h0M245.1 181.3h0M218.8 147.6h0M271.6 157.5h0M250.5 148.2h0M221.5 186.2h0M239.8 137.0h0M277.6 176.7h0M208.7 135.2h0M295.8 179.0h0M259.5 133.2h0M223.0 161.7h0M256.4 129.8h0M219.1 157.4h0M235.5 167.7h0M264.0 173.5h0M298.5 141.0h0M267.3 176.0h0M225.6 158.9h0M255.4 128.8h0M273.1 136.3h0M284.4 162.9h0M265.2 151.6h0M253.1 144.1h0M237.7 166.0h0M283.5 180.6h0M214.1 135.2h0M239.0 186.4h0M263.8 184.2h0M278.8 135.3h0M257.3 165.1h0M275.6 157.8h0M281.4 186.7h0M245.6 174.6h0M259.1 179.7h0M261.3 143.6h0M285.0 172.8h0M264.6 177.7h0M256.1 182.4h0M277.9 183.7h0M261.9 141.7h0M291.8 147.5h0M257.9 132.8h0M272.6 186.9h0M275.0 172.4h0M230.9 153.8h0M216.9 135.0h0M229.8 185.8h0M236.2 158.3h0M253.7 151.7h0M248.9 148.8h0M259.8 155.6h0M300.1 178.2h0M299.7 144.6h0M217.3 132.1h0M273.2 171.2h0M255.7 141.4h0M239.5 142.5h0M234.6 183.4h0M238.9 165.1h0M266.4 161.2h0M243.1 188.4h0M269.3 157.8h0M265.4 158.5h0M260.5 172.5h0M292.3 142.5h0M260.3 158.9h0M258.3 151.8h0M260.6 158.9h0M272.2 168.7h0M220.1 155.9h0M236.5 156.0h0M271.9 182.2h0M296.0 140.7h0M282.6 161.7h0M252.3 175.0h0M235.6 132.3h0M263.8 132.3h0M247.2 144.6h0M239.2 178.2h0M286.0 149.8h0M298.4 175.9h0M213.6 136.9h0M209.3 170.0h0M277.0 140.4h0M215.4 173.2h0M238.2 147.4h0M210.8 174.8h0M281.9 135.6h0M209.5 143.7h0M214.4 161.9h0M244.0 173.3h0M262.5 186.2h0M265.8 154.1h0M232.0 176.2h0M261.5 187.9h0M281.7 184.3h0M287.7 149.9h0M294.2 147.2h0M265.4 137.4h0M234.4 142.6h0M254.6 142.9h0M298.8 145.7h0M215.4 131.6h0M225.5 171.0h0M271.4 140.4h0M283.2 180.8h0M284.6 156.3h0M299.6 172.6h0M219.5 171.4h0M295.3 175.5h0M208.7 148.0h0M287.4 189.3h0M223.9 153.8h0M281.2 137.3h0M291.0 178.2h0M297.4 134.5h0M293.8 166.1h0M302.7 173.8h0M250.7 184.4h0M287.1 188.3h0M278.5 172.3h0M235.2 180.0h0M236.8 159.2h0M288.5 160.0h0M281.9 138.2h0M270.0 183.5h0M235.9 136.2h0M221.7 140.5h0M217.4 130.6h0M301.9 161.0h0M265.9 166.5h0M270.8 183.8h0M278.2 178.8h0M275.6 149.8h0M243.8 148.0h0M301.3 170.1h0M279.1 164.5h0M241.0 131.5h0M263.2 174.8h0M301.7 154.8h0M234.1 148.3h0M298.1 131.5h0M230.2 161.1h0M226.1 183.2h0M273.3 149.3h0M223.8 154.3h0M246.4 173.9h0M278.8 169.9h0M276.1 157.9h0M254.4 137.9h0M237.3 184.9h0M268.2 167.2h0M271.1 177.0h0M236.1 148.3h0M222.0 130.8h0M224.2 174.4h0M271.5 177.5h0M232.4 147.0h0M252.7 159.1h0M225.2 151.9h0M223.8 133.2h0M210.5 142.1h0M261.8 186.2h0M274.4 138.8h0M289.3 133.7h0M273.7 171.1h0M229.0 142.4h0M253.6 152.7h0M226.1 174.6h0M254.1 171.2h0M302.5 137.7h0M228.1 171.7h0M221.4 149.1h0M298.9 185.8h0M301.8 184.3h0M247.9 147.2h0M290.4 159.6h0M223.0 158.4h0M255.5 133.2h0M244.6 153.1h0M226.5 158.4h0M260.1 158.7h0M215.9 153.9h0M241.3 145.8h0M267.2 180.4h0M256.1 162.5h0M227.8 171.5h0M224.8 188.4h0M272.4 178.0h0M254.1 164.7h0M216.2 160.8h0M225.3 157.6h0M209.0 176.0h0M249.7 176.7h0M258.5 181.0h0M261.6 165.9h0M232.4 174.6h0M295.1 141.0h0M232.6 175.4h0M242.5 167.6h0M274.8 173.1h0M216.7 148.0h0M303.4 162.3h0M267.2 159.0h0M285.5 149.6h0M263.1 130.7h0M284.0 151.2h0M225.1 184.7h0M261.3 131.9h0M219.0 179.8h0M222.3 130.4h0M280.4 146.6h0M238.0 172.2h0M210.7 149.1h0M224.9 169.5h0M295.1 139.9h0M286.3 160.5h0M250.7 174.9h0M298.2 175.7h0M244.2 137.1h0M222.5 171.9h0M243.9 152.5h0M256.2 174.2h0M216.0 162.9h0M256.7 162.5h0M217.4 152.7h0M259.5 177.0h0M292.5 133.3h0M282.8 128.4h0M255.5 171.3h0M267.2 144.5h0M273.9 152.2h0M251.8 161.3h0M231.4 138.6h0M262.2 142.0h0M276.6 171.1h0M265.6 167.8h0M269.4 131.3h0M281.0 172.0h0M279.5 135.8h0M269.2 143.2h0M263.0 165.0h0M262.8 135.0h0M264.3 174.0h0M208.6 129.6h0M262.6 182.2h0M299.5 160.5h0M214.6 171.6h0M216.0 181.7h0M243.7 132.0h0M221.3 171.1h0M228.8 183.8h0M286.5 170.9h0M273.0 143.8h0M211.2 141.1h0M239.3 150.7h0M285.5 159.0h0M251.8 161.8h0M290.3 185.9h0M251.0 172.5h0M210.3 131.8h0M233.4 158.5h0M212.2 159.1h0M214.7 134.9h0M214.9 177.1h0M280.3 151.7h0M241.5 154.7h0M246.9 178.9h0M296.5 154.2h0M256.0 169.6h0" stroke="#d4aeac" stroke-width="1.1" stroke-linecap="round" stroke-opacity="0.5"/><path d="M223.9 175.0h0M292.9 160.4h0M274.0 155.3h0M273.0 172.9h0M257.4 140.9h0M238.0 136.5h0M285.8 161.7h0M275.0 161.1h0M229.0 138.5h0M291.2 180.5h0M281.0 134.7h0M255.1 163.6h0M274.8 168.8h0M276.4 176.0h0M262.0 147.6h0M267.9 170.2h0M254.2 167.8h0M217.6 161.8h0M242.9 184.5h0M255.7 158.7h0M276.0 152.8h0M269.1 168.8h0M285.6 169.0h0M254.4 160.3h0M294.3 129.7h0M217.2 167.9h0M280.0 169.6h0M222.7 174.3h0M263.3 153.3h0M291.3 146.6h0M216.0 147.1h0M231.6 151.2h0M293.7 180.8h0M230.1 169.0h0M216.7 146.6h0M252.6 164.1h0M298.4 165.3h0M224.6 167.8h0M276.5 153.3h0M274.6 133.6h0M280.7 178.8h0M263.0 136.6h0M259.0 169.9h0M223.0 176.1h0M233.8 172.0h0M262.0 174.2h0M234.2 150.8h0M266.2 148.4h0M271.5 137.3h0M252.1 150.7h0M250.1 184.6h0M263.0 188.0h0M265.6 168.9h0M235.8 148.9h0M254.9 158.5h0M226.8 168.5h0M243.1 189.1h0M271.5 173.5h0M219.7 181.9h0M280.1 171.7h0M243.9 150.5h0M292.1 166.9h0M258.8 152.7h0M279.0 161.7h0M273.3 177.3h0M275.4 153.2h0M248.1 137.4h0M284.2 186.5h0M279.7 167.9h0M234.3 156.7h0M294.9 138.0h0M211.1 147.3h0M257.9 135.7h0M273.3 187.4h0M251.0 140.4h0M257.0 169.7h0M270.3 139.8h0M233.0 151.3h0M242.2 151.1h0M241.8 175.7h0M293.6 171.4h0M279.8 173.2h0M273.8 158.2h0M288.5 173.5h0M273.0 167.8h0M278.0 155.8h0M274.6 132.3h0M256.3 129.6h0M285.8 150.7h0M273.7 156.4h0M271.9 145.7h0M263.5 177.9h0M235.2 153.8h0M274.3 155.0h0M286.8 130.1h0M265.8 177.1h0M276.2 181.0h0M277.1 161.9h0M256.1 178.5h0M233.7 130.4h0M282.9 162.6h0M292.3 166.8h0M286.5 158.4h0M284.1 156.3h0M275.4 156.1h0M248.5 142.4h0M285.9 179.8h0M268.5 165.1h0M275.2 174.7h0M232.8 168.3h0M249.2 172.4h0M276.1 130.0h0M282.5 136.3h0M274.2 167.2h0M235.6 157.5h0M256.8 156.5h0M269.3 147.5h0M280.9 140.9h0M277.0 147.8h0M259.6 128.7h0M269.8 185.1h0M259.5 172.8h0M259.0 154.0h0M274.9 169.8h0M214.8 162.0h0M271.5 154.0h0M267.5 148.0h0M274.8 164.4h0M269.9 180.3h0M281.1 177.5h0M247.4 186.2h0M213.7 185.8h0M295.5 180.1h0M280.1 162.7h0M292.5 176.4h0M291.1 129.5h0M284.3 181.7h0M207.8 158.0h0M261.7 172.2h0M209.3 145.5h0M235.3 161.1h0M286.5 150.2h0M266.1 142.2h0M296.7 153.1h0M228.7 172.4h0M284.5 164.9h0M271.1 177.6h0M266.1 164.7h0M281.3 164.4h0M260.8 164.6h0M285.3 168.4h0M230.7 161.6h0M290.5 152.6h0M270.8 161.0h0M237.3 162.4h0M286.7 174.6h0M262.6 182.8h0M227.4 171.8h0M282.3 185.8h0M288.2 157.6h0" stroke="#8878a8" stroke-width="1.3" stroke-linecap="round" stroke-opacity="0.35"/></g></g><rect x="207.8" y="128.2" width="95.6" height="61.2" fill="none" stroke="#666" stroke-width="0.8"/><rect x="306.0" y="128.2" width="95.4" height="61.2" filter="url(#t2)"/><g clip-path="url(#ci5)"><g filter="url(#bl2)"><path d="M308.7 128.0L309.3 127.0M399.9 129.1L402.1 130.9M307.3 142.9L308.7 146.1M308.7 146.1L308.3 146.6M308.3 146.6L306.4 146.9M307.0 142.2L307.3 142.9M395.2 165.1L395.7 166.5M388.7 199.7L395.4 190.0M386.6 195.6L390.9 184.5M397.8 187.5L400.3 187.1M397.8 187.5L393.3 179.6M372.3 120.0L365.0 128.0M381.6 183.2L378.2 186.5M378.2 186.5L374.3 184.5M375.0 183.5L374.3 184.5M380.7 191.2L374.6 190.4M390.6 181.5L385.5 182.5M384.3 183.8L385.5 182.5M381.6 183.2L382.1 183.1M384.3 183.8L382.1 183.1M307.0 142.2L307.8 138.9M304.9 132.2L309.1 132.4M306.9 137.3L309.1 132.4M308.7 128.0L309.6 132.0M403.1 152.0L401.2 152.8M403.3 176.5L401.0 175.5M398.8 177.3L401.0 175.5M398.8 177.3L400.9 185.8M399.3 169.3L401.0 175.5M393.4 179.5L390.5 174.0M393.4 179.5L398.8 177.3M372.4 186.9L362.0 191.0M368.0 180.2L367.1 180.7M367.1 180.7L362.2 190.2M362.0 191.0L361.3 191.8M368.5 178.7L373.7 175.9M371.9 172.6L366.0 174.9M371.9 172.6L373.2 173.6M373.7 175.9L373.2 173.6M387.1 173.7L385.0 178.8M307.8 138.9L313.0 138.5M315.2 133.6L313.0 138.5M315.2 133.6L316.4 133.2M295.0 174.6L304.1 176.9M305.7 184.4L303.4 181.0M355.7 165.7L351.8 168.1M355.7 165.7L351.6 161.0M347.6 164.8L347.3 165.4M351.8 168.1L347.3 165.4M312.2 146.2L312.4 151.9M312.2 146.2L314.7 145.3M314.7 145.3L318.0 150.3M312.4 151.9L313.4 153.0M308.3 153.2L309.0 153.2M309.0 153.2L312.4 151.9M313.0 138.5L314.9 144.8M313.8 156.6L313.4 153.0M320.1 152.0L318.0 150.3M396.5 155.7L399.0 153.5M398.3 160.8L396.7 157.2M396.7 157.2L396.5 155.7M397.8 150.6L397.1 151.9M397.8 150.6L398.3 150.3M350.7 150.0L355.7 145.4M352.3 158.6L350.5 158.5M352.3 158.6L352.6 158.3M352.6 158.3L353.0 157.4M353.0 157.4L352.1 152.0M345.5 153.7L351.1 151.4M351.6 161.0L352.3 158.6M357.2 145.7L355.7 145.4M357.2 145.7L358.3 146.6M350.7 150.0L351.1 151.4M358.5 149.5L353.6 151.6M353.6 151.6L352.1 152.0M365.8 180.4L361.7 181.4M365.8 180.4L361.6 177.5M361.1 178.1L361.6 177.5M362.2 190.2L361.7 181.4M355.4 182.7L357.8 188.5M355.4 182.7L361.1 180.8M357.8 188.5L361.3 191.8M389.0 152.3L388.8 152.2M389.0 152.3L390.7 151.2M388.8 152.2L385.5 146.4M391.5 146.8L385.5 146.4M391.5 146.8L391.8 147.2M391.8 147.2L390.7 151.2M404.4 147.5L402.0 146.2M402.0 146.2L400.4 147.4M348.8 136.4L352.0 132.6M348.8 136.4L352.5 141.7M352.0 132.6L357.3 139.7M352.5 141.7L353.4 142.2M353.4 142.2L356.1 141.5M356.1 141.5L357.3 139.7M354.1 144.7L353.4 142.2M349.5 147.1L349.7 147.4M349.5 147.1L352.5 141.7M357.2 145.7L356.1 141.5M372.0 124.0L369.6 127.2M369.6 127.2L371.9 129.7M368.0 180.2L368.5 178.7M366.0 174.9L365.8 174.7M361.6 177.5L361.6 177.5M361.6 177.5L365.8 174.7M368.3 168.6L371.9 172.6M368.3 168.6L365.6 174.0M365.6 174.0L365.8 174.7M376.0 177.3L378.1 177.4M380.0 176.3L383.6 171.1M378.3 172.1L382.3 170.5M382.3 170.5L383.3 170.6M383.6 171.1L383.6 171.0M375.0 183.5L376.0 177.3M382.1 183.1L378.1 177.4M375.3 170.4L378.3 172.1M375.3 170.4L373.2 173.6M385.0 178.8L380.0 176.3M375.9 168.3L375.3 170.4M394.3 164.7L383.6 171.0M329.1 120.7L325.5 127.3M331.2 125.7L325.5 127.3M339.7 142.1L339.4 136.6M339.7 142.1L345.2 138.5M346.7 145.1L347.6 137.9M347.6 137.9L348.8 136.4M324.1 159.8L324.3 159.2M321.5 161.0L314.9 160.4M329.0 158.5L326.4 155.3M330.8 132.1L328.3 133.9M327.8 136.3L330.4 137.8M330.4 137.8L331.3 136.7M323.2 134.8L327.4 132.5M322.8 134.5L325.5 128.5M327.4 132.5L326.7 129.4M325.5 128.5L326.5 129.0M326.7 129.4L326.5 129.0M324.6 136.6L323.2 134.8M324.6 136.6L327.8 136.3M319.9 134.2L316.5 133.2M316.4 133.2L316.5 133.2M325.1 127.9L325.5 128.5M331.3 125.9L329.4 128.4M329.4 128.4L326.5 129.0M330.8 132.1L333.1 130.9M330.3 171.7L326.2 169.5M329.9 167.0L326.2 169.5M330.2 165.1L329.9 167.0M330.2 165.1L327.7 164.3M325.9 169.5L325.8 166.6M323.4 160.2L325.5 166.4M327.7 164.3L327.1 162.0M327.1 162.0L324.1 159.8M314.9 160.4L314.1 161.3M308.9 161.2L314.1 161.3M318.0 143.4L319.0 141.2M319.0 141.2L321.0 140.0M321.0 140.0L323.9 139.3M316.5 133.2L319.0 141.2M319.9 134.2L321.0 140.0M324.6 136.6L323.9 139.3M325.1 150.8L324.5 151.1M325.1 150.8L328.0 143.6M328.0 143.6L327.1 143.2M321.0 144.5L321.2 144.6M324.4 140.1L327.1 143.2M324.0 151.8L324.5 151.1M331.7 142.5L328.0 143.6M334.9 151.5L325.1 150.8M334.9 151.5L336.0 148.9M336.0 148.9L336.6 145.8M331.7 142.5L330.4 137.8M351.6 181.7L347.9 188.6M348.2 181.0L345.5 182.9M345.5 182.9L343.3 187.7M347.6 188.8L347.9 188.6M347.6 188.8L343.3 187.8M343.3 187.8L343.3 187.7M357.8 188.5L347.9 188.6M389.0 154.0L388.0 157.8M389.0 154.0L393.0 155.4M393.3 156.3L389.4 159.4M394.7 153.0L393.7 152.1M382.5 147.1L384.7 151.7M382.5 147.1L385.3 146.3M384.7 151.7L387.5 152.1M375.5 167.1L377.6 164.9M381.1 165.0L382.8 162.3M381.1 165.0L383.3 168.9M375.5 167.1L375.9 168.3M391.3 163.0L387.7 164.2M384.7 158.0L384.5 154.2M382.6 158.4L381.2 157.7M384.5 154.2L383.3 152.7M383.3 152.7L382.9 152.8M388.0 157.8L384.7 158.0M379.2 157.4L381.2 157.7M382.5 147.1L379.7 147.0M379.6 147.6L375.7 153.3M380.7 151.2L378.4 156.7M375.7 153.3L378.4 156.7M379.2 157.4L378.6 157.2M378.4 156.7L378.6 157.2M396.1 142.5L401.1 142.3M396.1 142.5L394.3 141.1M394.1 139.0L396.1 135.4M403.4 137.8L401.1 142.3M400.1 147.5L398.6 147.2M398.6 147.2L395.6 146.2M395.6 146.2L396.1 142.5M394.8 132.1L392.1 130.7M392.1 130.7L389.4 122.5M371.9 129.7L372.3 131.9M372.3 131.9L370.3 131.9M358.3 146.6L361.0 143.7M358.7 139.9L360.9 140.9M358.7 139.9L357.3 139.7M361.0 143.7L360.9 140.9M352.3 131.8L354.8 131.2M358.7 139.9L359.4 137.1M360.3 174.3L356.4 174.4M356.4 174.4L355.5 175.3M360.8 173.2L363.4 172.9M363.4 172.9L365.6 174.0M358.3 178.7L358.5 176.4M335.1 153.2L334.3 157.6M335.1 153.2L344.3 155.7M336.5 162.5L336.8 162.7M344.1 157.1L344.3 155.7M326.4 155.3L334.3 157.6M330.2 165.1L336.5 162.5M336.3 166.6L331.7 169.1M345.5 165.8L347.3 165.4M345.5 165.8L340.7 162.5M345.2 154.3L344.3 155.7M339.7 142.1L337.6 145.4M345.2 138.5L347.6 137.9M337.6 145.4L339.7 145.7M345.2 145.6L339.7 145.7M336.6 124.3L332.7 126.6M333.8 130.9L334.9 131.3M333.1 130.9L333.8 130.9M348.8 136.4L342.7 133.7M342.7 133.7L342.6 127.9M338.5 128.5L339.0 128.6M339.2 136.2L341.5 133.9M341.5 133.9L340.1 132.2M334.0 143.5L336.8 135.5M337.6 145.4L336.6 145.8M335.5 134.0L336.3 134.8M339.0 128.6L340.1 132.2M342.7 133.7L341.5 133.9M334.8 188.9L339.1 191.6M329.0 190.7L334.5 189.7M328.1 188.1L329.0 190.7M332.2 185.3L334.9 186.9M334.9 186.9L334.8 188.9M336.1 186.5L334.9 186.9M336.1 186.5L342.3 187.1M342.3 187.1L343.3 187.7M336.1 186.5L337.4 180.7M345.5 182.9L341.7 177.6M339.6 180.5L341.7 177.6M341.7 177.6L341.8 177.4M328.1 188.1L326.6 187.6M322.2 170.2L324.7 170.3M321.6 176.5L325.1 175.3M325.4 174.9L325.1 175.3M325.9 169.5L324.7 170.3M322.2 164.9L320.3 168.4M320.3 168.4L322.2 170.2M330.3 171.7L331.9 175.5M305.7 184.4L306.4 184.4M315.4 167.4L315.0 166.0M313.6 171.6L308.8 172.7M307.1 171.1L306.3 168.6M314.1 161.3L315.0 166.0M306.3 168.5L306.3 168.6M304.1 176.9L307.7 176.4M375.9 142.7L379.7 147.0M374.9 153.1L371.6 150.7M364.5 153.8L361.5 150.6M361.5 150.6L364.7 149.3M366.6 152.7L364.7 149.3M364.7 149.3L367.2 146.2M372.4 156.2L372.7 155.9M372.4 156.2L375.1 158.9M375.1 158.9L376.0 159.2M376.0 159.2L378.5 157.2M369.7 156.5L369.4 153.7M369.7 156.5L372.4 156.2M374.9 153.1L372.7 155.9M369.7 156.5L369.2 157.7M369.6 158.9L369.2 157.7M375.5 160.7L376.0 159.2M394.2 141.1L391.5 146.2M394.2 141.1L391.0 141.8M391.5 146.2L390.0 144.1M385.3 146.3L386.5 143.2M390.0 144.1L386.5 143.2M393.1 147.1L395.1 150.2M393.1 147.1L394.9 146.7M394.9 146.7L396.0 149.4M395.1 150.2L396.0 149.6M394.2 141.1L394.3 141.1M395.6 146.2L394.9 146.7M398.6 147.2L396.0 149.4M397.8 150.6L396.0 149.6M372.3 131.9L376.2 133.5M370.3 131.9L369.4 132.9M375.7 136.1L376.2 133.5M365.0 128.0L367.1 129.1M367.4 129.5L365.2 134.8M359.1 129.7L362.7 134.3M365.2 134.8L362.7 134.3M359.4 137.1L362.2 136.0M360.9 140.9L362.1 139.9M362.2 136.0L362.1 139.9M355.2 175.4L355.9 179.9M355.9 179.9L355.1 182.3M351.1 176.2L351.7 181.7M351.1 176.2L352.4 174.4M357.1 171.3L352.0 170.5M351.6 171.9L352.0 170.5M351.6 171.9L352.4 174.4M355.5 175.3L355.2 175.4M358.3 178.7L355.9 179.9M355.4 182.7L355.1 182.3M351.6 181.7L351.7 181.7M346.5 176.5L346.2 176.8M346.9 172.7L351.6 171.9M344.8 149.8L342.5 149.0M342.5 149.0L344.4 152.7M345.0 153.1L344.4 152.7M339.7 145.7L342.5 149.0M345.5 153.7L345.0 153.1M337.2 170.0L344.4 170.0M336.7 173.3L340.8 175.6M340.8 175.6L344.4 170.0M344.4 170.0L344.4 170.0M336.3 166.6L337.2 170.0M345.5 165.8L344.4 170.0M331.9 175.5L332.3 175.9M332.3 175.9L336.7 173.3M341.8 177.4L340.8 175.6M332.1 178.8L332.3 175.9M331.6 181.6L332.0 179.0M331.6 181.6L326.1 183.8M332.0 179.0L326.2 179.7M326.1 183.8L324.5 181.9M324.3 181.2L324.5 181.9M332.1 178.8L332.0 179.0M326.6 187.6L326.1 183.8M325.1 175.3L326.2 179.7M323.6 180.9L321.6 176.5M320.1 188.5L324.5 181.9M322.6 181.2L317.6 184.3M308.6 181.5L308.9 179.3M308.9 179.3L316.5 177.8M316.5 183.3L315.3 183.6M316.5 183.3L316.5 178.0M316.5 178.0L316.5 177.8M309.7 189.6L315.3 183.6M317.6 184.3L316.5 183.3M370.8 161.9L369.2 161.6M365.7 165.2L368.2 167.9M373.7 161.9L370.8 161.9M368.3 168.6L368.2 167.9M359.0 169.7L360.0 165.5M363.0 165.2L360.0 165.5M365.7 165.2L364.0 165.0M363.0 165.2L364.0 165.0M353.0 157.4L358.5 157.6M359.2 164.3L358.5 157.6M359.5 165.3L360.0 165.5M353.6 151.6L359.4 156.7M360.5 156.0L359.4 156.7M359.4 156.7L358.5 157.6M367.4 157.4L363.7 160.1M362.5 156.8L363.7 160.1M369.2 157.7L367.4 157.4M364.0 165.0L363.7 160.1M369.4 153.7L367.4 153.3M367.4 153.3L365.0 156.0M364.5 153.8L364.3 156.0M360.5 156.0L362.5 156.8M366.6 152.7L367.4 153.3M380.4 125.1L376.1 126.8M376.1 126.8L372.8 122.3M376.8 133.0L376.1 126.8M380.8 129.3L378.3 132.6M385.3 127.7L384.4 133.8M384.4 133.8L383.2 133.9M389.4 122.5L385.3 127.7M367.2 146.2L368.8 145.6M362.1 139.9L362.9 139.9M362.9 139.9L368.8 145.6M370.9 145.5L369.7 145.4M369.7 145.4L368.8 145.6M367.1 135.2L368.8 136.3M366.3 135.4L366.3 138.8M368.8 136.3L369.5 137.9M369.5 137.9L367.1 139.5M369.4 132.9L367.1 135.2M365.2 134.8L366.3 135.4M375.7 136.1L375.6 139.7M386.3 141.8L386.4 141.5M386.3 141.8L378.2 141.7M386.4 141.5L383.4 139.0M378.2 141.7L382.2 138.9M386.5 143.2L386.3 141.8M383.2 133.9L382.2 138.9M387.8 140.1L387.4 140.2M387.8 140.1L389.9 137.9M387.4 140.2L385.5 136.9M389.9 137.9L389.0 133.6M389.0 133.6L385.1 134.2M391.0 141.8L387.8 140.1M394.1 139.0L389.9 137.9M383.4 139.0L385.5 136.9M392.1 130.7L389.0 133.6M384.4 133.8L385.1 134.2" stroke="#ead4d6" stroke-width="0.65" stroke-opacity="0.7" fill="none"/><path d="M316.1 189.2h0M393.3 153.0h0M340.6 136.2h0M370.6 170.9h0M346.8 166.2h0M382.2 132.8h0M329.8 175.5h0M391.2 181.6h0M360.9 173.0h0M331.8 174.4h0M329.9 131.9h0M363.9 180.5h0M332.0 177.2h0M309.0 172.5h0M374.6 187.5h0M311.5 147.4h0M310.7 162.0h0M314.8 161.7h0M308.4 168.6h0M315.9 131.2h0M358.8 156.5h0M316.2 153.6h0M307.6 184.0h0M394.5 185.2h0M329.8 163.1h0M325.4 128.7h0M356.9 183.5h0M353.3 142.5h0M389.8 147.7h0M370.5 168.0h0M365.2 161.8h0M346.5 188.3h0M330.0 153.3h0M363.0 169.5h0M320.2 178.6h0M398.7 189.0h0M353.7 149.3h0M381.5 173.0h0M353.2 155.6h0M311.1 184.4h0M370.3 135.9h0M396.7 159.3h0M344.1 128.4h0M348.3 161.0h0M324.2 150.6h0M374.9 136.6h0M344.4 135.0h0M389.4 170.6h0M349.8 186.2h0M348.7 176.3h0M377.3 142.4h0M330.5 180.5h0M345.0 168.2h0M360.1 166.7h0M330.3 132.5h0M330.2 140.5h0M379.7 177.3h0M327.2 144.7h0M397.0 153.5h0M377.3 135.5h0M340.5 159.6h0M335.3 175.8h0M392.2 167.3h0M385.7 171.5h0M378.2 163.8h0M340.0 187.0h0M373.3 176.1h0M369.2 189.0h0M337.6 149.5h0M316.4 135.8h0M329.2 157.0h0M345.6 152.2h0M345.3 184.6h0M376.0 189.0h0M330.5 155.8h0M344.6 154.4h0M368.2 171.6h0M365.3 157.8h0M349.7 143.8h0M344.0 156.2h0M380.1 157.8h0M343.1 135.1h0M344.0 149.6h0M355.0 183.5h0M364.1 171.3h0M353.5 156.7h0M386.5 149.7h0M381.4 161.5h0M360.3 137.8h0M309.2 185.6h0M394.5 167.1h0M317.8 162.0h0M349.6 164.5h0M370.2 151.2h0M317.4 150.9h0M387.1 163.9h0M379.8 176.5h0M315.8 172.9h0M340.4 154.9h0M316.5 164.6h0M389.2 131.6h0M349.7 134.0h0M350.4 183.6h0M335.4 158.3h0M394.3 153.9h0M347.1 167.7h0M343.5 159.4h0M313.6 188.1h0M345.9 138.6h0M395.1 145.3h0M369.4 142.0h0M372.1 149.4h0M389.7 162.8h0M311.5 148.6h0M320.6 165.0h0M330.7 185.1h0M358.5 168.9h0M350.9 135.2h0M397.6 149.5h0M352.6 152.4h0M366.1 174.0h0M375.2 157.2h0M369.1 186.2h0M306.7 171.8h0M307.5 134.0h0M323.8 144.4h0M309.0 152.8h0M325.1 185.0h0M349.7 138.5h0M386.3 154.5h0M339.1 145.7h0M368.8 144.8h0M322.2 164.7h0M379.4 132.7h0M399.4 186.1h0M375.1 131.5h0M377.2 165.5h0M364.7 177.6h0M380.8 160.9h0M393.1 137.5h0M337.5 133.3h0M384.0 142.8h0M384.5 147.7h0M378.4 189.0h0M355.9 139.1h0M384.2 178.8h0M363.0 188.7h0M308.4 136.5h0M340.6 131.8h0M341.1 183.5h0M343.8 186.2h0M313.2 159.0h0M374.3 179.8h0M340.8 161.0h0M323.9 154.4h0M323.1 172.8h0M319.0 176.9h0M381.7 138.4h0M351.0 129.1h0M354.6 134.2h0M356.1 178.5h0M327.2 150.3h0M365.1 165.8h0M380.4 161.0h0M325.7 161.2h0M314.2 155.5h0M331.8 143.2h0M310.5 132.2h0M351.4 181.0h0M338.7 185.6h0M335.8 144.9h0M343.1 146.7h0M369.3 155.5h0M380.6 135.1h0M383.2 159.0h0M348.4 138.2h0M383.9 147.8h0M316.0 128.9h0M335.8 155.7h0M345.4 170.9h0M322.3 168.0h0M386.2 168.0h0M393.5 132.2h0M370.7 188.0h0M332.7 175.4h0M318.8 139.1h0M337.4 170.8h0M318.5 130.7h0M366.8 180.8h0M343.3 151.0h0M328.8 152.0h0M354.7 171.8h0M326.4 132.1h0M370.0 143.3h0M306.7 170.5h0M309.7 173.6h0M395.2 162.7h0M333.8 158.6h0M375.7 186.8h0M318.1 136.4h0M315.2 170.0h0M368.3 153.7h0M371.0 176.5h0M333.7 171.9h0M347.1 182.6h0M381.8 160.7h0M386.2 157.3h0M380.9 183.0h0M340.4 175.3h0M371.9 132.7h0M398.0 142.9h0M337.2 183.3h0M310.3 153.8h0M314.9 145.9h0M313.8 171.6h0M321.4 155.0h0M384.3 128.4h0M385.4 143.5h0M385.3 146.7h0M386.5 134.1h0M391.2 132.1h0M311.7 159.6h0M317.5 133.5h0M316.2 133.5h0M331.0 178.8h0M331.9 188.1h0M387.5 182.2h0M341.1 188.3h0M317.8 188.8h0M344.4 143.5h0M360.3 168.6h0M342.0 174.1h0M383.7 181.3h0M324.6 166.1h0M316.5 145.5h0M345.7 172.1h0M387.4 130.0h0M372.6 159.3h0M393.7 182.1h0M325.0 130.0h0M386.8 157.7h0M358.8 175.5h0M400.5 152.4h0M381.4 129.2h0M357.3 137.8h0M319.2 188.0h0M357.3 163.8h0M333.7 167.5h0M331.2 172.0h0M313.7 171.9h0M315.5 160.9h0M400.3 141.2h0M377.9 150.4h0M385.3 184.3h0M328.1 144.2h0M354.6 177.2h0M313.1 141.2h0M328.4 146.8h0M332.6 142.7h0M321.4 162.3h0M379.3 132.0h0M378.3 129.6h0M398.1 148.3h0M342.8 187.3h0M344.2 151.1h0M379.3 136.5h0M318.2 162.2h0M331.8 163.2h0M338.5 153.3h0M370.1 161.0h0M378.3 141.9h0M389.2 177.0h0M381.0 157.8h0M344.1 138.0h0M344.9 156.3h0M328.5 155.0h0M318.6 130.6h0M369.6 188.5h0M392.7 153.9h0M356.6 153.0h0M348.5 140.5h0M352.9 156.5h0M334.0 159.7h0M362.2 172.9h0M379.2 183.4h0M307.2 185.7h0M339.6 140.6h0M366.9 173.5h0M329.6 154.5h0M364.1 188.5h0M330.6 171.3h0M364.3 148.0h0M364.3 154.6h0M317.0 156.1h0M393.7 184.1h0M353.9 138.5h0M321.7 169.5h0M364.9 128.7h0M325.6 149.8h0M331.4 166.1h0M397.7 172.2h0M327.1 184.8h0M368.0 158.4h0M380.5 163.6h0M350.9 136.9h0M394.1 176.9h0M381.4 153.6h0M309.6 136.8h0M357.8 159.7h0M365.5 144.0h0M314.6 155.7h0M376.3 173.9h0M391.9 142.9h0M319.6 172.2h0M320.6 152.7h0M362.8 186.1h0M352.0 148.3h0M362.7 159.2h0M364.9 138.3h0M326.4 163.5h0M351.5 147.1h0M342.8 160.3h0M355.5 157.6h0M382.7 140.2h0M343.1 144.5h0M306.2 145.6h0M389.4 158.9h0M313.4 134.5h0M371.8 157.9h0M330.7 160.2h0M388.0 135.1h0M365.7 149.1h0M325.3 138.1h0M328.5 182.5h0M392.7 167.9h0M347.6 178.7h0M396.9 188.3h0M351.3 149.9h0M319.1 174.1h0M308.3 166.9h0M398.6 157.0h0M346.8 139.2h0M346.5 189.2h0M399.6 160.6h0M376.2 167.4h0M326.0 156.3h0M313.5 145.7h0M398.4 164.7h0M374.8 142.8h0M380.3 184.6h0M394.2 159.4h0M308.5 144.3h0M333.7 129.1h0M356.1 152.1h0M400.9 177.3h0M317.7 151.4h0M365.9 131.1h0M348.2 184.3h0M331.5 182.0h0M390.3 166.7h0M324.0 174.3h0M310.7 171.9h0M328.3 173.6h0M338.1 130.8h0M381.6 180.1h0M374.8 140.0h0M331.7 131.8h0M359.2 146.4h0M316.6 168.1h0M362.4 152.0h0M355.9 166.9h0M362.0 179.6h0M367.3 177.1h0M307.5 149.1h0M348.8 165.5h0M323.6 182.8h0M319.7 173.2h0M394.8 146.8h0M368.1 167.0h0M336.5 188.4h0M380.2 182.2h0M319.8 148.3h0M353.3 169.2h0M377.7 171.7h0M368.7 158.7h0M358.8 148.1h0M347.6 178.6h0M385.4 139.8h0M392.2 187.4h0M377.5 188.9h0M375.3 132.0h0M390.6 172.2h0M329.7 151.5h0M378.5 181.3h0M346.5 144.6h0M354.3 151.1h0M366.3 179.9h0M400.7 162.0h0M370.6 169.1h0M325.6 134.5h0M370.9 131.2h0M312.8 147.5h0M394.5 187.6h0M376.7 145.5h0M368.2 141.5h0M335.2 183.5h0M320.3 133.9h0M387.6 177.8h0M390.9 132.0h0M352.7 178.2h0M399.0 159.9h0M315.0 147.0h0M395.5 185.0h0M321.6 128.4h0M398.4 160.5h0M323.0 164.5h0M374.3 147.4h0M376.4 138.5h0M309.8 156.1h0M363.5 142.9h0M332.7 163.2h0M328.4 176.3h0M369.9 156.0h0M347.7 182.0h0M335.1 186.1h0M388.3 149.4h0M326.6 130.7h0M375.9 173.3h0M334.5 134.1h0M355.0 170.7h0M368.4 171.6h0M376.2 147.4h0M394.5 138.6h0M331.4 184.1h0M373.8 181.7h0M315.4 138.3h0M393.0 134.6h0M318.8 159.3h0M335.8 151.5h0M358.2 176.0h0M343.5 145.1h0M328.7 171.7h0M359.5 139.2h0M372.6 130.7h0M385.7 153.7h0M332.3 172.5h0M309.5 162.8h0M348.8 173.1h0M360.5 149.1h0M347.0 176.4h0M327.4 129.9h0M392.8 156.2h0M308.1 146.5h0M363.4 147.8h0M365.0 153.7h0M351.9 166.6h0M339.0 142.7h0M378.7 151.9h0M387.1 181.8h0M348.3 183.1h0M330.7 134.9h0M383.2 166.1h0M392.3 153.5h0M345.7 158.3h0M385.7 185.7h0M358.6 170.3h0M364.0 159.4h0M314.8 142.2h0M339.9 137.9h0M372.4 178.6h0M385.5 187.6h0M335.7 150.1h0M333.0 181.6h0M353.1 182.8h0M345.9 183.3h0M354.8 178.2h0M341.9 139.1h0M398.5 153.2h0M364.9 174.9h0M331.4 174.7h0M395.0 152.4h0M311.8 135.0h0M385.1 169.0h0M338.5 133.5h0M399.9 172.9h0M373.5 160.3h0M357.0 138.1h0M380.1 166.0h0M390.9 175.7h0M342.0 172.5h0M317.3 156.5h0M336.9 145.6h0M357.6 140.6h0M354.6 170.6h0M349.9 157.6h0M313.0 133.1h0M331.0 179.1h0M387.8 158.5h0M373.6 152.0h0M371.0 160.2h0M328.5 156.6h0M327.0 168.7h0M344.2 185.1h0M388.3 186.7h0M358.6 172.0h0M394.1 165.2h0M357.1 162.9h0M344.8 135.4h0M339.1 178.8h0M383.3 131.0h0M359.5 168.7h0M401.2 146.9h0M397.4 138.7h0M330.3 128.6h0M362.9 179.2h0M341.7 141.4h0M385.9 173.5h0M400.1 158.2h0M307.6 140.6h0M378.0 145.7h0M356.0 148.2h0M394.2 167.8h0M336.3 140.1h0M359.5 187.9h0M401.0 153.1h0M355.4 134.3h0M306.2 134.7h0M359.5 164.9h0M337.1 175.7h0M365.3 134.6h0M328.9 176.5h0M393.2 168.1h0M366.9 133.3h0M383.3 139.8h0M361.8 177.2h0M346.1 168.6h0M375.4 174.3h0M360.6 180.0h0M310.9 158.8h0M386.2 173.7h0M351.3 152.5h0M374.8 130.0h0M378.4 140.1h0M361.4 141.1h0M342.3 157.0h0M320.1 158.8h0M368.5 178.4h0M337.1 132.8h0M364.7 178.8h0M349.1 184.5h0M363.9 133.6h0M316.5 136.5h0M315.1 160.1h0M377.9 181.4h0M328.5 148.4h0M345.8 188.5h0M358.0 134.8h0M335.6 135.8h0M334.3 188.3h0M341.6 134.6h0M347.2 183.0h0M309.3 138.0h0M308.7 159.0h0M316.2 145.6h0M392.0 153.5h0M348.0 128.4h0M343.3 138.0h0M395.9 178.7h0M378.6 134.0h0M391.8 146.7h0M362.3 170.4h0M347.8 173.3h0M337.1 170.4h0M366.6 183.9h0M349.3 169.7h0M390.8 151.8h0M389.4 188.9h0M337.2 153.9h0M315.9 131.8h0M336.3 157.7h0M394.0 161.2h0M368.2 167.5h0M335.2 169.8h0M381.1 147.1h0M308.2 178.6h0M401.2 131.7h0M339.7 188.0h0M323.2 166.2h0M335.7 131.0h0M307.9 168.0h0M376.0 165.0h0M388.9 180.3h0M327.3 185.5h0M383.8 146.8h0M335.2 155.2h0M392.7 139.7h0M351.5 161.0h0M353.9 180.8h0M362.6 155.9h0M324.8 139.2h0M397.1 170.5h0M389.4 186.5h0M324.6 187.1h0M392.0 154.6h0M356.9 185.8h0M364.4 188.5h0M393.9 140.4h0M322.8 138.9h0M314.9 185.9h0M392.0 160.3h0M362.4 158.6h0M378.2 135.2h0M342.5 152.8h0M343.0 174.6h0M360.8 149.9h0M329.0 178.9h0M323.2 161.7h0M399.6 176.6h0M355.4 132.2h0M392.0 156.4h0M398.6 184.4h0M369.6 173.9h0M358.5 143.6h0M323.4 128.7h0M331.4 143.1h0M359.5 175.0h0M325.9 185.2h0M356.1 159.2h0M372.1 162.1h0M309.0 155.6h0M311.1 139.0h0M329.0 131.9h0M331.4 130.3h0M400.9 177.3h0M371.7 176.6h0M391.3 138.4h0M359.6 181.2h0M392.6 164.1h0M380.0 149.0h0M366.1 177.2h0M348.4 153.7h0M347.4 171.6h0M307.8 150.6h0M335.0 130.2h0M349.1 128.9h0M312.8 188.5h0M318.4 147.2h0M375.7 141.8h0M306.7 138.4h0M377.5 139.9h0" stroke="#5a2628" stroke-width="2.5" stroke-linecap="round" stroke-opacity="0.55"/><path d="M312.9 152.0h0M389.0 135.7h0M359.0 167.6h0M312.2 131.3h0M373.8 183.2h0M320.3 150.7h0M359.9 146.6h0M387.6 134.0h0M332.0 131.9h0M382.9 176.8h0M317.7 156.5h0M342.2 150.6h0M392.1 133.0h0M383.1 158.0h0M386.6 135.2h0M371.9 156.3h0M390.3 136.7h0M333.9 152.5h0M380.7 134.9h0M316.6 147.9h0M332.7 154.9h0M382.9 141.4h0M398.5 131.4h0M332.7 158.7h0M325.1 158.7h0M390.3 161.4h0M379.4 170.4h0M333.8 160.6h0M376.8 168.6h0M338.5 184.9h0M382.1 155.3h0M371.6 169.9h0M382.3 145.9h0M376.2 182.6h0M313.3 178.6h0M365.5 171.8h0M328.4 158.1h0M326.6 179.7h0M387.1 146.7h0M315.4 160.9h0M330.4 183.0h0M374.7 154.7h0M346.1 143.5h0M319.2 143.5h0M385.3 164.1h0M375.2 178.1h0M393.9 149.3h0M396.2 140.6h0M375.3 135.2h0M389.9 141.3h0M325.1 162.2h0M367.6 139.0h0M385.1 146.5h0M307.0 178.2h0M315.0 139.8h0M327.6 154.3h0M325.3 134.5h0M375.0 164.1h0M348.9 139.0h0M389.5 135.6h0M396.5 152.9h0M393.0 128.7h0M325.0 178.6h0M346.5 183.5h0M314.7 142.3h0M315.1 183.7h0M391.4 140.6h0M373.3 167.3h0M381.2 142.3h0M373.2 185.0h0M356.3 174.1h0M313.8 153.1h0M373.6 174.0h0M334.7 150.7h0M307.7 156.2h0M350.6 182.3h0M341.0 164.6h0M374.9 163.4h0M382.3 166.0h0M373.3 169.1h0M387.1 177.9h0M376.5 161.9h0M369.6 170.9h0M310.9 179.1h0M317.7 141.9h0M342.3 138.6h0M387.2 138.7h0M373.3 167.3h0M362.2 185.9h0M340.4 180.8h0M397.7 154.3h0M373.2 149.6h0M371.1 169.0h0M335.2 187.4h0M324.6 143.6h0M332.8 161.8h0M332.9 172.3h0M311.5 138.8h0M333.1 154.1h0M308.4 172.0h0M321.3 184.2h0M377.8 140.7h0M312.4 163.7h0M339.5 133.8h0M366.5 179.6h0M364.9 156.6h0M329.9 145.5h0M306.2 138.8h0M388.7 153.5h0M400.3 147.1h0M368.6 176.2h0M319.2 140.3h0M319.2 146.7h0M341.0 152.3h0M316.9 151.6h0M377.5 179.9h0M323.8 186.4h0M385.2 143.4h0M343.3 155.9h0M322.2 158.5h0" stroke="#8a78a8" stroke-width="2.0" stroke-linecap="round" stroke-opacity="0.35"/><path d="M348.3 181.9h0M348.6 129.5h0M364.8 144.8h0M313.3 187.6h0M351.7 183.0h0M353.2 133.1h0M380.8 149.1h0M364.7 182.5h0M379.4 151.8h0M341.0 170.4h0M358.7 175.4h0M349.6 175.0h0M365.9 149.9h0M311.3 185.5h0M352.7 169.7h0M356.7 161.2h0M384.9 139.3h0M320.7 161.4h0M321.8 141.4h0M385.5 129.0h0M315.8 172.1h0M396.8 137.5h0M378.7 157.6h0M335.4 177.6h0M384.9 137.0h0M381.1 186.0h0M308.4 130.1h0M332.5 172.1h0M322.3 185.9h0M306.7 147.1h0M385.3 157.9h0M393.7 185.5h0M315.1 163.8h0M337.7 168.5h0M313.7 135.1h0M330.4 161.6h0M385.3 155.6h0M342.5 161.4h0M344.0 181.9h0M309.7 128.7h0" stroke="#e8d8d8" stroke-width="1.4" stroke-linecap="round" stroke-opacity="0.5"/></g></g><rect x="306.0" y="128.2" width="95.4" height="61.2" fill="none" stroke="#666" stroke-width="0.8"/><text x="188" y="12.8" font-size="11" font-weight="bold" text-anchor="start" fill="#000">C</text><text x="203.0" y="31.5" font-size="7.6" font-weight="bold" text-anchor="middle" fill="#111" transform="rotate(-90 203.0 31.5)">Para-carcinoma</text><text x="203.2" y="98.0" font-size="7.9" font-weight="bold" text-anchor="middle" fill="#111" transform="rotate(-90 203.2 98.0)">Tumor (Stage I)</text><text x="203.2" y="159.4" font-size="8.0" font-weight="bold" text-anchor="middle" fill="#111" transform="rotate(-90 203.2 159.4)">Tumor (Stage IV)</text><text x="406.1" y="97.4" font-size="7.7" font-weight="bold" text-anchor="middle" fill="#111" transform="rotate(90 406.1 97.4)">Lung cancer</text><text x="255.5" y="199.8" font-size="7.5" font-weight="bold" text-anchor="middle" fill="#111">200 ×</text><text x="353" y="199.8" font-size="7.5" font-weight="bold" text-anchor="middle" fill="#111">400 ×</text><text x="289" y="182.0" font-size="7.0" font-weight="bold" text-anchor="middle" fill="#111">100 μm</text><path d="M275.6 183.2V185.3H302V183.2" fill="none" stroke="#111" stroke-width="1.4"/><text x="382.6" y="182.4" font-size="7.0" font-weight="bold" text-anchor="middle" fill="#111">50 μm</text><path d="M365.7 183.8V185.9H399.8V183.8" fill="none" stroke="#111" stroke-width="1.4"/><text x="200.3" y="214.6" font-size="11" font-weight="bold" text-anchor="start" fill="#000">D</text><path d="M240.4 216.75V328.4H393.4" fill="none" stroke="#111" stroke-width="1.1"/><path d="M237 328.40H240.4" stroke="#111" stroke-width="1"/><text x="236.2" y="331.0" font-size="7.2" font-weight="bold" text-anchor="end" fill="#111">0</text><path d="M237 291.15H240.4" stroke="#111" stroke-width="1"/><text x="236.2" y="293.75" font-size="7.2" font-weight="bold" text-anchor="end" fill="#111">5</text><path d="M237 253.90H240.4" stroke="#111" stroke-width="1"/><text x="236.2" y="256.5" font-size="7.2" font-weight="bold" text-anchor="end" fill="#111">10</text><path d="M237 216.65H240.4" stroke="#111" stroke-width="1"/><text x="236.2" y="219.24999999999997" font-size="7.2" font-weight="bold" text-anchor="end" fill="#111">15</text><path d="M284.4 328.4v2.4" stroke="#111" stroke-width="1"/><path d="M348.8 328.4v2.4" stroke="#111" stroke-width="1"/><text x="215.3" y="272" font-size="7.4" font-weight="bold" text-anchor="middle" fill="#111" transform="rotate(-90 215.3 272)">Quantification of ANXA2</text><text x="224.5" y="272" font-size="7.4" font-weight="bold" text-anchor="middle" fill="#111" transform="rotate(-90 224.5 272)">expression by IHC staining</text><text x="284" y="340.6" font-size="7.75" font-weight="bold" text-anchor="middle" fill="#111">Para-carcinoma tissue</text><text x="349" y="340.6" font-size="7.75" font-weight="bold" text-anchor="middle" fill="#111">Tumor tissue</text><text x="284.8" y="349" font-size="7.7" font-weight="bold" text-anchor="middle" fill="#111">(n=86)</text><text x="350" y="349" font-size="7.7" font-weight="bold" text-anchor="middle" fill="#111">(n=77)</text><path d="M282.9 233.4V229.5H348.6V233.4" fill="none" stroke="#222" stroke-width="1"/><text x="315.7" y="231.3" font-size="14" text-anchor="middle" fill="#111">***</text><path d="M284 292.7V314.5M273.2 292.7H295" stroke="#6a6af0" stroke-width="0.9"/><path d="M283.5 268.5H284.5" stroke="#2020f0" stroke-width="3.2" stroke-linecap="round"/><path d="M280.2 283.5H288" stroke="#2020f0" stroke-width="3" stroke-linecap="round"/><path d="M268.5 298.5H299.7" stroke="#2020f0" stroke-width="3" stroke-linecap="round"/><path d="M284 306H284.01" stroke="#2020f0" stroke-width="2.6" stroke-linecap="round"/><path d="M284 309.7H284.01" stroke="#2020f0" stroke-width="2.6" stroke-linecap="round"/><path d="M263.5 313.8H304.5" stroke="#2020f0" stroke-width="3" stroke-linecap="round"/><path d="M270 315.3H299" stroke="#2020f0" stroke-width="1.6"/><path d="M349 267.5V304.2M338 267.5H360M327.7 286H371M338 304.2H360" stroke="#e0a0f0" stroke-width="0.9"/><path d="M347.6 238.7H350.6" stroke="#c737e8" stroke-width="2.8" stroke-linecap="round"/><path d="M345.5 253.5H346" stroke="#c737e8" stroke-width="2.8" stroke-linecap="round"/><path d="M350.5 253.5H352.5" stroke="#c737e8" stroke-width="2.8" stroke-linecap="round"/><path d="M348.5 261.2H350" stroke="#c737e8" stroke-width="2.8" stroke-linecap="round"/><path d="M345 268.7H345.01" stroke="#c737e8" stroke-width="2.4" stroke-linecap="round"/><path d="M352 268.7H352.01" stroke="#c737e8" stroke-width="2.4" stroke-linecap="round"/><path d="M356.5 268.7H356.51" stroke="#c737e8" stroke-width="2.4" stroke-linecap="round"/><path d="M366 268.7H366.01" stroke="#c737e8" stroke-width="2.4" stroke-linecap="round"/><path d="M328.8 272.4H369.8" stroke="#c737e8" stroke-width="3" stroke-linecap="round"/><path d="M336 283.6H362.5" stroke="#c737e8" stroke-width="3" stroke-linecap="round"/><path d="M344.5 291.4H354.5" stroke="#c737e8" stroke-width="3" stroke-linecap="round"/><path d="M332 298.4H366" stroke="#c737e8" stroke-width="3" stroke-linecap="round"/><path d="M350 306H350.01" stroke="#c737e8" stroke-width="2.4" stroke-linecap="round"/><path d="M339.6 309.8H339.61" stroke="#c737e8" stroke-width="2.4" stroke-linecap="round"/><path d="M357.5 309.8H357.51" stroke="#c737e8" stroke-width="2.4" stroke-linecap="round"/><path d="M339 313.6H357.5" stroke="#c737e8" stroke-width="3" stroke-linecap="round"/><path d="M348.5 328.3H348.51" stroke="#c737e8" stroke-width="2.4" stroke-linecap="round"/><text x="420.8" y="13.4" font-size="11" font-weight="bold" text-anchor="start" fill="#000">E</text><path d="M484.7 120.9V120.3M478.09999999999997 120.3H491.3" stroke="#7a7a7a" stroke-width="0.8"/><rect x="471.2" y="120.9" width="27" height="18.90" fill="#d9d9d9" stroke="#111" stroke-width="1.25"/><path d="M484.7 139.8v3" stroke="#111" stroke-width="1.2"/><text x="484.7" y="151.1" font-size="7.55" font-weight="bold" text-anchor="middle" fill="#111">BEAS-2B</text><path d="M525.4 88.9V83.0M518.8 83.0H532.0" stroke="#7a7a7a" stroke-width="0.8"/><rect x="511.9" y="88.9" width="27" height="50.90" fill="#8f6a2e" stroke="#111" stroke-width="1.25"/><path d="M525.4 139.8v3" stroke="#111" stroke-width="1.2"/><text x="525.4" y="151.1" font-size="7.55" font-weight="bold" text-anchor="middle" fill="#111">A549</text><path d="M566.6 51.2V38.1M560.0 38.1H573.2" stroke="#7a7a7a" stroke-width="0.8"/><rect x="553.1" y="51.2" width="27" height="88.60" fill="#a31a12" stroke="#111" stroke-width="1.25"/><path d="M566.6 139.8v3" stroke="#111" stroke-width="1.2"/><text x="566.6" y="151.1" font-size="7.55" font-weight="bold" text-anchor="middle" fill="#111">NCI-H1299</text><path d="M607.6 105.2V103.4M601.0 103.4H614.2" stroke="#7a7a7a" stroke-width="0.8"/><rect x="594.1" y="105.2" width="27" height="34.60" fill="#d3aab0" stroke="#111" stroke-width="1.25"/><path d="M607.6 139.8v3" stroke="#111" stroke-width="1.2"/><text x="607.6" y="151.1" font-size="7.55" font-weight="bold" text-anchor="middle" fill="#111">NCI-H1437</text><path d="M649.0 106.8V104.3M642.4 104.3H655.6" stroke="#7a7a7a" stroke-width="0.8"/><rect x="635.5" y="106.8" width="27" height="33.00" fill="#d4baa8" stroke="#111" stroke-width="1.25"/><path d="M649.0 139.8v3" stroke="#111" stroke-width="1.2"/><text x="649.0" y="151.1" font-size="7.55" font-weight="bold" text-anchor="middle" fill="#111">NCI-H1944</text><path d="M450 23.6V139.8H679.5" fill="none" stroke="#111" stroke-width="1.8"/><path d="M447 139.80H450" stroke="#111" stroke-width="1.6"/><text x="446.3" y="142.5" font-size="7.6" font-weight="bold" text-anchor="end" fill="#111">0</text><path d="M447 120.55H450" stroke="#111" stroke-width="1.6"/><text x="446.3" y="123.25000000000001" font-size="7.6" font-weight="bold" text-anchor="end" fill="#111">1</text><path d="M447 101.30H450" stroke="#111" stroke-width="1.6"/><text x="446.3" y="104.00000000000001" font-size="7.6" font-weight="bold" text-anchor="end" fill="#111">2</text><path d="M447 82.05H450" stroke="#111" stroke-width="1.6"/><text x="446.3" y="84.75000000000001" font-size="7.6" font-weight="bold" text-anchor="end" fill="#111">3</text><path d="M447 62.80H450" stroke="#111" stroke-width="1.6"/><text x="446.3" y="65.50000000000001" font-size="7.6" font-weight="bold" text-anchor="end" fill="#111">4</text><path d="M447 43.55H450" stroke="#111" stroke-width="1.6"/><text x="446.3" y="46.250000000000014" font-size="7.6" font-weight="bold" text-anchor="end" fill="#111">5</text><path d="M447 24.30H450" stroke="#111" stroke-width="1.6"/><text x="446.3" y="27.00000000000001" font-size="7.6" font-weight="bold" text-anchor="end" fill="#111">6</text><path d="M484.2 11H648.4M485 23.1H603.2M485 34H566.4M484.7 81.9H525.5" stroke="#111" stroke-width="1.85"/><text x="561.7" y="13.8" font-size="14" font-weight="bold" text-anchor="middle" fill="#111" stroke="#111" stroke-width="0.3">***</text><text x="546.2" y="25.8" font-size="14" font-weight="bold" text-anchor="middle" fill="#111" stroke="#111" stroke-width="0.3">***</text><text x="520.5" y="37.0" font-size="14" font-weight="bold" text-anchor="middle" fill="#111" stroke="#111" stroke-width="0.3">*</text><text x="504.6" y="83.3" font-size="14.5" font-weight="bold" text-anchor="middle" fill="#111" stroke="#111" stroke-width="0.3">**</text><text x="430.4" y="81.3" font-size="7.8" text-anchor="middle" fill="#111" transform="rotate(-90 430.4 81.3)" stroke="#111" stroke-width="0.22">Relative mRNA level</text><text x="438.3" y="82.1" font-size="7.8" text-anchor="middle" fill="#111" transform="rotate(-90 438.3 82.1)" stroke="#111" stroke-width="0.22">(MAT1A/GAPDH)</text><text x="422.4" y="182.2" font-size="10.5" font-weight="bold" text-anchor="start" fill="#000">F</text><rect x="447" y="170.5" width="178" height="157.5" fill="#f0f1f1"/><path d="M447 170.5H625V328" fill="none" stroke="#9c9c9c" stroke-width="1.2"/><path d="M447 170V328H625.6" fill="none" stroke="#999" stroke-width="1.7"/><path d="M444.2 320.30H447" stroke="#555" stroke-width="0.9"/><text x="444.3" y="322.1" font-size="5" text-anchor="end" fill="#333">0.0</text><path d="M444.2 291.92H447" stroke="#555" stroke-width="0.9"/><text x="444.3" y="293.72" font-size="5" text-anchor="end" fill="#333">0.2</text><path d="M444.2 263.54H447" stroke="#555" stroke-width="0.9"/><text x="444.3" y="265.34000000000003" font-size="5" text-anchor="end" fill="#333">0.4</text><path d="M444.2 235.16H447" stroke="#555" stroke-width="0.9"/><text x="444.3" y="236.96000000000004" font-size="5" text-anchor="end" fill="#333">0.6</text><path d="M444.2 206.78H447" stroke="#555" stroke-width="0.9"/><text x="444.3" y="208.58" font-size="5" text-anchor="end" fill="#333">0.8</text><path d="M444.2 178.40H447" stroke="#555" stroke-width="0.9"/><text x="444.3" y="180.20000000000002" font-size="5" text-anchor="end" fill="#333">1.0</text><path d="M455.50 328v2.2" stroke="#555" stroke-width="0.9"/><text x="455.5" y="335.6" font-size="5" text-anchor="middle" fill="#333">0</text><path d="M501.50 328v2.2" stroke="#555" stroke-width="0.9"/><text x="501.5" y="335.6" font-size="5" text-anchor="middle" fill="#333">20</text><path d="M547.50 328v2.2" stroke="#555" stroke-width="0.9"/><text x="547.5" y="335.6" font-size="5" text-anchor="middle" fill="#333">40</text><path d="M593.50 328v2.2" stroke="#555" stroke-width="0.9"/><text x="593.5" y="335.6" font-size="5" text-anchor="middle" fill="#333">60</text><text x="523.9" y="180.9" font-size="7.05" font-weight="bold" text-anchor="middle" fill="#111">Log Rank P=0.028</text><text x="431.2" y="253" font-size="7.5" font-weight="bold" text-anchor="middle" fill="#111" transform="rotate(-90 431.2 253)">Survival probability</text><text x="538.5" y="346.3" font-size="7.78" font-weight="bold" text-anchor="middle" fill="#111">Overall survival (months)</text><path d="M455.9 178.2H471.3V188.8H515.5V202H615" fill="none" stroke="#7f8fcf" stroke-width="1.1"/><path d="M455.9 178.2H469.1V201.3H474.3V225H483V248.8H516.4V272.7H609" fill="none" stroke="#8cd88c" stroke-width="1.1"/><path d="M486.3 187.6v2.4" stroke="#6070c0" stroke-width="0.9"/><path d="M499.3 187.6v2.4" stroke="#6070c0" stroke-width="0.9"/><path d="M577.5 200.8v2.4" stroke="#6070c0" stroke-width="0.9"/><path d="M579.2 200.8v2.4" stroke="#6070c0" stroke-width="0.9"/><path d="M580.8 200.8v2.4" stroke="#6070c0" stroke-width="0.9"/><path d="M582.2 200.8v2.4" stroke="#6070c0" stroke-width="0.9"/><path d="M591.5 200.8v2.4" stroke="#6070c0" stroke-width="0.9"/><path d="M609 200.8v2.4" stroke="#6070c0" stroke-width="0.9"/><path d="M613.5 200.8v2.4" stroke="#6070c0" stroke-width="0.9"/><path d="M601.5 271.5v2.4" stroke="#70c070" stroke-width="0.9"/><path d="M609 271.5v2.4" stroke="#70c070" stroke-width="0.9"/><rect x="447.9" y="306.1" width="111.8" height="21.1" fill="#fff"/><path d="M447.8 313.3H453.75V310.3H460.9V313.4" fill="none" stroke="#7080cc" stroke-width="1.1"/><path d="M447.8 323.2H453.75V319.7H460.9V323.1" fill="none" stroke="#7fd67f" stroke-width="1.1"/><text x="462.6" y="315.3" font-size="8.05" text-anchor="start" fill="#000" stroke="#000" stroke-width="0.12">low expession of MAT1A</text><text x="462.6" y="324.9" font-size="8.05" text-anchor="start" fill="#000" stroke="#000" stroke-width="0.12">high expession of MAT1A</text></svg></body></html>
